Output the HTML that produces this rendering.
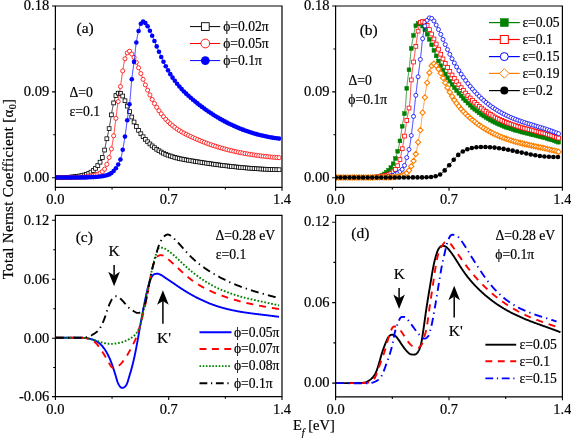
<!DOCTYPE html>
<html><head><meta charset="utf-8"><style>
html,body{margin:0;padding:0;background:#fff;width:571px;height:438px;overflow:hidden}
svg{display:block;will-change:transform}
text{font-family:"Liberation Serif",serif}
</style></head><body>
<svg width="571" height="438" viewBox="0 0 571 438">
<rect width="571" height="438" fill="#fff"/>
<defs><clipPath id="cpa"><rect x="55.4" y="6.0" width="226.6" height="181.4"/></clipPath><clipPath id="cpb"><rect x="335.6" y="6.0" width="226.79999999999995" height="181.4"/></clipPath><clipPath id="cpc"><rect x="55.4" y="215.4" width="226.6" height="181.20000000000002"/></clipPath><clipPath id="cpd"><rect x="335.6" y="215.4" width="226.79999999999995" height="181.4"/></clipPath></defs>
<g clip-path="url(#cpa)"><path d="M55.88,177.60 L56.48,177.60 L57.08,177.59 L57.68,177.59 L58.28,177.59 L58.88,177.58 L59.47,177.58 L60.07,177.57 L60.67,177.57 L61.27,177.56 L61.87,177.55 L62.47,177.54 L63.07,177.53 L63.67,177.52 L64.27,177.51 L64.87,177.50 L65.47,177.48 L66.06,177.46 L66.66,177.43 L67.26,177.39 L67.86,177.36 L68.46,177.31 L69.05,177.26 L69.65,177.21 L70.25,177.15 L70.84,177.09 L71.44,177.03 L72.03,176.96 L72.63,176.89 L73.23,176.82 L73.82,176.75 L74.42,176.68 L75.01,176.61 L75.60,176.54 L76.20,176.46 L76.79,176.38 L77.39,176.30 L77.98,176.22 L78.57,176.13 L79.17,176.04 L79.76,175.94 L80.35,175.84 L80.94,175.74 L81.53,175.63 L82.11,175.51 L82.70,175.39 L83.29,175.26 L83.87,175.12 L84.45,174.98 L85.03,174.82 L85.60,174.65 L86.17,174.46 L86.74,174.26 L87.30,174.05 L87.85,173.81 L88.39,173.57 L88.93,173.30 L89.47,173.03 L89.99,172.74 L90.51,172.45 L91.03,172.14 L91.53,171.81 L92.03,171.48 L92.51,171.12 L92.98,170.76 L93.44,170.37 L93.89,169.97 L94.32,169.56 L94.74,169.13 L95.16,168.70 L95.56,168.25 L95.95,167.80 L96.34,167.34 L96.72,166.88 L97.09,166.41 L97.46,165.94 L97.82,165.46 L98.18,164.98 L98.53,164.49 L98.87,164.00 L99.21,163.51 L99.54,163.01 L99.86,162.50 L100.17,161.99 L100.47,161.47 L100.76,160.94 L101.04,160.41 L101.30,159.88 L101.56,159.33 L101.80,158.79 L102.04,158.23 L102.26,157.68 L102.48,157.12 L102.69,156.56 L102.89,155.99 L103.08,155.43 L103.27,154.86 L103.45,154.29 L103.62,153.71 L103.79,153.14 L103.95,152.56 L104.11,151.98 L104.26,151.40 L104.40,150.82 L104.54,150.24 L104.67,149.65 L104.80,149.07 L104.92,148.48 L105.04,147.89 L105.15,147.30 L105.26,146.72 L105.37,146.13 L105.48,145.54 L105.59,144.95 L105.69,144.36 L105.80,143.77 L105.91,143.18 L106.03,142.59 L106.14,142.00 L106.26,141.42 L106.39,140.83 L106.51,140.25 L106.64,139.66 L106.78,139.08 L106.91,138.49 L107.05,137.91 L107.19,137.33 L107.33,136.74 L107.47,136.16 L107.61,135.58 L107.75,134.99 L107.88,134.41 L108.02,133.83 L108.16,133.24 L108.29,132.66 L108.42,132.08 L108.55,131.49 L108.67,130.90 L108.79,130.32 L108.91,129.73 L109.02,129.14 L109.13,128.55 L109.24,127.96 L109.34,127.37 L109.44,126.78 L109.54,126.19 L109.64,125.60 L109.74,125.01 L109.83,124.42 L109.93,123.82 L110.02,123.23 L110.12,122.64 L110.21,122.05 L110.30,121.46 L110.39,120.86 L110.49,120.27 L110.58,119.68 L110.67,119.09 L110.77,118.50 L110.87,117.91 L110.96,117.31 L111.06,116.72 L111.16,116.13 L111.26,115.54 L111.36,114.95 L111.46,114.36 L111.56,113.77 L111.66,113.18 L111.76,112.59 L111.86,112.00 L111.96,111.41 L112.07,110.82 L112.17,110.23 L112.28,109.64 L112.38,109.05 L112.49,108.46 L112.60,107.87 L112.72,107.28 L112.84,106.69 L112.96,106.11 L113.08,105.52 L113.20,104.93 L113.33,104.35 L113.46,103.76 L113.59,103.18 L113.73,102.59 L113.86,102.01 L114.01,101.43 L114.16,100.85 L114.31,100.27 L114.47,99.69 L114.64,99.12 L114.82,98.55 L115.01,97.98 L115.20,97.41 L115.40,96.84 L115.61,96.28 L115.82,95.72 L116.06,95.17 L116.33,94.64 L116.64,94.13 L117.04,93.68 L117.54,93.36 L118.11,93.18 L118.71,93.11 L119.31,93.12 L119.90,93.23 L120.45,93.45 L120.95,93.78 L121.39,94.19 L121.78,94.65 L122.13,95.13 L122.46,95.63 L122.77,96.14 L123.06,96.66 L123.34,97.20 L123.60,97.74 L123.86,98.28 L124.11,98.82 L124.36,99.37 L124.60,99.91 L124.85,100.46 L125.09,101.01 L125.33,101.56 L125.57,102.11 L125.81,102.66 L126.04,103.21 L126.28,103.76 L126.51,104.31 L126.74,104.86 L126.97,105.42 L127.20,105.97 L127.43,106.52 L127.66,107.08 L127.88,107.63 L128.11,108.19 L128.34,108.74 L128.56,109.30 L128.79,109.85 L129.02,110.41 L129.25,110.96 L129.48,111.51 L129.71,112.07 L129.93,112.62 L130.16,113.17 L130.39,113.73 L130.62,114.28 L130.86,114.83 L131.09,115.39 L131.32,115.94 L131.56,116.49 L131.79,117.04 L132.03,117.59 L132.27,118.14 L132.52,118.69 L132.76,119.23 L133.00,119.78 L133.25,120.33 L133.51,120.87 L133.76,121.41 L134.02,121.95 L134.28,122.49 L134.54,123.03 L134.81,123.57 L135.08,124.10 L135.35,124.64 L135.63,125.17 L135.91,125.70 L136.19,126.23 L136.48,126.75 L136.77,127.27 L137.06,127.80 L137.36,128.32 L137.67,128.83 L137.97,129.35 L138.28,129.86 L138.60,130.37 L138.92,130.88 L139.24,131.38 L139.57,131.88 L139.90,132.38 L140.24,132.88 L140.58,133.37 L140.92,133.86 L141.27,134.35 L141.63,134.83 L141.99,135.31 L142.35,135.79 L142.72,136.26 L143.09,136.73 L143.47,137.19 L143.85,137.65 L144.24,138.11 L144.63,138.56 L145.03,139.01 L145.43,139.46 L145.83,139.90 L146.24,140.34 L146.65,140.77 L147.07,141.20 L147.49,141.63 L147.92,142.05 L148.35,142.47 L148.78,142.88 L149.22,143.29 L149.66,143.70 L150.10,144.10 L150.55,144.50 L151.00,144.90 L151.45,145.29 L151.91,145.67 L152.37,146.06 L152.84,146.43 L153.31,146.81 L153.78,147.17 L154.26,147.54 L154.74,147.90 L155.22,148.25 L155.71,148.60 L156.20,148.94 L156.70,149.28 L157.19,149.61 L157.69,149.94 L158.20,150.26 L158.71,150.58 L159.22,150.89 L159.73,151.20 L160.25,151.50 L160.78,151.79 L161.30,152.08 L161.83,152.37 L162.36,152.64 L162.89,152.92 L163.43,153.19 L163.96,153.45 L164.51,153.71 L165.05,153.96 L165.60,154.20 L166.15,154.43 L166.71,154.66 L167.26,154.88 L167.82,155.09 L168.39,155.30 L168.95,155.51 L169.51,155.71 L170.08,155.90 L170.65,156.10 L171.21,156.28 L171.78,156.47 L172.36,156.65 L172.93,156.83 L173.50,157.00 L174.08,157.17 L174.65,157.34 L175.23,157.50 L175.81,157.65 L176.39,157.81 L176.97,157.96 L177.55,158.10 L178.13,158.24 L178.71,158.38 L179.30,158.51 L179.88,158.64 L180.47,158.77 L181.06,158.89 L181.64,159.01 L182.23,159.12 L182.82,159.24 L183.41,159.35 L184.00,159.46 L184.59,159.57 L185.18,159.67 L185.77,159.78 L186.36,159.88 L186.95,159.99 L187.54,160.09 L188.13,160.20 L188.72,160.30 L189.31,160.41 L189.90,160.51 L190.49,160.61 L191.08,160.71 L191.67,160.82 L192.26,160.92 L192.85,161.02 L193.44,161.12 L194.03,161.21 L194.62,161.31 L195.21,161.41 L195.81,161.51 L196.40,161.61 L196.99,161.70 L197.58,161.80 L198.17,161.89 L198.76,161.99 L199.36,162.08 L199.95,162.17 L200.54,162.27 L201.13,162.36 L201.72,162.45 L202.32,162.54 L202.91,162.63 L203.50,162.72 L204.09,162.81 L204.69,162.90 L205.28,162.99 L205.87,163.08 L206.46,163.16 L207.06,163.25 L207.65,163.34 L208.24,163.43 L208.84,163.51 L209.43,163.60 L210.02,163.68 L210.62,163.77 L211.21,163.85 L211.80,163.94 L212.39,164.02 L212.99,164.10 L213.58,164.19 L214.17,164.27 L214.77,164.35 L215.36,164.44 L215.96,164.52 L216.55,164.60 L217.14,164.68 L217.74,164.76 L218.33,164.84 L218.92,164.92 L219.52,165.00 L220.11,165.07 L220.71,165.15 L221.30,165.23 L221.90,165.30 L222.49,165.38 L223.08,165.46 L223.68,165.53 L224.27,165.60 L224.87,165.68 L225.46,165.75 L226.06,165.82 L226.65,165.89 L227.25,165.96 L227.84,166.03 L228.44,166.10 L229.03,166.16 L229.63,166.23 L230.23,166.30 L230.82,166.37 L231.42,166.43 L232.01,166.50 L232.61,166.56 L233.20,166.63 L233.80,166.69 L234.40,166.76 L234.99,166.82 L235.59,166.89 L236.18,166.95 L236.78,167.01 L237.37,167.07 L237.97,167.13 L238.57,167.20 L239.16,167.26 L239.76,167.31 L240.36,167.37 L240.95,167.43 L241.55,167.49 L242.14,167.55 L242.74,167.60 L243.34,167.66 L243.93,167.71 L244.53,167.77 L245.13,167.82 L245.73,167.87 L246.32,167.92 L246.92,167.97 L247.52,168.02 L248.11,168.07 L248.71,168.12 L249.31,168.17 L249.91,168.22 L250.50,168.26 L251.10,168.31 L251.70,168.36 L252.30,168.40 L252.89,168.45 L253.49,168.49 L254.09,168.54 L254.69,168.58 L255.28,168.63 L255.88,168.67 L256.48,168.71 L257.08,168.75 L257.67,168.79 L258.27,168.83 L258.87,168.87 L259.47,168.91 L260.07,168.95 L260.66,168.98 L261.26,169.02 L261.86,169.05 L262.46,169.08 L263.06,169.11 L263.66,169.15 L264.25,169.17 L264.85,169.20 L265.45,169.23 L266.05,169.26 L266.65,169.29 L267.25,169.31 L267.85,169.34 L268.44,169.36 L269.04,169.39 L269.64,169.41 L270.24,169.44 L270.84,169.46 L271.44,169.49 L272.04,169.51 L272.64,169.53 L273.23,169.55 L273.83,169.57 L274.43,169.59 L275.03,169.61 L275.63,169.63 L276.23,169.65 L276.83,169.67 L277.43,169.69 L278.03,169.70 L278.63,169.72" fill="none" stroke="#000" stroke-width="0.8"/>
<rect x="55.10" y="175.70" width="3.8" height="3.8" fill="#fff" stroke="#000" stroke-width="0.8"/>
<rect x="57.37" y="175.68" width="3.8" height="3.8" fill="#fff" stroke="#000" stroke-width="0.8"/>
<rect x="59.63" y="175.65" width="3.8" height="3.8" fill="#fff" stroke="#000" stroke-width="0.8"/>
<rect x="61.90" y="175.62" width="3.8" height="3.8" fill="#fff" stroke="#000" stroke-width="0.8"/>
<rect x="64.16" y="175.56" width="3.8" height="3.8" fill="#fff" stroke="#000" stroke-width="0.8"/>
<rect x="66.43" y="175.42" width="3.8" height="3.8" fill="#fff" stroke="#000" stroke-width="0.8"/>
<rect x="68.70" y="175.22" width="3.8" height="3.8" fill="#fff" stroke="#000" stroke-width="0.8"/>
<rect x="70.96" y="174.96" width="3.8" height="3.8" fill="#fff" stroke="#000" stroke-width="0.8"/>
<rect x="73.23" y="174.69" width="3.8" height="3.8" fill="#fff" stroke="#000" stroke-width="0.8"/>
<rect x="75.49" y="174.40" width="3.8" height="3.8" fill="#fff" stroke="#000" stroke-width="0.8"/>
<rect x="77.76" y="174.06" width="3.8" height="3.8" fill="#fff" stroke="#000" stroke-width="0.8"/>
<rect x="80.03" y="173.65" width="3.8" height="3.8" fill="#fff" stroke="#000" stroke-width="0.8"/>
<rect x="82.29" y="173.14" width="3.8" height="3.8" fill="#fff" stroke="#000" stroke-width="0.8"/>
<rect x="84.56" y="172.46" width="3.8" height="3.8" fill="#fff" stroke="#000" stroke-width="0.8"/>
<rect x="86.82" y="171.51" width="3.8" height="3.8" fill="#fff" stroke="#000" stroke-width="0.8"/>
<rect x="89.09" y="170.26" width="3.8" height="3.8" fill="#fff" stroke="#000" stroke-width="0.8"/>
<rect x="91.36" y="168.63" width="3.8" height="3.8" fill="#fff" stroke="#000" stroke-width="0.8"/>
<rect x="93.62" y="166.39" width="3.8" height="3.8" fill="#fff" stroke="#000" stroke-width="0.8"/>
<rect x="95.89" y="163.61" width="3.8" height="3.8" fill="#fff" stroke="#000" stroke-width="0.8"/>
<rect x="98.15" y="160.28" width="3.8" height="3.8" fill="#fff" stroke="#000" stroke-width="0.8"/>
<rect x="100.42" y="155.63" width="3.8" height="3.8" fill="#fff" stroke="#000" stroke-width="0.8"/>
<rect x="102.69" y="148.15" width="3.8" height="3.8" fill="#fff" stroke="#000" stroke-width="0.8"/>
<rect x="104.95" y="136.85" width="3.8" height="3.8" fill="#fff" stroke="#000" stroke-width="0.8"/>
<rect x="107.22" y="126.71" width="3.8" height="3.8" fill="#fff" stroke="#000" stroke-width="0.8"/>
<rect x="109.48" y="112.92" width="3.8" height="3.8" fill="#fff" stroke="#000" stroke-width="0.8"/>
<rect x="111.75" y="101.02" width="3.8" height="3.8" fill="#fff" stroke="#000" stroke-width="0.8"/>
<rect x="114.02" y="93.60" width="3.8" height="3.8" fill="#fff" stroke="#000" stroke-width="0.8"/>
<rect x="116.28" y="91.26" width="3.8" height="3.8" fill="#fff" stroke="#000" stroke-width="0.8"/>
<rect x="118.55" y="91.55" width="3.8" height="3.8" fill="#fff" stroke="#000" stroke-width="0.8"/>
<rect x="120.81" y="94.14" width="3.8" height="3.8" fill="#fff" stroke="#000" stroke-width="0.8"/>
<rect x="123.08" y="98.85" width="3.8" height="3.8" fill="#fff" stroke="#000" stroke-width="0.8"/>
<rect x="125.35" y="104.18" width="3.8" height="3.8" fill="#fff" stroke="#000" stroke-width="0.8"/>
<rect x="127.61" y="109.70" width="3.8" height="3.8" fill="#fff" stroke="#000" stroke-width="0.8"/>
<rect x="129.88" y="115.10" width="3.8" height="3.8" fill="#fff" stroke="#000" stroke-width="0.8"/>
<rect x="132.14" y="120.11" width="3.8" height="3.8" fill="#fff" stroke="#000" stroke-width="0.8"/>
<rect x="134.41" y="124.55" width="3.8" height="3.8" fill="#fff" stroke="#000" stroke-width="0.8"/>
<rect x="136.68" y="128.44" width="3.8" height="3.8" fill="#fff" stroke="#000" stroke-width="0.8"/>
<rect x="138.94" y="131.85" width="3.8" height="3.8" fill="#fff" stroke="#000" stroke-width="0.8"/>
<rect x="141.21" y="134.84" width="3.8" height="3.8" fill="#fff" stroke="#000" stroke-width="0.8"/>
<rect x="143.47" y="137.50" width="3.8" height="3.8" fill="#fff" stroke="#000" stroke-width="0.8"/>
<rect x="145.74" y="139.87" width="3.8" height="3.8" fill="#fff" stroke="#000" stroke-width="0.8"/>
<rect x="148.01" y="142.03" width="3.8" height="3.8" fill="#fff" stroke="#000" stroke-width="0.8"/>
<rect x="150.27" y="143.99" width="3.8" height="3.8" fill="#fff" stroke="#000" stroke-width="0.8"/>
<rect x="152.54" y="145.77" width="3.8" height="3.8" fill="#fff" stroke="#000" stroke-width="0.8"/>
<rect x="154.80" y="147.38" width="3.8" height="3.8" fill="#fff" stroke="#000" stroke-width="0.8"/>
<rect x="157.07" y="148.84" width="3.8" height="3.8" fill="#fff" stroke="#000" stroke-width="0.8"/>
<rect x="159.34" y="150.15" width="3.8" height="3.8" fill="#fff" stroke="#000" stroke-width="0.8"/>
<rect x="161.60" y="151.33" width="3.8" height="3.8" fill="#fff" stroke="#000" stroke-width="0.8"/>
<rect x="163.87" y="152.37" width="3.8" height="3.8" fill="#fff" stroke="#000" stroke-width="0.8"/>
<rect x="166.13" y="153.27" width="3.8" height="3.8" fill="#fff" stroke="#000" stroke-width="0.8"/>
<rect x="168.40" y="154.08" width="3.8" height="3.8" fill="#fff" stroke="#000" stroke-width="0.8"/>
<rect x="170.67" y="154.82" width="3.8" height="3.8" fill="#fff" stroke="#000" stroke-width="0.8"/>
<rect x="172.93" y="155.49" width="3.8" height="3.8" fill="#fff" stroke="#000" stroke-width="0.8"/>
<rect x="175.20" y="156.09" width="3.8" height="3.8" fill="#fff" stroke="#000" stroke-width="0.8"/>
<rect x="177.46" y="156.63" width="3.8" height="3.8" fill="#fff" stroke="#000" stroke-width="0.8"/>
<rect x="179.73" y="157.10" width="3.8" height="3.8" fill="#fff" stroke="#000" stroke-width="0.8"/>
<rect x="182.00" y="157.54" width="3.8" height="3.8" fill="#fff" stroke="#000" stroke-width="0.8"/>
<rect x="184.26" y="157.95" width="3.8" height="3.8" fill="#fff" stroke="#000" stroke-width="0.8"/>
<rect x="186.53" y="158.35" width="3.8" height="3.8" fill="#fff" stroke="#000" stroke-width="0.8"/>
<rect x="188.79" y="158.75" width="3.8" height="3.8" fill="#fff" stroke="#000" stroke-width="0.8"/>
<rect x="191.06" y="159.13" width="3.8" height="3.8" fill="#fff" stroke="#000" stroke-width="0.8"/>
<rect x="193.33" y="159.51" width="3.8" height="3.8" fill="#fff" stroke="#000" stroke-width="0.8"/>
<rect x="195.59" y="159.88" width="3.8" height="3.8" fill="#fff" stroke="#000" stroke-width="0.8"/>
<rect x="197.86" y="160.24" width="3.8" height="3.8" fill="#fff" stroke="#000" stroke-width="0.8"/>
<rect x="200.12" y="160.60" width="3.8" height="3.8" fill="#fff" stroke="#000" stroke-width="0.8"/>
<rect x="202.39" y="160.94" width="3.8" height="3.8" fill="#fff" stroke="#000" stroke-width="0.8"/>
<rect x="204.66" y="161.28" width="3.8" height="3.8" fill="#fff" stroke="#000" stroke-width="0.8"/>
<rect x="206.92" y="161.61" width="3.8" height="3.8" fill="#fff" stroke="#000" stroke-width="0.8"/>
<rect x="209.19" y="161.93" width="3.8" height="3.8" fill="#fff" stroke="#000" stroke-width="0.8"/>
<rect x="211.45" y="162.26" width="3.8" height="3.8" fill="#fff" stroke="#000" stroke-width="0.8"/>
<rect x="213.72" y="162.57" width="3.8" height="3.8" fill="#fff" stroke="#000" stroke-width="0.8"/>
<rect x="215.99" y="162.88" width="3.8" height="3.8" fill="#fff" stroke="#000" stroke-width="0.8"/>
<rect x="218.25" y="163.18" width="3.8" height="3.8" fill="#fff" stroke="#000" stroke-width="0.8"/>
<rect x="220.52" y="163.47" width="3.8" height="3.8" fill="#fff" stroke="#000" stroke-width="0.8"/>
<rect x="222.78" y="163.75" width="3.8" height="3.8" fill="#fff" stroke="#000" stroke-width="0.8"/>
<rect x="225.05" y="164.02" width="3.8" height="3.8" fill="#fff" stroke="#000" stroke-width="0.8"/>
<rect x="227.32" y="164.29" width="3.8" height="3.8" fill="#fff" stroke="#000" stroke-width="0.8"/>
<rect x="229.58" y="164.54" width="3.8" height="3.8" fill="#fff" stroke="#000" stroke-width="0.8"/>
<rect x="231.85" y="164.79" width="3.8" height="3.8" fill="#fff" stroke="#000" stroke-width="0.8"/>
<rect x="234.11" y="165.03" width="3.8" height="3.8" fill="#fff" stroke="#000" stroke-width="0.8"/>
<rect x="236.38" y="165.27" width="3.8" height="3.8" fill="#fff" stroke="#000" stroke-width="0.8"/>
<rect x="238.65" y="165.49" width="3.8" height="3.8" fill="#fff" stroke="#000" stroke-width="0.8"/>
<rect x="240.91" y="165.71" width="3.8" height="3.8" fill="#fff" stroke="#000" stroke-width="0.8"/>
<rect x="243.18" y="165.91" width="3.8" height="3.8" fill="#fff" stroke="#000" stroke-width="0.8"/>
<rect x="245.44" y="166.11" width="3.8" height="3.8" fill="#fff" stroke="#000" stroke-width="0.8"/>
<rect x="247.71" y="166.29" width="3.8" height="3.8" fill="#fff" stroke="#000" stroke-width="0.8"/>
<rect x="249.98" y="166.47" width="3.8" height="3.8" fill="#fff" stroke="#000" stroke-width="0.8"/>
<rect x="252.24" y="166.64" width="3.8" height="3.8" fill="#fff" stroke="#000" stroke-width="0.8"/>
<rect x="254.51" y="166.81" width="3.8" height="3.8" fill="#fff" stroke="#000" stroke-width="0.8"/>
<rect x="256.77" y="166.96" width="3.8" height="3.8" fill="#fff" stroke="#000" stroke-width="0.8"/>
<rect x="259.04" y="167.10" width="3.8" height="3.8" fill="#fff" stroke="#000" stroke-width="0.8"/>
<rect x="261.31" y="167.22" width="3.8" height="3.8" fill="#fff" stroke="#000" stroke-width="0.8"/>
<rect x="263.57" y="167.33" width="3.8" height="3.8" fill="#fff" stroke="#000" stroke-width="0.8"/>
<rect x="265.84" y="167.43" width="3.8" height="3.8" fill="#fff" stroke="#000" stroke-width="0.8"/>
<rect x="268.10" y="167.53" width="3.8" height="3.8" fill="#fff" stroke="#000" stroke-width="0.8"/>
<rect x="270.37" y="167.62" width="3.8" height="3.8" fill="#fff" stroke="#000" stroke-width="0.8"/>
<rect x="272.64" y="167.70" width="3.8" height="3.8" fill="#fff" stroke="#000" stroke-width="0.8"/>
<rect x="274.90" y="167.77" width="3.8" height="3.8" fill="#fff" stroke="#000" stroke-width="0.8"/>
<rect x="277.17" y="167.83" width="3.8" height="3.8" fill="#fff" stroke="#000" stroke-width="0.8"/>
<path d="M55.88,177.60 L56.48,177.60 L57.08,177.60 L57.68,177.60 L58.28,177.60 L58.88,177.59 L59.47,177.59 L60.07,177.59 L60.67,177.59 L61.27,177.58 L61.87,177.58 L62.47,177.57 L63.07,177.57 L63.67,177.57 L64.27,177.56 L64.87,177.56 L65.47,177.55 L66.07,177.54 L66.66,177.54 L67.26,177.53 L67.86,177.52 L68.46,177.52 L69.06,177.51 L69.66,177.50 L70.26,177.49 L70.86,177.48 L71.46,177.47 L72.06,177.46 L72.66,177.45 L73.25,177.44 L73.85,177.43 L74.45,177.42 L75.05,177.41 L75.65,177.40 L76.25,177.38 L76.85,177.37 L77.45,177.36 L78.05,177.35 L78.65,177.33 L79.24,177.32 L79.84,177.30 L80.44,177.28 L81.04,177.25 L81.64,177.22 L82.24,177.18 L82.83,177.14 L83.43,177.09 L84.03,177.03 L84.62,176.97 L85.22,176.91 L85.82,176.84 L86.41,176.77 L87.01,176.69 L87.60,176.62 L88.19,176.54 L88.79,176.45 L89.38,176.36 L89.97,176.26 L90.56,176.16 L91.15,176.05 L91.73,175.92 L92.32,175.79 L92.90,175.65 L93.48,175.51 L94.06,175.35 L94.64,175.19 L95.21,175.02 L95.79,174.85 L96.36,174.66 L96.92,174.47 L97.49,174.27 L98.05,174.06 L98.60,173.83 L99.15,173.59 L99.69,173.33 L100.22,173.05 L100.74,172.75 L101.25,172.43 L101.74,172.10 L102.22,171.73 L102.68,171.35 L103.12,170.94 L103.54,170.51 L103.93,170.06 L104.30,169.59 L104.63,169.09 L104.95,168.58 L105.24,168.06 L105.51,167.52 L105.77,166.98 L106.01,166.43 L106.25,165.88 L106.47,165.33 L106.70,164.77 L106.91,164.21 L107.12,163.65 L107.32,163.09 L107.52,162.52 L107.71,161.95 L107.90,161.38 L108.08,160.81 L108.26,160.24 L108.44,159.67 L108.62,159.10 L108.79,158.52 L108.97,157.95 L109.14,157.38 L109.32,156.81 L109.49,156.23 L109.66,155.66 L109.83,155.08 L110.00,154.51 L110.16,153.93 L110.32,153.35 L110.48,152.78 L110.63,152.20 L110.78,151.62 L110.92,151.03 L111.06,150.45 L111.19,149.87 L111.32,149.28 L111.44,148.69 L111.56,148.11 L111.68,147.52 L111.80,146.93 L111.91,146.34 L112.03,145.76 L112.13,145.17 L112.24,144.58 L112.35,143.99 L112.45,143.40 L112.55,142.81 L112.65,142.22 L112.75,141.63 L112.85,141.03 L112.94,140.44 L113.04,139.85 L113.13,139.26 L113.23,138.67 L113.32,138.08 L113.41,137.48 L113.49,136.89 L113.58,136.30 L113.67,135.70 L113.75,135.11 L113.83,134.52 L113.91,133.92 L113.99,133.33 L114.07,132.74 L114.15,132.14 L114.23,131.55 L114.30,130.95 L114.38,130.36 L114.45,129.76 L114.53,129.17 L114.60,128.58 L114.68,127.98 L114.75,127.39 L114.83,126.79 L114.90,126.20 L114.98,125.60 L115.05,125.01 L115.13,124.41 L115.21,123.82 L115.28,123.23 L115.36,122.63 L115.44,122.04 L115.52,121.44 L115.59,120.85 L115.67,120.26 L115.75,119.66 L115.82,119.07 L115.90,118.47 L115.98,117.88 L116.05,117.28 L116.13,116.69 L116.20,116.10 L116.28,115.50 L116.36,114.91 L116.43,114.31 L116.51,113.72 L116.59,113.12 L116.66,112.53 L116.74,111.94 L116.82,111.34 L116.90,110.75 L116.98,110.15 L117.06,109.56 L117.14,108.97 L117.22,108.37 L117.30,107.78 L117.38,107.19 L117.46,106.59 L117.54,106.00 L117.63,105.41 L117.71,104.81 L117.80,104.22 L117.88,103.63 L117.97,103.03 L118.06,102.44 L118.15,101.85 L118.23,101.26 L118.32,100.66 L118.41,100.07 L118.50,99.48 L118.59,98.89 L118.68,98.29 L118.77,97.70 L118.86,97.11 L118.95,96.52 L119.05,95.92 L119.14,95.33 L119.23,94.74 L119.32,94.15 L119.41,93.56 L119.50,92.96 L119.59,92.37 L119.68,91.78 L119.77,91.19 L119.86,90.59 L119.95,90.00 L120.04,89.41 L120.12,88.82 L120.21,88.22 L120.30,87.63 L120.38,87.04 L120.47,86.44 L120.55,85.85 L120.64,85.26 L120.72,84.66 L120.80,84.07 L120.89,83.48 L120.97,82.88 L121.05,82.29 L121.13,81.70 L121.22,81.10 L121.30,80.51 L121.38,79.92 L121.47,79.32 L121.55,78.73 L121.63,78.14 L121.72,77.54 L121.80,76.95 L121.89,76.36 L121.98,75.76 L122.06,75.17 L122.15,74.58 L122.24,73.99 L122.33,73.39 L122.42,72.80 L122.51,72.21 L122.61,71.62 L122.70,71.03 L122.79,70.43 L122.88,69.84 L122.97,69.25 L123.06,68.66 L123.15,68.06 L123.25,67.47 L123.34,66.88 L123.44,66.29 L123.53,65.70 L123.64,65.11 L123.74,64.52 L123.85,63.93 L123.96,63.34 L124.07,62.75 L124.19,62.16 L124.32,61.58 L124.44,60.99 L124.58,60.41 L124.72,59.83 L124.86,59.25 L125.02,58.67 L125.18,58.09 L125.34,57.51 L125.52,56.94 L125.71,56.37 L125.91,55.81 L126.13,55.25 L126.36,54.70 L126.60,54.15 L126.86,53.61 L127.14,53.08 L127.43,52.55 L127.75,52.05 L128.12,51.58 L128.57,51.19 L129.14,51.05 L129.67,51.32 L130.09,51.74 L130.46,52.22 L130.81,52.71 L131.15,53.19 L131.50,53.68 L131.86,54.16 L132.22,54.64 L132.58,55.12 L132.93,55.61 L133.27,56.10 L133.59,56.61 L133.90,57.12 L134.18,57.65 L134.46,58.18 L134.72,58.72 L134.98,59.26 L135.22,59.81 L135.47,60.35 L135.71,60.90 L135.95,61.45 L136.19,62.00 L136.42,62.55 L136.66,63.10 L136.89,63.65 L137.12,64.21 L137.35,64.76 L137.58,65.31 L137.81,65.87 L138.03,66.42 L138.26,66.98 L138.48,67.53 L138.70,68.09 L138.92,68.65 L139.14,69.21 L139.36,69.76 L139.58,70.32 L139.79,70.88 L140.01,71.44 L140.23,72.00 L140.45,72.56 L140.66,73.11 L140.88,73.67 L141.10,74.23 L141.32,74.79 L141.54,75.35 L141.75,75.90 L141.97,76.46 L142.19,77.02 L142.41,77.58 L142.63,78.13 L142.85,78.69 L143.08,79.25 L143.30,79.80 L143.52,80.36 L143.74,80.92 L143.97,81.47 L144.19,82.03 L144.42,82.58 L144.65,83.14 L144.88,83.69 L145.11,84.24 L145.34,84.80 L145.57,85.35 L145.80,85.90 L146.04,86.45 L146.27,87.00 L146.51,87.55 L146.75,88.10 L146.99,88.65 L147.23,89.20 L147.47,89.75 L147.71,90.30 L147.96,90.84 L148.21,91.39 L148.46,91.93 L148.71,92.48 L148.97,93.02 L149.22,93.56 L149.48,94.10 L149.74,94.64 L150.00,95.18 L150.27,95.72 L150.53,96.25 L150.80,96.79 L151.07,97.33 L151.34,97.86 L151.61,98.39 L151.89,98.92 L152.17,99.45 L152.45,99.98 L152.74,100.51 L153.03,101.03 L153.32,101.56 L153.61,102.08 L153.91,102.60 L154.21,103.12 L154.51,103.64 L154.81,104.16 L155.11,104.67 L155.42,105.19 L155.73,105.70 L156.04,106.21 L156.35,106.72 L156.67,107.23 L156.99,107.74 L157.31,108.25 L157.64,108.75 L157.96,109.25 L158.30,109.75 L158.63,110.24 L158.97,110.74 L159.31,111.23 L159.66,111.72 L160.01,112.20 L160.36,112.69 L160.72,113.17 L161.08,113.65 L161.44,114.13 L161.81,114.60 L162.17,115.07 L162.55,115.54 L162.92,116.01 L163.30,116.48 L163.68,116.94 L164.07,117.39 L164.46,117.85 L164.85,118.30 L165.25,118.75 L165.66,119.19 L166.06,119.63 L166.47,120.07 L166.89,120.50 L167.31,120.92 L167.74,121.35 L168.17,121.76 L168.60,122.18 L169.04,122.59 L169.48,122.99 L169.92,123.40 L170.37,123.79 L170.82,124.19 L171.27,124.58 L171.73,124.96 L172.19,125.35 L172.66,125.73 L173.12,126.10 L173.59,126.47 L174.07,126.84 L174.54,127.20 L175.02,127.56 L175.51,127.92 L175.99,128.27 L176.48,128.61 L176.97,128.96 L177.47,129.29 L177.97,129.63 L178.47,129.96 L178.97,130.28 L179.48,130.60 L179.99,130.91 L180.51,131.22 L181.02,131.52 L181.54,131.82 L182.06,132.11 L182.59,132.41 L183.11,132.69 L183.64,132.98 L184.17,133.26 L184.70,133.54 L185.23,133.81 L185.76,134.09 L186.30,134.36 L186.83,134.63 L187.37,134.89 L187.91,135.16 L188.45,135.42 L188.98,135.68 L189.52,135.94 L190.07,136.20 L190.61,136.46 L191.15,136.71 L191.69,136.97 L192.24,137.22 L192.78,137.46 L193.33,137.71 L193.87,137.96 L194.42,138.20 L194.97,138.44 L195.52,138.68 L196.07,138.92 L196.62,139.16 L197.17,139.39 L197.72,139.63 L198.27,139.86 L198.83,140.09 L199.38,140.32 L199.93,140.55 L200.49,140.78 L201.04,141.00 L201.60,141.23 L202.15,141.45 L202.71,141.67 L203.27,141.89 L203.83,142.11 L204.38,142.33 L204.94,142.55 L205.50,142.76 L206.06,142.97 L206.62,143.19 L207.18,143.39 L207.75,143.60 L208.31,143.80 L208.88,144.00 L209.44,144.20 L210.01,144.40 L210.57,144.60 L211.14,144.79 L211.71,144.99 L212.27,145.18 L212.84,145.37 L213.41,145.56 L213.98,145.74 L214.55,145.93 L215.12,146.11 L215.69,146.30 L216.26,146.48 L216.83,146.66 L217.40,146.84 L217.98,147.01 L218.55,147.19 L219.12,147.36 L219.70,147.53 L220.27,147.70 L220.85,147.87 L221.42,148.04 L222.00,148.20 L222.57,148.36 L223.15,148.53 L223.73,148.69 L224.31,148.85 L224.88,149.00 L225.46,149.16 L226.04,149.31 L226.62,149.47 L227.20,149.62 L227.78,149.77 L228.36,149.91 L228.94,150.06 L229.52,150.21 L230.11,150.35 L230.69,150.49 L231.27,150.63 L231.85,150.77 L232.44,150.91 L233.02,151.04 L233.60,151.18 L234.19,151.31 L234.77,151.44 L235.36,151.57 L235.94,151.70 L236.53,151.83 L237.11,151.95 L237.70,152.08 L238.29,152.20 L238.87,152.32 L239.46,152.44 L240.05,152.56 L240.64,152.68 L241.22,152.80 L241.81,152.91 L242.40,153.02 L242.99,153.13 L243.58,153.25 L244.17,153.35 L244.76,153.46 L245.35,153.57 L245.94,153.67 L246.53,153.78 L247.12,153.88 L247.71,153.98 L248.30,154.08 L248.89,154.18 L249.48,154.28 L250.07,154.37 L250.66,154.47 L251.25,154.56 L251.85,154.65 L252.44,154.74 L253.03,154.83 L253.62,154.92 L254.22,155.01 L254.81,155.10 L255.40,155.18 L256.00,155.26 L256.59,155.35 L257.18,155.43 L257.78,155.51 L258.37,155.59 L258.96,155.67 L259.56,155.74 L260.15,155.82 L260.75,155.89 L261.34,155.97 L261.94,156.04 L262.53,156.11 L263.13,156.18 L263.72,156.25 L264.32,156.32 L264.91,156.39 L265.51,156.45 L266.10,156.52 L266.70,156.58 L267.30,156.65 L267.89,156.71 L268.49,156.77 L269.08,156.83 L269.68,156.89 L270.28,156.95 L270.87,157.00 L271.47,157.06 L272.07,157.12 L272.66,157.17 L273.26,157.22 L273.86,157.28 L274.45,157.33 L275.05,157.38 L275.65,157.43 L276.24,157.48 L276.84,157.53 L277.44,157.58 L278.04,157.62 L278.63,157.67" fill="none" stroke="#f00" stroke-width="0.8"/>
<circle cx="57.00" cy="177.60" r="2.05" fill="#fff" stroke="#f00" stroke-width="0.8"/>
<circle cx="59.27" cy="177.59" r="2.05" fill="#fff" stroke="#f00" stroke-width="0.8"/>
<circle cx="61.53" cy="177.58" r="2.05" fill="#fff" stroke="#f00" stroke-width="0.8"/>
<circle cx="63.80" cy="177.56" r="2.05" fill="#fff" stroke="#f00" stroke-width="0.8"/>
<circle cx="66.06" cy="177.54" r="2.05" fill="#fff" stroke="#f00" stroke-width="0.8"/>
<circle cx="68.33" cy="177.52" r="2.05" fill="#fff" stroke="#f00" stroke-width="0.8"/>
<circle cx="70.60" cy="177.49" r="2.05" fill="#fff" stroke="#f00" stroke-width="0.8"/>
<circle cx="72.86" cy="177.45" r="2.05" fill="#fff" stroke="#f00" stroke-width="0.8"/>
<circle cx="75.13" cy="177.41" r="2.05" fill="#fff" stroke="#f00" stroke-width="0.8"/>
<circle cx="77.39" cy="177.36" r="2.05" fill="#fff" stroke="#f00" stroke-width="0.8"/>
<circle cx="79.66" cy="177.30" r="2.05" fill="#fff" stroke="#f00" stroke-width="0.8"/>
<circle cx="81.93" cy="177.20" r="2.05" fill="#fff" stroke="#f00" stroke-width="0.8"/>
<circle cx="84.19" cy="177.02" r="2.05" fill="#fff" stroke="#f00" stroke-width="0.8"/>
<circle cx="86.46" cy="176.76" r="2.05" fill="#fff" stroke="#f00" stroke-width="0.8"/>
<circle cx="88.72" cy="176.46" r="2.05" fill="#fff" stroke="#f00" stroke-width="0.8"/>
<circle cx="90.99" cy="176.08" r="2.05" fill="#fff" stroke="#f00" stroke-width="0.8"/>
<circle cx="93.26" cy="175.57" r="2.05" fill="#fff" stroke="#f00" stroke-width="0.8"/>
<circle cx="95.52" cy="174.93" r="2.05" fill="#fff" stroke="#f00" stroke-width="0.8"/>
<circle cx="97.79" cy="174.16" r="2.05" fill="#fff" stroke="#f00" stroke-width="0.8"/>
<circle cx="100.05" cy="173.14" r="2.05" fill="#fff" stroke="#f00" stroke-width="0.8"/>
<circle cx="102.32" cy="171.65" r="2.05" fill="#fff" stroke="#f00" stroke-width="0.8"/>
<circle cx="104.59" cy="169.17" r="2.05" fill="#fff" stroke="#f00" stroke-width="0.8"/>
<circle cx="106.85" cy="164.37" r="2.05" fill="#fff" stroke="#f00" stroke-width="0.8"/>
<circle cx="109.12" cy="157.46" r="2.05" fill="#fff" stroke="#f00" stroke-width="0.8"/>
<circle cx="111.38" cy="148.97" r="2.05" fill="#fff" stroke="#f00" stroke-width="0.8"/>
<circle cx="113.65" cy="135.81" r="2.05" fill="#fff" stroke="#f00" stroke-width="0.8"/>
<circle cx="115.92" cy="118.34" r="2.05" fill="#fff" stroke="#f00" stroke-width="0.8"/>
<circle cx="118.18" cy="101.60" r="2.05" fill="#fff" stroke="#f00" stroke-width="0.8"/>
<circle cx="120.45" cy="86.58" r="2.05" fill="#fff" stroke="#f00" stroke-width="0.8"/>
<circle cx="122.71" cy="70.91" r="2.05" fill="#fff" stroke="#f00" stroke-width="0.8"/>
<circle cx="124.98" cy="58.80" r="2.05" fill="#fff" stroke="#f00" stroke-width="0.8"/>
<circle cx="127.25" cy="52.87" r="2.05" fill="#fff" stroke="#f00" stroke-width="0.8"/>
<circle cx="129.51" cy="51.20" r="2.05" fill="#fff" stroke="#f00" stroke-width="0.8"/>
<circle cx="131.78" cy="54.05" r="2.05" fill="#fff" stroke="#f00" stroke-width="0.8"/>
<circle cx="134.04" cy="57.39" r="2.05" fill="#fff" stroke="#f00" stroke-width="0.8"/>
<circle cx="136.31" cy="62.29" r="2.05" fill="#fff" stroke="#f00" stroke-width="0.8"/>
<circle cx="138.58" cy="67.77" r="2.05" fill="#fff" stroke="#f00" stroke-width="0.8"/>
<circle cx="140.84" cy="73.57" r="2.05" fill="#fff" stroke="#f00" stroke-width="0.8"/>
<circle cx="143.11" cy="79.33" r="2.05" fill="#fff" stroke="#f00" stroke-width="0.8"/>
<circle cx="145.37" cy="84.88" r="2.05" fill="#fff" stroke="#f00" stroke-width="0.8"/>
<circle cx="147.64" cy="90.13" r="2.05" fill="#fff" stroke="#f00" stroke-width="0.8"/>
<circle cx="149.91" cy="94.98" r="2.05" fill="#fff" stroke="#f00" stroke-width="0.8"/>
<circle cx="152.17" cy="99.46" r="2.05" fill="#fff" stroke="#f00" stroke-width="0.8"/>
<circle cx="154.44" cy="103.52" r="2.05" fill="#fff" stroke="#f00" stroke-width="0.8"/>
<circle cx="156.70" cy="107.29" r="2.05" fill="#fff" stroke="#f00" stroke-width="0.8"/>
<circle cx="158.97" cy="110.74" r="2.05" fill="#fff" stroke="#f00" stroke-width="0.8"/>
<circle cx="161.24" cy="113.86" r="2.05" fill="#fff" stroke="#f00" stroke-width="0.8"/>
<circle cx="163.50" cy="116.72" r="2.05" fill="#fff" stroke="#f00" stroke-width="0.8"/>
<circle cx="165.77" cy="119.31" r="2.05" fill="#fff" stroke="#f00" stroke-width="0.8"/>
<circle cx="168.03" cy="121.64" r="2.05" fill="#fff" stroke="#f00" stroke-width="0.8"/>
<circle cx="170.30" cy="123.73" r="2.05" fill="#fff" stroke="#f00" stroke-width="0.8"/>
<circle cx="172.57" cy="125.65" r="2.05" fill="#fff" stroke="#f00" stroke-width="0.8"/>
<circle cx="174.83" cy="127.42" r="2.05" fill="#fff" stroke="#f00" stroke-width="0.8"/>
<circle cx="177.10" cy="129.04" r="2.05" fill="#fff" stroke="#f00" stroke-width="0.8"/>
<circle cx="179.36" cy="130.52" r="2.05" fill="#fff" stroke="#f00" stroke-width="0.8"/>
<circle cx="181.63" cy="131.87" r="2.05" fill="#fff" stroke="#f00" stroke-width="0.8"/>
<circle cx="183.90" cy="133.11" r="2.05" fill="#fff" stroke="#f00" stroke-width="0.8"/>
<circle cx="186.16" cy="134.29" r="2.05" fill="#fff" stroke="#f00" stroke-width="0.8"/>
<circle cx="188.43" cy="135.41" r="2.05" fill="#fff" stroke="#f00" stroke-width="0.8"/>
<circle cx="190.69" cy="136.50" r="2.05" fill="#fff" stroke="#f00" stroke-width="0.8"/>
<circle cx="192.96" cy="137.55" r="2.05" fill="#fff" stroke="#f00" stroke-width="0.8"/>
<circle cx="195.23" cy="138.55" r="2.05" fill="#fff" stroke="#f00" stroke-width="0.8"/>
<circle cx="197.49" cy="139.53" r="2.05" fill="#fff" stroke="#f00" stroke-width="0.8"/>
<circle cx="199.76" cy="140.48" r="2.05" fill="#fff" stroke="#f00" stroke-width="0.8"/>
<circle cx="202.02" cy="141.40" r="2.05" fill="#fff" stroke="#f00" stroke-width="0.8"/>
<circle cx="204.29" cy="142.29" r="2.05" fill="#fff" stroke="#f00" stroke-width="0.8"/>
<circle cx="206.56" cy="143.16" r="2.05" fill="#fff" stroke="#f00" stroke-width="0.8"/>
<circle cx="208.82" cy="143.99" r="2.05" fill="#fff" stroke="#f00" stroke-width="0.8"/>
<circle cx="211.09" cy="144.78" r="2.05" fill="#fff" stroke="#f00" stroke-width="0.8"/>
<circle cx="213.35" cy="145.54" r="2.05" fill="#fff" stroke="#f00" stroke-width="0.8"/>
<circle cx="215.62" cy="146.28" r="2.05" fill="#fff" stroke="#f00" stroke-width="0.8"/>
<circle cx="217.89" cy="146.98" r="2.05" fill="#fff" stroke="#f00" stroke-width="0.8"/>
<circle cx="220.15" cy="147.67" r="2.05" fill="#fff" stroke="#f00" stroke-width="0.8"/>
<circle cx="222.42" cy="148.32" r="2.05" fill="#fff" stroke="#f00" stroke-width="0.8"/>
<circle cx="224.68" cy="148.95" r="2.05" fill="#fff" stroke="#f00" stroke-width="0.8"/>
<circle cx="226.95" cy="149.55" r="2.05" fill="#fff" stroke="#f00" stroke-width="0.8"/>
<circle cx="229.22" cy="150.13" r="2.05" fill="#fff" stroke="#f00" stroke-width="0.8"/>
<circle cx="231.48" cy="150.68" r="2.05" fill="#fff" stroke="#f00" stroke-width="0.8"/>
<circle cx="233.75" cy="151.21" r="2.05" fill="#fff" stroke="#f00" stroke-width="0.8"/>
<circle cx="236.01" cy="151.72" r="2.05" fill="#fff" stroke="#f00" stroke-width="0.8"/>
<circle cx="238.28" cy="152.20" r="2.05" fill="#fff" stroke="#f00" stroke-width="0.8"/>
<circle cx="240.55" cy="152.66" r="2.05" fill="#fff" stroke="#f00" stroke-width="0.8"/>
<circle cx="242.81" cy="153.10" r="2.05" fill="#fff" stroke="#f00" stroke-width="0.8"/>
<circle cx="245.08" cy="153.52" r="2.05" fill="#fff" stroke="#f00" stroke-width="0.8"/>
<circle cx="247.34" cy="153.92" r="2.05" fill="#fff" stroke="#f00" stroke-width="0.8"/>
<circle cx="249.61" cy="154.30" r="2.05" fill="#fff" stroke="#f00" stroke-width="0.8"/>
<circle cx="251.88" cy="154.66" r="2.05" fill="#fff" stroke="#f00" stroke-width="0.8"/>
<circle cx="254.14" cy="155.00" r="2.05" fill="#fff" stroke="#f00" stroke-width="0.8"/>
<circle cx="256.41" cy="155.32" r="2.05" fill="#fff" stroke="#f00" stroke-width="0.8"/>
<circle cx="258.67" cy="155.63" r="2.05" fill="#fff" stroke="#f00" stroke-width="0.8"/>
<circle cx="260.94" cy="155.92" r="2.05" fill="#fff" stroke="#f00" stroke-width="0.8"/>
<circle cx="263.21" cy="156.19" r="2.05" fill="#fff" stroke="#f00" stroke-width="0.8"/>
<circle cx="265.47" cy="156.45" r="2.05" fill="#fff" stroke="#f00" stroke-width="0.8"/>
<circle cx="267.74" cy="156.69" r="2.05" fill="#fff" stroke="#f00" stroke-width="0.8"/>
<circle cx="270.00" cy="156.92" r="2.05" fill="#fff" stroke="#f00" stroke-width="0.8"/>
<circle cx="272.27" cy="157.13" r="2.05" fill="#fff" stroke="#f00" stroke-width="0.8"/>
<circle cx="274.54" cy="157.34" r="2.05" fill="#fff" stroke="#f00" stroke-width="0.8"/>
<circle cx="276.80" cy="157.53" r="2.05" fill="#fff" stroke="#f00" stroke-width="0.8"/>
<circle cx="279.07" cy="157.70" r="2.05" fill="#fff" stroke="#f00" stroke-width="0.8"/>
<path d="M55.88,177.50 L56.48,177.50 L57.08,177.50 L57.68,177.50 L58.28,177.50 L58.88,177.50 L59.48,177.50 L60.08,177.50 L60.68,177.50 L61.28,177.50 L61.88,177.50 L62.48,177.49 L63.08,177.49 L63.68,177.49 L64.28,177.49 L64.88,177.49 L65.48,177.49 L66.08,177.49 L66.68,177.49 L67.28,177.48 L67.88,177.48 L68.48,177.48 L69.08,177.48 L69.68,177.48 L70.27,177.48 L70.87,177.47 L71.47,177.47 L72.07,177.47 L72.67,177.47 L73.27,177.47 L73.87,177.46 L74.47,177.46 L75.07,177.46 L75.67,177.45 L76.27,177.45 L76.87,177.45 L77.47,177.45 L78.07,177.44 L78.67,177.44 L79.27,177.44 L79.87,177.43 L80.47,177.43 L81.07,177.43 L81.67,177.42 L82.27,177.42 L82.87,177.42 L83.47,177.41 L84.07,177.41 L84.67,177.40 L85.27,177.40 L85.87,177.39 L86.47,177.38 L87.07,177.37 L87.67,177.35 L88.27,177.33 L88.87,177.31 L89.47,177.29 L90.07,177.27 L90.67,177.24 L91.27,177.21 L91.86,177.18 L92.46,177.14 L93.06,177.10 L93.66,177.06 L94.26,177.02 L94.86,176.98 L95.46,176.93 L96.05,176.89 L96.65,176.84 L97.25,176.78 L97.85,176.73 L98.44,176.67 L99.04,176.62 L99.64,176.56 L100.23,176.50 L100.83,176.43 L101.43,176.36 L102.02,176.28 L102.61,176.19 L103.21,176.09 L103.80,175.98 L104.38,175.86 L104.97,175.73 L105.55,175.59 L106.13,175.44 L106.71,175.27 L107.28,175.10 L107.85,174.91 L108.42,174.71 L108.97,174.48 L109.52,174.23 L110.05,173.96 L110.57,173.65 L111.07,173.32 L111.55,172.96 L112.01,172.59 L112.47,172.19 L112.91,171.79 L113.34,171.37 L113.76,170.94 L114.17,170.50 L114.56,170.05 L114.95,169.59 L115.32,169.12 L115.68,168.64 L116.03,168.15 L116.36,167.65 L116.69,167.15 L117.00,166.64 L117.31,166.12 L117.61,165.60 L117.90,165.08 L118.18,164.55 L118.46,164.02 L118.73,163.48 L119.00,162.94 L119.25,162.40 L119.50,161.86 L119.74,161.31 L119.97,160.75 L120.19,160.20 L120.40,159.63 L120.59,159.07 L120.78,158.49 L120.95,157.92 L121.11,157.34 L121.26,156.76 L121.41,156.18 L121.55,155.60 L121.68,155.01 L121.81,154.42 L121.93,153.84 L122.05,153.25 L122.17,152.66 L122.28,152.07 L122.39,151.48 L122.51,150.89 L122.62,150.30 L122.73,149.72 L122.84,149.13 L122.95,148.54 L123.06,147.95 L123.17,147.36 L123.28,146.77 L123.39,146.18 L123.49,145.59 L123.60,145.00 L123.70,144.41 L123.81,143.81 L123.91,143.22 L124.01,142.63 L124.11,142.04 L124.21,141.45 L124.31,140.86 L124.40,140.27 L124.50,139.67 L124.59,139.08 L124.69,138.49 L124.78,137.90 L124.87,137.30 L124.97,136.71 L125.06,136.12 L125.15,135.52 L125.23,134.93 L125.32,134.34 L125.41,133.74 L125.49,133.15 L125.57,132.56 L125.66,131.96 L125.74,131.37 L125.82,130.77 L125.90,130.18 L125.98,129.59 L126.06,128.99 L126.14,128.40 L126.22,127.80 L126.30,127.21 L126.38,126.61 L126.46,126.02 L126.54,125.42 L126.62,124.83 L126.70,124.23 L126.78,123.64 L126.86,123.04 L126.94,122.45 L127.02,121.86 L127.10,121.26 L127.18,120.67 L127.26,120.07 L127.34,119.48 L127.43,118.88 L127.51,118.29 L127.60,117.70 L127.69,117.10 L127.77,116.51 L127.86,115.92 L127.95,115.32 L128.04,114.73 L128.12,114.14 L128.21,113.54 L128.30,112.95 L128.39,112.36 L128.48,111.76 L128.56,111.17 L128.65,110.58 L128.74,109.98 L128.82,109.39 L128.91,108.80 L128.99,108.20 L129.08,107.61 L129.16,107.01 L129.24,106.42 L129.32,105.82 L129.39,105.23 L129.47,104.63 L129.55,104.04 L129.62,103.44 L129.69,102.85 L129.76,102.25 L129.82,101.66 L129.89,101.06 L129.95,100.46 L130.01,99.87 L130.07,99.27 L130.13,98.67 L130.19,98.08 L130.24,97.48 L130.29,96.88 L130.35,96.28 L130.40,95.69 L130.45,95.09 L130.50,94.49 L130.54,93.89 L130.59,93.29 L130.64,92.70 L130.68,92.10 L130.73,91.50 L130.78,90.90 L130.82,90.30 L130.87,89.71 L130.91,89.11 L130.96,88.51 L131.01,87.91 L131.05,87.31 L131.10,86.72 L131.15,86.12 L131.20,85.52 L131.25,84.92 L131.30,84.32 L131.35,83.73 L131.40,83.13 L131.46,82.53 L131.51,81.93 L131.57,81.34 L131.63,80.74 L131.69,80.14 L131.75,79.55 L131.82,78.95 L131.88,78.35 L131.95,77.76 L132.02,77.16 L132.09,76.57 L132.16,75.97 L132.24,75.38 L132.31,74.78 L132.39,74.19 L132.46,73.59 L132.54,73.00 L132.62,72.40 L132.70,71.81 L132.78,71.21 L132.86,70.62 L132.94,70.02 L133.03,69.43 L133.11,68.84 L133.19,68.24 L133.27,67.65 L133.35,67.05 L133.44,66.46 L133.52,65.86 L133.60,65.27 L133.68,64.68 L133.76,64.08 L133.84,63.49 L133.92,62.89 L134.00,62.30 L134.07,61.70 L134.15,61.11 L134.22,60.51 L134.29,59.92 L134.37,59.32 L134.44,58.73 L134.51,58.13 L134.57,57.53 L134.64,56.94 L134.70,56.34 L134.77,55.74 L134.83,55.15 L134.90,54.55 L134.96,53.96 L135.02,53.36 L135.08,52.76 L135.15,52.17 L135.21,51.57 L135.27,50.97 L135.34,50.38 L135.40,49.78 L135.47,49.18 L135.54,48.59 L135.60,47.99 L135.67,47.40 L135.74,46.80 L135.82,46.20 L135.89,45.61 L135.97,45.01 L136.05,44.42 L136.13,43.83 L136.21,43.23 L136.30,42.64 L136.39,42.05 L136.48,41.45 L136.58,40.86 L136.68,40.27 L136.78,39.68 L136.88,39.09 L136.99,38.50 L137.10,37.91 L137.21,37.32 L137.32,36.73 L137.44,36.14 L137.56,35.55 L137.68,34.97 L137.81,34.38 L137.94,33.79 L138.07,33.21 L138.20,32.62 L138.33,32.04 L138.47,31.45 L138.61,30.87 L138.76,30.29 L138.90,29.71 L139.05,29.12 L139.20,28.54 L139.35,27.96 L139.51,27.39 L139.68,26.81 L139.86,26.24 L140.05,25.67 L140.26,25.11 L140.47,24.55 L140.70,23.99 L140.95,23.45 L141.23,22.92 L141.55,22.40 L141.93,21.94 L142.42,21.61 L143.01,21.54 L143.59,21.71 L144.11,22.01 L144.59,22.36 L145.04,22.76 L145.46,23.19 L145.86,23.63 L146.24,24.10 L146.59,24.58 L146.93,25.08 L147.25,25.59 L147.55,26.10 L147.84,26.63 L148.11,27.17 L148.38,27.70 L148.65,28.24 L148.91,28.78 L149.17,29.32 L149.44,29.86 L149.70,30.40 L149.96,30.94 L150.22,31.48 L150.48,32.02 L150.73,32.56 L150.99,33.10 L151.24,33.65 L151.49,34.20 L151.73,34.74 L151.98,35.29 L152.22,35.84 L152.46,36.39 L152.70,36.94 L152.94,37.49 L153.18,38.04 L153.41,38.59 L153.65,39.14 L153.89,39.69 L154.12,40.25 L154.35,40.80 L154.59,41.35 L154.82,41.90 L155.05,42.46 L155.29,43.01 L155.52,43.56 L155.75,44.11 L155.98,44.67 L156.22,45.22 L156.45,45.77 L156.68,46.33 L156.91,46.88 L157.14,47.43 L157.37,47.99 L157.61,48.54 L157.84,49.09 L158.07,49.65 L158.31,50.20 L158.54,50.75 L158.78,51.30 L159.01,51.85 L159.25,52.40 L159.49,52.96 L159.72,53.51 L159.96,54.06 L160.20,54.61 L160.44,55.16 L160.69,55.70 L160.93,56.25 L161.18,56.80 L161.42,57.35 L161.67,57.89 L161.92,58.44 L162.18,58.98 L162.43,59.52 L162.69,60.07 L162.94,60.61 L163.20,61.15 L163.47,61.69 L163.73,62.23 L163.99,62.77 L164.26,63.30 L164.53,63.84 L164.80,64.37 L165.08,64.91 L165.35,65.44 L165.63,65.97 L165.91,66.50 L166.19,67.03 L166.48,67.56 L166.76,68.09 L167.05,68.61 L167.35,69.13 L167.64,69.66 L167.94,70.18 L168.24,70.70 L168.54,71.22 L168.84,71.73 L169.15,72.25 L169.46,72.76 L169.77,73.27 L170.09,73.79 L170.40,74.30 L170.72,74.80 L171.04,75.31 L171.37,75.81 L171.70,76.32 L172.02,76.82 L172.36,77.32 L172.69,77.81 L173.03,78.31 L173.37,78.80 L173.72,79.29 L174.07,79.78 L174.42,80.26 L174.78,80.75 L175.14,81.23 L175.50,81.71 L175.86,82.18 L176.23,82.66 L176.60,83.13 L176.97,83.60 L177.34,84.07 L177.72,84.54 L178.10,85.00 L178.48,85.47 L178.86,85.93 L179.25,86.39 L179.64,86.84 L180.03,87.30 L180.43,87.75 L180.83,88.19 L181.23,88.64 L181.64,89.08 L182.04,89.52 L182.46,89.96 L182.87,90.39 L183.29,90.82 L183.71,91.25 L184.13,91.68 L184.55,92.10 L184.98,92.52 L185.41,92.94 L185.84,93.36 L186.27,93.77 L186.71,94.19 L187.15,94.60 L187.59,95.00 L188.03,95.41 L188.47,95.81 L188.92,96.21 L189.37,96.61 L189.82,97.01 L190.27,97.40 L190.72,97.80 L191.17,98.19 L191.63,98.58 L192.08,98.97 L192.54,99.36 L193.00,99.75 L193.46,100.14 L193.92,100.52 L194.38,100.90 L194.84,101.28 L195.31,101.66 L195.77,102.04 L196.24,102.42 L196.70,102.80 L197.17,103.17 L197.64,103.54 L198.11,103.92 L198.58,104.29 L199.06,104.66 L199.53,105.02 L200.01,105.39 L200.48,105.76 L200.96,106.12 L201.44,106.48 L201.92,106.84 L202.40,107.20 L202.88,107.56 L203.36,107.91 L203.85,108.27 L204.33,108.62 L204.82,108.97 L205.30,109.32 L205.79,109.67 L206.28,110.02 L206.77,110.36 L207.26,110.71 L207.76,111.05 L208.25,111.39 L208.75,111.73 L209.24,112.07 L209.74,112.40 L210.24,112.73 L210.74,113.07 L211.24,113.40 L211.74,113.73 L212.24,114.05 L212.75,114.38 L213.25,114.70 L213.76,115.02 L214.26,115.34 L214.77,115.66 L215.28,115.98 L215.79,116.30 L216.30,116.61 L216.82,116.92 L217.33,117.23 L217.85,117.54 L218.36,117.84 L218.88,118.15 L219.40,118.45 L219.92,118.75 L220.44,119.05 L220.96,119.34 L221.48,119.64 L222.01,119.93 L222.53,120.22 L223.06,120.51 L223.58,120.80 L224.11,121.08 L224.64,121.37 L225.17,121.65 L225.70,121.93 L226.23,122.20 L226.76,122.48 L227.30,122.75 L227.83,123.02 L228.37,123.29 L228.90,123.56 L229.44,123.83 L229.98,124.09 L230.52,124.35 L231.06,124.61 L231.60,124.87 L232.15,125.12 L232.69,125.38 L233.24,125.63 L233.78,125.88 L234.33,126.12 L234.88,126.37 L235.42,126.61 L235.97,126.85 L236.52,127.09 L237.07,127.33 L237.63,127.56 L238.18,127.79 L238.73,128.02 L239.29,128.25 L239.85,128.48 L240.40,128.70 L240.96,128.92 L241.52,129.14 L242.08,129.36 L242.64,129.57 L243.20,129.79 L243.76,130.00 L244.32,130.20 L244.89,130.41 L245.45,130.61 L246.01,130.82 L246.58,131.01 L247.15,131.21 L247.71,131.41 L248.28,131.60 L248.85,131.79 L249.42,131.98 L249.99,132.16 L250.56,132.35 L251.13,132.53 L251.71,132.71 L252.28,132.89 L252.85,133.06 L253.43,133.23 L254.00,133.40 L254.58,133.57 L255.16,133.74 L255.73,133.90 L256.31,134.06 L256.89,134.22 L257.47,134.38 L258.05,134.53 L258.63,134.68 L259.21,134.83 L259.79,134.98 L260.37,135.13 L260.95,135.27 L261.54,135.41 L262.12,135.55 L262.71,135.68 L263.29,135.82 L263.88,135.95 L264.46,136.08 L265.05,136.21 L265.63,136.33 L266.22,136.46 L266.81,136.58 L267.40,136.69 L267.98,136.81 L268.57,136.92 L269.16,137.04 L269.75,137.14 L270.34,137.25 L270.93,137.36 L271.52,137.46 L272.12,137.56 L272.71,137.66 L273.30,137.76 L273.89,137.85 L274.48,137.94 L275.08,138.03 L275.67,138.12 L276.27,138.20 L276.86,138.29 L277.45,138.37 L278.05,138.45 L278.64,138.52" fill="none" stroke="#00f" stroke-width="0.8"/>
<circle cx="57.00" cy="177.50" r="2.3" fill="#00f"/>
<circle cx="59.27" cy="177.50" r="2.3" fill="#00f"/>
<circle cx="61.53" cy="177.50" r="2.3" fill="#00f"/>
<circle cx="63.80" cy="177.49" r="2.3" fill="#00f"/>
<circle cx="66.06" cy="177.49" r="2.3" fill="#00f"/>
<circle cx="68.33" cy="177.48" r="2.3" fill="#00f"/>
<circle cx="70.60" cy="177.47" r="2.3" fill="#00f"/>
<circle cx="72.86" cy="177.47" r="2.3" fill="#00f"/>
<circle cx="75.13" cy="177.46" r="2.3" fill="#00f"/>
<circle cx="77.39" cy="177.45" r="2.3" fill="#00f"/>
<circle cx="79.66" cy="177.43" r="2.3" fill="#00f"/>
<circle cx="81.93" cy="177.42" r="2.3" fill="#00f"/>
<circle cx="84.19" cy="177.41" r="2.3" fill="#00f"/>
<circle cx="86.46" cy="177.38" r="2.3" fill="#00f"/>
<circle cx="88.72" cy="177.32" r="2.3" fill="#00f"/>
<circle cx="90.99" cy="177.22" r="2.3" fill="#00f"/>
<circle cx="93.26" cy="177.09" r="2.3" fill="#00f"/>
<circle cx="95.52" cy="176.93" r="2.3" fill="#00f"/>
<circle cx="97.79" cy="176.74" r="2.3" fill="#00f"/>
<circle cx="100.05" cy="176.52" r="2.3" fill="#00f"/>
<circle cx="102.32" cy="176.24" r="2.3" fill="#00f"/>
<circle cx="104.59" cy="175.82" r="2.3" fill="#00f"/>
<circle cx="106.85" cy="175.23" r="2.3" fill="#00f"/>
<circle cx="109.12" cy="174.42" r="2.3" fill="#00f"/>
<circle cx="111.38" cy="173.09" r="2.3" fill="#00f"/>
<circle cx="113.65" cy="171.05" r="2.3" fill="#00f"/>
<circle cx="115.92" cy="168.31" r="2.3" fill="#00f"/>
<circle cx="118.18" cy="164.55" r="2.3" fill="#00f"/>
<circle cx="120.45" cy="159.49" r="2.3" fill="#00f"/>
<circle cx="122.71" cy="149.79" r="2.3" fill="#00f"/>
<circle cx="124.98" cy="136.62" r="2.3" fill="#00f"/>
<circle cx="127.25" cy="120.18" r="2.3" fill="#00f"/>
<circle cx="129.51" cy="104.31" r="2.3" fill="#00f"/>
<circle cx="131.78" cy="79.30" r="2.3" fill="#00f"/>
<circle cx="134.04" cy="61.92" r="2.3" fill="#00f"/>
<circle cx="136.31" cy="42.57" r="2.3" fill="#00f"/>
<circle cx="138.58" cy="31.02" r="2.3" fill="#00f"/>
<circle cx="140.84" cy="23.69" r="2.3" fill="#00f"/>
<circle cx="143.11" cy="21.56" r="2.3" fill="#00f"/>
<circle cx="145.37" cy="23.09" r="2.3" fill="#00f"/>
<circle cx="147.64" cy="26.26" r="2.3" fill="#00f"/>
<circle cx="149.91" cy="30.82" r="2.3" fill="#00f"/>
<circle cx="152.17" cy="35.73" r="2.3" fill="#00f"/>
<circle cx="154.44" cy="40.99" r="2.3" fill="#00f"/>
<circle cx="156.70" cy="46.39" r="2.3" fill="#00f"/>
<circle cx="158.97" cy="51.75" r="2.3" fill="#00f"/>
<circle cx="161.24" cy="56.93" r="2.3" fill="#00f"/>
<circle cx="163.50" cy="61.76" r="2.3" fill="#00f"/>
<circle cx="165.77" cy="66.24" r="2.3" fill="#00f"/>
<circle cx="168.03" cy="70.34" r="2.3" fill="#00f"/>
<circle cx="170.30" cy="74.13" r="2.3" fill="#00f"/>
<circle cx="172.57" cy="77.63" r="2.3" fill="#00f"/>
<circle cx="174.83" cy="80.82" r="2.3" fill="#00f"/>
<circle cx="177.10" cy="83.77" r="2.3" fill="#00f"/>
<circle cx="179.36" cy="86.52" r="2.3" fill="#00f"/>
<circle cx="181.63" cy="89.08" r="2.3" fill="#00f"/>
<circle cx="183.90" cy="91.44" r="2.3" fill="#00f"/>
<circle cx="186.16" cy="93.67" r="2.3" fill="#00f"/>
<circle cx="188.43" cy="95.77" r="2.3" fill="#00f"/>
<circle cx="190.69" cy="97.77" r="2.3" fill="#00f"/>
<circle cx="192.96" cy="99.72" r="2.3" fill="#00f"/>
<circle cx="195.23" cy="101.60" r="2.3" fill="#00f"/>
<circle cx="197.49" cy="103.42" r="2.3" fill="#00f"/>
<circle cx="199.76" cy="105.20" r="2.3" fill="#00f"/>
<circle cx="202.02" cy="106.92" r="2.3" fill="#00f"/>
<circle cx="204.29" cy="108.59" r="2.3" fill="#00f"/>
<circle cx="206.56" cy="110.21" r="2.3" fill="#00f"/>
<circle cx="208.82" cy="111.78" r="2.3" fill="#00f"/>
<circle cx="211.09" cy="113.30" r="2.3" fill="#00f"/>
<circle cx="213.35" cy="114.77" r="2.3" fill="#00f"/>
<circle cx="215.62" cy="116.19" r="2.3" fill="#00f"/>
<circle cx="217.89" cy="117.56" r="2.3" fill="#00f"/>
<circle cx="220.15" cy="118.88" r="2.3" fill="#00f"/>
<circle cx="222.42" cy="120.16" r="2.3" fill="#00f"/>
<circle cx="224.68" cy="121.39" r="2.3" fill="#00f"/>
<circle cx="226.95" cy="122.58" r="2.3" fill="#00f"/>
<circle cx="229.22" cy="123.72" r="2.3" fill="#00f"/>
<circle cx="231.48" cy="124.81" r="2.3" fill="#00f"/>
<circle cx="233.75" cy="125.86" r="2.3" fill="#00f"/>
<circle cx="236.01" cy="126.87" r="2.3" fill="#00f"/>
<circle cx="238.28" cy="127.84" r="2.3" fill="#00f"/>
<circle cx="240.55" cy="128.76" r="2.3" fill="#00f"/>
<circle cx="242.81" cy="129.64" r="2.3" fill="#00f"/>
<circle cx="245.08" cy="130.48" r="2.3" fill="#00f"/>
<circle cx="247.34" cy="131.28" r="2.3" fill="#00f"/>
<circle cx="249.61" cy="132.04" r="2.3" fill="#00f"/>
<circle cx="251.88" cy="132.76" r="2.3" fill="#00f"/>
<circle cx="254.14" cy="133.44" r="2.3" fill="#00f"/>
<circle cx="256.41" cy="134.09" r="2.3" fill="#00f"/>
<circle cx="258.67" cy="134.70" r="2.3" fill="#00f"/>
<circle cx="260.94" cy="135.26" r="2.3" fill="#00f"/>
<circle cx="263.21" cy="135.80" r="2.3" fill="#00f"/>
<circle cx="265.47" cy="136.30" r="2.3" fill="#00f"/>
<circle cx="267.74" cy="136.76" r="2.3" fill="#00f"/>
<circle cx="270.00" cy="137.19" r="2.3" fill="#00f"/>
<circle cx="272.27" cy="137.59" r="2.3" fill="#00f"/>
<circle cx="274.54" cy="137.95" r="2.3" fill="#00f"/>
<circle cx="276.80" cy="138.28" r="2.3" fill="#00f"/>
<circle cx="279.07" cy="138.58" r="2.3" fill="#00f"/></g>
<g clip-path="url(#cpb)"><path d="M336.08,177.50 L336.68,177.50 L337.28,177.50 L337.88,177.50 L338.48,177.50 L339.07,177.50 L339.67,177.50 L340.27,177.50 L340.87,177.50 L341.47,177.50 L342.07,177.50 L342.67,177.50 L343.27,177.50 L343.87,177.50 L344.47,177.50 L345.07,177.50 L345.67,177.50 L346.27,177.50 L346.86,177.50 L347.46,177.50 L348.06,177.50 L348.66,177.50 L349.26,177.50 L349.86,177.50 L350.46,177.50 L351.06,177.50 L351.66,177.50 L352.26,177.50 L352.86,177.50 L353.46,177.50 L354.06,177.50 L354.66,177.50 L355.25,177.50 L355.85,177.50 L356.45,177.50 L357.05,177.50 L357.65,177.50 L358.25,177.50 L358.85,177.50 L359.45,177.50 L360.05,177.50 L360.65,177.50 L361.25,177.50 L361.85,177.49 L362.45,177.49 L363.04,177.49 L363.64,177.48 L364.24,177.48 L364.84,177.47 L365.44,177.47 L366.04,177.46 L366.64,177.45 L367.24,177.44 L367.84,177.44 L368.44,177.43 L369.04,177.41 L369.64,177.40 L370.24,177.39 L370.83,177.37 L371.43,177.35 L372.03,177.32 L372.63,177.29 L373.23,177.25 L373.83,177.20 L374.42,177.16 L375.02,177.10 L375.62,177.04 L376.21,176.97 L376.81,176.89 L377.40,176.80 L377.99,176.68 L378.57,176.55 L379.15,176.40 L379.72,176.22 L380.29,176.02 L380.85,175.81 L381.39,175.57 L381.93,175.30 L382.46,175.01 L382.97,174.70 L383.47,174.38 L383.97,174.04 L384.46,173.69 L384.94,173.34 L385.42,172.97 L385.89,172.61 L386.36,172.23 L386.82,171.85 L387.28,171.47 L387.73,171.07 L388.17,170.66 L388.60,170.24 L389.02,169.82 L389.43,169.38 L389.82,168.93 L390.20,168.46 L390.57,167.99 L390.92,167.51 L391.26,167.01 L391.58,166.51 L391.90,166.00 L392.20,165.48 L392.50,164.96 L392.78,164.43 L393.06,163.90 L393.33,163.37 L393.59,162.83 L393.84,162.28 L394.09,161.74 L394.33,161.19 L394.57,160.64 L394.80,160.09 L395.02,159.53 L395.24,158.97 L395.45,158.41 L395.66,157.85 L395.86,157.28 L396.05,156.72 L396.24,156.15 L396.43,155.58 L396.61,155.01 L396.79,154.43 L396.96,153.86 L397.13,153.28 L397.29,152.71 L397.45,152.13 L397.60,151.55 L397.76,150.97 L397.91,150.39 L398.05,149.81 L398.20,149.23 L398.34,148.65 L398.47,148.06 L398.61,147.48 L398.74,146.89 L398.87,146.31 L398.99,145.72 L399.12,145.14 L399.24,144.55 L399.36,143.96 L399.48,143.38 L399.59,142.79 L399.71,142.20 L399.82,141.61 L399.93,141.02 L400.04,140.43 L400.14,139.84 L400.24,139.25 L400.34,138.66 L400.44,138.07 L400.54,137.48 L400.63,136.89 L400.72,136.29 L400.81,135.70 L400.90,135.11 L400.99,134.52 L401.08,133.92 L401.17,133.33 L401.25,132.74 L401.34,132.14 L401.42,131.55 L401.51,130.96 L401.60,130.36 L401.68,129.77 L401.77,129.18 L401.86,128.59 L401.95,127.99 L402.04,127.40 L402.13,126.81 L402.22,126.22 L402.32,125.63 L402.41,125.03 L402.51,124.44 L402.61,123.85 L402.71,123.26 L402.82,122.67 L402.92,122.08 L403.03,121.49 L403.14,120.90 L403.25,120.31 L403.36,119.72 L403.47,119.13 L403.58,118.55 L403.69,117.96 L403.80,117.37 L403.91,116.78 L404.01,116.19 L404.12,115.60 L404.22,115.01 L404.33,114.42 L404.43,113.83 L404.53,113.24 L404.63,112.65 L404.72,112.05 L404.81,111.46 L404.90,110.87 L404.99,110.28 L405.07,109.68 L405.15,109.09 L405.22,108.49 L405.29,107.90 L405.36,107.30 L405.42,106.71 L405.48,106.11 L405.54,105.51 L405.59,104.92 L405.64,104.32 L405.69,103.72 L405.74,103.13 L405.79,102.53 L405.83,101.93 L405.88,101.33 L405.92,100.74 L405.96,100.14 L406.00,99.54 L406.04,98.94 L406.08,98.34 L406.11,97.75 L406.15,97.15 L406.19,96.55 L406.22,95.95 L406.26,95.35 L406.30,94.75 L406.33,94.16 L406.37,93.56 L406.41,92.96 L406.45,92.36 L406.49,91.76 L406.53,91.17 L406.57,90.57 L406.62,89.97 L406.66,89.37 L406.71,88.78 L406.76,88.18 L406.81,87.58 L406.86,86.99 L406.92,86.39 L406.97,85.79 L407.03,85.20 L407.09,84.60 L407.16,84.00 L407.22,83.41 L407.29,82.81 L407.36,82.22 L407.43,81.62 L407.51,81.03 L407.58,80.43 L407.66,79.84 L407.73,79.24 L407.81,78.65 L407.89,78.06 L407.97,77.46 L408.05,76.87 L408.13,76.27 L408.21,75.68 L408.29,75.09 L408.38,74.49 L408.46,73.90 L408.54,73.31 L408.62,72.71 L408.70,72.12 L408.78,71.52 L408.86,70.93 L408.94,70.34 L409.02,69.74 L409.09,69.15 L409.17,68.55 L409.24,67.96 L409.31,67.36 L409.38,66.77 L409.45,66.17 L409.52,65.58 L409.59,64.98 L409.65,64.39 L409.71,63.79 L409.77,63.19 L409.83,62.60 L409.89,62.00 L409.95,61.41 L410.01,60.81 L410.06,60.21 L410.12,59.62 L410.17,59.02 L410.23,58.42 L410.28,57.83 L410.34,57.23 L410.39,56.63 L410.45,56.04 L410.51,55.44 L410.56,54.84 L410.62,54.25 L410.68,53.65 L410.74,53.05 L410.81,52.46 L410.87,51.86 L410.93,51.27 L411.00,50.67 L411.07,50.07 L411.14,49.48 L411.22,48.89 L411.29,48.29 L411.37,47.70 L411.46,47.10 L411.54,46.51 L411.63,45.92 L411.72,45.33 L411.82,44.73 L411.91,44.14 L412.01,43.55 L412.11,42.96 L412.22,42.37 L412.32,41.78 L412.43,41.19 L412.54,40.60 L412.65,40.01 L412.76,39.42 L412.87,38.83 L412.98,38.25 L413.10,37.66 L413.21,37.07 L413.33,36.48 L413.44,35.89 L413.56,35.31 L413.67,34.72 L413.78,34.13 L413.90,33.54 L414.00,32.95 L414.11,32.36 L414.22,31.77 L414.33,31.18 L414.44,30.59 L414.56,30.01 L414.69,29.42 L414.82,28.84 L414.97,28.26 L415.13,27.68 L415.30,27.10 L415.49,26.54 L415.70,25.98 L415.94,25.43 L416.22,24.89 L416.55,24.39 L416.96,23.96 L417.46,23.63 L418.02,23.44 L418.62,23.39 L419.22,23.44 L419.79,23.61 L420.33,23.87 L420.82,24.21 L421.28,24.59 L421.71,25.01 L422.10,25.46 L422.48,25.93 L422.83,26.42 L423.16,26.92 L423.48,27.42 L423.79,27.93 L424.10,28.45 L424.40,28.97 L424.70,29.49 L424.99,30.01 L425.28,30.54 L425.56,31.07 L425.83,31.60 L426.10,32.13 L426.37,32.67 L426.63,33.21 L426.89,33.75 L427.15,34.29 L427.41,34.83 L427.66,35.37 L427.91,35.92 L428.16,36.47 L428.40,37.01 L428.64,37.56 L428.88,38.11 L429.11,38.66 L429.35,39.21 L429.58,39.77 L429.82,40.32 L430.05,40.87 L430.28,41.42 L430.51,41.98 L430.74,42.53 L430.96,43.09 L431.19,43.64 L431.42,44.20 L431.64,44.75 L431.87,45.31 L432.09,45.86 L432.32,46.42 L432.54,46.97 L432.77,47.53 L432.99,48.08 L433.22,48.64 L433.44,49.19 L433.67,49.75 L433.89,50.30 L434.12,50.86 L434.35,51.41 L434.57,51.97 L434.80,52.52 L435.03,53.08 L435.26,53.63 L435.49,54.18 L435.72,54.73 L435.96,55.29 L436.19,55.84 L436.43,56.39 L436.67,56.94 L436.90,57.49 L437.15,58.04 L437.39,58.58 L437.63,59.13 L437.88,59.68 L438.13,60.22 L438.38,60.77 L438.63,61.31 L438.89,61.85 L439.14,62.39 L439.40,62.94 L439.66,63.47 L439.93,64.01 L440.19,64.55 L440.45,65.09 L440.72,65.63 L440.99,66.16 L441.26,66.69 L441.54,67.23 L441.81,67.76 L442.09,68.29 L442.37,68.82 L442.66,69.35 L442.94,69.87 L443.23,70.40 L443.52,70.93 L443.81,71.45 L444.10,71.97 L444.40,72.49 L444.70,73.01 L445.00,73.53 L445.30,74.05 L445.60,74.57 L445.91,75.08 L446.22,75.59 L446.53,76.10 L446.85,76.62 L447.16,77.12 L447.48,77.63 L447.80,78.14 L448.12,78.64 L448.45,79.15 L448.78,79.65 L449.11,80.15 L449.44,80.65 L449.77,81.14 L450.11,81.64 L450.45,82.14 L450.79,82.63 L451.13,83.12 L451.47,83.61 L451.82,84.10 L452.17,84.59 L452.52,85.07 L452.87,85.56 L453.23,86.04 L453.58,86.52 L453.94,87.00 L454.30,87.48 L454.66,87.96 L455.03,88.44 L455.39,88.91 L455.76,89.39 L456.13,89.86 L456.50,90.33 L456.87,90.80 L457.24,91.27 L457.62,91.73 L458.00,92.20 L458.38,92.66 L458.76,93.12 L459.14,93.58 L459.53,94.04 L459.91,94.50 L460.30,94.96 L460.70,95.41 L461.09,95.86 L461.48,96.31 L461.88,96.76 L462.28,97.21 L462.68,97.66 L463.08,98.10 L463.49,98.54 L463.89,98.98 L464.30,99.42 L464.71,99.86 L465.13,100.29 L465.54,100.72 L465.96,101.15 L466.38,101.58 L466.80,102.01 L467.22,102.43 L467.65,102.85 L468.08,103.27 L468.51,103.69 L468.94,104.10 L469.37,104.52 L469.81,104.93 L470.25,105.34 L470.69,105.74 L471.13,106.15 L471.58,106.55 L472.02,106.95 L472.47,107.35 L472.92,107.74 L473.37,108.13 L473.83,108.52 L474.29,108.91 L474.75,109.29 L475.21,109.68 L475.67,110.06 L476.14,110.43 L476.61,110.81 L477.08,111.18 L477.55,111.55 L478.02,111.91 L478.50,112.28 L478.98,112.64 L479.46,113.00 L479.94,113.35 L480.42,113.71 L480.91,114.06 L481.40,114.40 L481.89,114.75 L482.38,115.09 L482.88,115.43 L483.37,115.76 L483.87,116.09 L484.38,116.42 L484.88,116.74 L485.39,117.06 L485.90,117.37 L486.41,117.69 L486.92,118.00 L487.44,118.31 L487.95,118.61 L488.47,118.92 L488.99,119.22 L489.51,119.51 L490.03,119.81 L490.55,120.10 L491.07,120.39 L491.60,120.68 L492.13,120.97 L492.66,121.25 L493.19,121.53 L493.72,121.80 L494.25,122.07 L494.79,122.34 L495.33,122.60 L495.87,122.86 L496.41,123.12 L496.95,123.38 L497.50,123.63 L498.04,123.87 L498.59,124.12 L499.14,124.36 L499.69,124.60 L500.24,124.84 L500.79,125.07 L501.34,125.30 L501.90,125.53 L502.45,125.75 L503.01,125.97 L503.57,126.19 L504.12,126.41 L504.68,126.63 L505.25,126.84 L505.81,127.05 L506.37,127.25 L506.93,127.46 L507.50,127.66 L508.06,127.86 L508.63,128.05 L509.20,128.25 L509.76,128.44 L510.33,128.63 L510.90,128.81 L511.47,129.00 L512.04,129.18 L512.62,129.36 L513.19,129.53 L513.76,129.71 L514.34,129.88 L514.91,130.05 L515.48,130.22 L516.06,130.39 L516.63,130.56 L517.21,130.72 L517.79,130.89 L518.36,131.05 L518.94,131.21 L519.52,131.37 L520.10,131.53 L520.67,131.69 L521.25,131.85 L521.83,132.00 L522.41,132.15 L522.99,132.30 L523.57,132.45 L524.15,132.60 L524.73,132.75 L525.31,132.89 L525.90,133.04 L526.48,133.18 L527.06,133.33 L527.64,133.47 L528.22,133.61 L528.80,133.76 L529.39,133.90 L529.97,134.04 L530.55,134.19 L531.13,134.33 L531.71,134.48 L532.29,134.62 L532.88,134.77 L533.46,134.92 L534.04,135.06 L534.62,135.21 L535.20,135.35 L535.78,135.50 L536.36,135.65 L536.94,135.79 L537.53,135.93 L538.11,136.08 L538.69,136.23 L539.27,136.37 L539.85,136.52 L540.43,136.67 L541.01,136.81 L541.59,136.96 L542.17,137.12 L542.75,137.27 L543.33,137.42 L543.91,137.58 L544.49,137.74 L545.06,137.90 L545.64,138.06 L546.22,138.23 L546.79,138.39 L547.37,138.56 L547.94,138.73 L548.52,138.90 L549.09,139.07 L549.67,139.24 L550.24,139.42 L550.81,139.59 L551.38,139.77 L551.96,139.95 L552.53,140.13 L553.10,140.31 L553.67,140.50 L554.24,140.69 L554.81,140.88 L555.37,141.07 L555.94,141.26 L556.51,141.46 L557.07,141.66 L557.64,141.86 L558.20,142.06" fill="none" stroke="#008000" stroke-width="0.8"/>
<rect x="334.60" y="175.60" width="3.8" height="3.8" fill="#008000" stroke="#008000" stroke-width="0.5"/>
<rect x="336.87" y="175.60" width="3.8" height="3.8" fill="#008000" stroke="#008000" stroke-width="0.5"/>
<rect x="339.13" y="175.60" width="3.8" height="3.8" fill="#008000" stroke="#008000" stroke-width="0.5"/>
<rect x="341.40" y="175.60" width="3.8" height="3.8" fill="#008000" stroke="#008000" stroke-width="0.5"/>
<rect x="343.66" y="175.60" width="3.8" height="3.8" fill="#008000" stroke="#008000" stroke-width="0.5"/>
<rect x="345.93" y="175.60" width="3.8" height="3.8" fill="#008000" stroke="#008000" stroke-width="0.5"/>
<rect x="348.20" y="175.60" width="3.8" height="3.8" fill="#008000" stroke="#008000" stroke-width="0.5"/>
<rect x="350.46" y="175.60" width="3.8" height="3.8" fill="#008000" stroke="#008000" stroke-width="0.5"/>
<rect x="352.73" y="175.60" width="3.8" height="3.8" fill="#008000" stroke="#008000" stroke-width="0.5"/>
<rect x="354.99" y="175.60" width="3.8" height="3.8" fill="#008000" stroke="#008000" stroke-width="0.5"/>
<rect x="357.26" y="175.60" width="3.8" height="3.8" fill="#008000" stroke="#008000" stroke-width="0.5"/>
<rect x="359.53" y="175.60" width="3.8" height="3.8" fill="#008000" stroke="#008000" stroke-width="0.5"/>
<rect x="361.79" y="175.58" width="3.8" height="3.8" fill="#008000" stroke="#008000" stroke-width="0.5"/>
<rect x="364.06" y="175.56" width="3.8" height="3.8" fill="#008000" stroke="#008000" stroke-width="0.5"/>
<rect x="366.32" y="175.53" width="3.8" height="3.8" fill="#008000" stroke="#008000" stroke-width="0.5"/>
<rect x="368.59" y="175.48" width="3.8" height="3.8" fill="#008000" stroke="#008000" stroke-width="0.5"/>
<rect x="370.86" y="175.38" width="3.8" height="3.8" fill="#008000" stroke="#008000" stroke-width="0.5"/>
<rect x="373.12" y="175.20" width="3.8" height="3.8" fill="#008000" stroke="#008000" stroke-width="0.5"/>
<rect x="375.39" y="174.92" width="3.8" height="3.8" fill="#008000" stroke="#008000" stroke-width="0.5"/>
<rect x="377.65" y="174.37" width="3.8" height="3.8" fill="#008000" stroke="#008000" stroke-width="0.5"/>
<rect x="379.92" y="173.46" width="3.8" height="3.8" fill="#008000" stroke="#008000" stroke-width="0.5"/>
<rect x="382.19" y="172.05" width="3.8" height="3.8" fill="#008000" stroke="#008000" stroke-width="0.5"/>
<rect x="384.45" y="170.34" width="3.8" height="3.8" fill="#008000" stroke="#008000" stroke-width="0.5"/>
<rect x="386.72" y="168.33" width="3.8" height="3.8" fill="#008000" stroke="#008000" stroke-width="0.5"/>
<rect x="388.98" y="165.66" width="3.8" height="3.8" fill="#008000" stroke="#008000" stroke-width="0.5"/>
<rect x="391.25" y="161.82" width="3.8" height="3.8" fill="#008000" stroke="#008000" stroke-width="0.5"/>
<rect x="393.52" y="156.60" width="3.8" height="3.8" fill="#008000" stroke="#008000" stroke-width="0.5"/>
<rect x="395.78" y="149.36" width="3.8" height="3.8" fill="#008000" stroke="#008000" stroke-width="0.5"/>
<rect x="398.05" y="139.01" width="3.8" height="3.8" fill="#008000" stroke="#008000" stroke-width="0.5"/>
<rect x="400.31" y="124.37" width="3.8" height="3.8" fill="#008000" stroke="#008000" stroke-width="0.5"/>
<rect x="402.58" y="111.64" width="3.8" height="3.8" fill="#008000" stroke="#008000" stroke-width="0.5"/>
<rect x="404.85" y="86.42" width="3.8" height="3.8" fill="#008000" stroke="#008000" stroke-width="0.5"/>
<rect x="407.11" y="67.88" width="3.8" height="3.8" fill="#008000" stroke="#008000" stroke-width="0.5"/>
<rect x="409.38" y="46.51" width="3.8" height="3.8" fill="#008000" stroke="#008000" stroke-width="0.5"/>
<rect x="411.64" y="33.48" width="3.8" height="3.8" fill="#008000" stroke="#008000" stroke-width="0.5"/>
<rect x="413.91" y="23.82" width="3.8" height="3.8" fill="#008000" stroke="#008000" stroke-width="0.5"/>
<rect x="416.18" y="21.53" width="3.8" height="3.8" fill="#008000" stroke="#008000" stroke-width="0.5"/>
<rect x="418.44" y="21.98" width="3.8" height="3.8" fill="#008000" stroke="#008000" stroke-width="0.5"/>
<rect x="420.71" y="24.21" width="3.8" height="3.8" fill="#008000" stroke="#008000" stroke-width="0.5"/>
<rect x="422.97" y="27.90" width="3.8" height="3.8" fill="#008000" stroke="#008000" stroke-width="0.5"/>
<rect x="425.24" y="32.36" width="3.8" height="3.8" fill="#008000" stroke="#008000" stroke-width="0.5"/>
<rect x="427.51" y="37.45" width="3.8" height="3.8" fill="#008000" stroke="#008000" stroke-width="0.5"/>
<rect x="429.77" y="42.92" width="3.8" height="3.8" fill="#008000" stroke="#008000" stroke-width="0.5"/>
<rect x="432.04" y="48.52" width="3.8" height="3.8" fill="#008000" stroke="#008000" stroke-width="0.5"/>
<rect x="434.30" y="53.97" width="3.8" height="3.8" fill="#008000" stroke="#008000" stroke-width="0.5"/>
<rect x="436.57" y="59.06" width="3.8" height="3.8" fill="#008000" stroke="#008000" stroke-width="0.5"/>
<rect x="438.84" y="63.75" width="3.8" height="3.8" fill="#008000" stroke="#008000" stroke-width="0.5"/>
<rect x="441.10" y="68.09" width="3.8" height="3.8" fill="#008000" stroke="#008000" stroke-width="0.5"/>
<rect x="443.37" y="72.10" width="3.8" height="3.8" fill="#008000" stroke="#008000" stroke-width="0.5"/>
<rect x="445.63" y="75.82" width="3.8" height="3.8" fill="#008000" stroke="#008000" stroke-width="0.5"/>
<rect x="447.90" y="79.29" width="3.8" height="3.8" fill="#008000" stroke="#008000" stroke-width="0.5"/>
<rect x="450.17" y="82.55" width="3.8" height="3.8" fill="#008000" stroke="#008000" stroke-width="0.5"/>
<rect x="452.43" y="85.62" width="3.8" height="3.8" fill="#008000" stroke="#008000" stroke-width="0.5"/>
<rect x="454.70" y="88.56" width="3.8" height="3.8" fill="#008000" stroke="#008000" stroke-width="0.5"/>
<rect x="456.96" y="91.35" width="3.8" height="3.8" fill="#008000" stroke="#008000" stroke-width="0.5"/>
<rect x="459.23" y="94.01" width="3.8" height="3.8" fill="#008000" stroke="#008000" stroke-width="0.5"/>
<rect x="461.50" y="96.54" width="3.8" height="3.8" fill="#008000" stroke="#008000" stroke-width="0.5"/>
<rect x="463.76" y="98.95" width="3.8" height="3.8" fill="#008000" stroke="#008000" stroke-width="0.5"/>
<rect x="466.03" y="101.22" width="3.8" height="3.8" fill="#008000" stroke="#008000" stroke-width="0.5"/>
<rect x="468.29" y="103.38" width="3.8" height="3.8" fill="#008000" stroke="#008000" stroke-width="0.5"/>
<rect x="470.56" y="105.44" width="3.8" height="3.8" fill="#008000" stroke="#008000" stroke-width="0.5"/>
<rect x="472.83" y="107.38" width="3.8" height="3.8" fill="#008000" stroke="#008000" stroke-width="0.5"/>
<rect x="475.09" y="109.21" width="3.8" height="3.8" fill="#008000" stroke="#008000" stroke-width="0.5"/>
<rect x="477.36" y="110.95" width="3.8" height="3.8" fill="#008000" stroke="#008000" stroke-width="0.5"/>
<rect x="479.62" y="112.59" width="3.8" height="3.8" fill="#008000" stroke="#008000" stroke-width="0.5"/>
<rect x="481.89" y="114.14" width="3.8" height="3.8" fill="#008000" stroke="#008000" stroke-width="0.5"/>
<rect x="484.16" y="115.57" width="3.8" height="3.8" fill="#008000" stroke="#008000" stroke-width="0.5"/>
<rect x="486.42" y="116.93" width="3.8" height="3.8" fill="#008000" stroke="#008000" stroke-width="0.5"/>
<rect x="488.69" y="118.22" width="3.8" height="3.8" fill="#008000" stroke="#008000" stroke-width="0.5"/>
<rect x="490.95" y="119.45" width="3.8" height="3.8" fill="#008000" stroke="#008000" stroke-width="0.5"/>
<rect x="493.22" y="120.60" width="3.8" height="3.8" fill="#008000" stroke="#008000" stroke-width="0.5"/>
<rect x="495.49" y="121.68" width="3.8" height="3.8" fill="#008000" stroke="#008000" stroke-width="0.5"/>
<rect x="497.75" y="122.68" width="3.8" height="3.8" fill="#008000" stroke="#008000" stroke-width="0.5"/>
<rect x="500.02" y="123.64" width="3.8" height="3.8" fill="#008000" stroke="#008000" stroke-width="0.5"/>
<rect x="502.28" y="124.53" width="3.8" height="3.8" fill="#008000" stroke="#008000" stroke-width="0.5"/>
<rect x="504.55" y="125.38" width="3.8" height="3.8" fill="#008000" stroke="#008000" stroke-width="0.5"/>
<rect x="506.82" y="126.18" width="3.8" height="3.8" fill="#008000" stroke="#008000" stroke-width="0.5"/>
<rect x="509.08" y="126.94" width="3.8" height="3.8" fill="#008000" stroke="#008000" stroke-width="0.5"/>
<rect x="511.35" y="127.65" width="3.8" height="3.8" fill="#008000" stroke="#008000" stroke-width="0.5"/>
<rect x="513.61" y="128.33" width="3.8" height="3.8" fill="#008000" stroke="#008000" stroke-width="0.5"/>
<rect x="515.88" y="128.99" width="3.8" height="3.8" fill="#008000" stroke="#008000" stroke-width="0.5"/>
<rect x="518.15" y="129.62" width="3.8" height="3.8" fill="#008000" stroke="#008000" stroke-width="0.5"/>
<rect x="520.41" y="130.23" width="3.8" height="3.8" fill="#008000" stroke="#008000" stroke-width="0.5"/>
<rect x="522.68" y="130.81" width="3.8" height="3.8" fill="#008000" stroke="#008000" stroke-width="0.5"/>
<rect x="524.94" y="131.37" width="3.8" height="3.8" fill="#008000" stroke="#008000" stroke-width="0.5"/>
<rect x="527.21" y="131.93" width="3.8" height="3.8" fill="#008000" stroke="#008000" stroke-width="0.5"/>
<rect x="529.48" y="132.49" width="3.8" height="3.8" fill="#008000" stroke="#008000" stroke-width="0.5"/>
<rect x="531.74" y="133.06" width="3.8" height="3.8" fill="#008000" stroke="#008000" stroke-width="0.5"/>
<rect x="534.01" y="133.63" width="3.8" height="3.8" fill="#008000" stroke="#008000" stroke-width="0.5"/>
<rect x="536.27" y="134.20" width="3.8" height="3.8" fill="#008000" stroke="#008000" stroke-width="0.5"/>
<rect x="538.54" y="134.77" width="3.8" height="3.8" fill="#008000" stroke="#008000" stroke-width="0.5"/>
<rect x="540.81" y="135.36" width="3.8" height="3.8" fill="#008000" stroke="#008000" stroke-width="0.5"/>
<rect x="543.07" y="135.98" width="3.8" height="3.8" fill="#008000" stroke="#008000" stroke-width="0.5"/>
<rect x="545.34" y="136.62" width="3.8" height="3.8" fill="#008000" stroke="#008000" stroke-width="0.5"/>
<rect x="547.60" y="137.29" width="3.8" height="3.8" fill="#008000" stroke="#008000" stroke-width="0.5"/>
<rect x="549.87" y="137.99" width="3.8" height="3.8" fill="#008000" stroke="#008000" stroke-width="0.5"/>
<rect x="552.14" y="138.72" width="3.8" height="3.8" fill="#008000" stroke="#008000" stroke-width="0.5"/>
<rect x="554.40" y="139.48" width="3.8" height="3.8" fill="#008000" stroke="#008000" stroke-width="0.5"/>
<rect x="556.67" y="140.30" width="3.8" height="3.8" fill="#008000" stroke="#008000" stroke-width="0.5"/>
<path d="M336.08,177.50 L336.68,177.50 L337.28,177.50 L337.88,177.50 L338.48,177.50 L339.08,177.50 L339.68,177.50 L340.28,177.50 L340.87,177.50 L341.47,177.50 L342.07,177.50 L342.67,177.50 L343.27,177.50 L343.87,177.49 L344.47,177.49 L345.07,177.49 L345.67,177.49 L346.27,177.49 L346.87,177.49 L347.47,177.49 L348.07,177.49 L348.66,177.49 L349.26,177.49 L349.86,177.48 L350.46,177.48 L351.06,177.48 L351.66,177.48 L352.26,177.48 L352.86,177.48 L353.46,177.48 L354.06,177.47 L354.66,177.47 L355.26,177.47 L355.86,177.47 L356.45,177.47 L357.05,177.46 L357.65,177.46 L358.25,177.46 L358.85,177.46 L359.45,177.45 L360.05,177.45 L360.65,177.45 L361.25,177.45 L361.85,177.44 L362.45,177.44 L363.05,177.44 L363.65,177.44 L364.24,177.43 L364.84,177.43 L365.44,177.43 L366.04,177.42 L366.64,177.42 L367.24,177.42 L367.84,177.41 L368.44,177.41 L369.04,177.40 L369.64,177.40 L370.24,177.39 L370.84,177.38 L371.43,177.36 L372.03,177.34 L372.63,177.31 L373.23,177.28 L373.83,177.24 L374.43,177.20 L375.02,177.15 L375.62,177.10 L376.22,177.04 L376.81,176.97 L377.41,176.91 L378.00,176.83 L378.60,176.75 L379.19,176.67 L379.78,176.58 L380.38,176.49 L380.97,176.40 L381.56,176.29 L382.15,176.19 L382.74,176.08 L383.32,175.96 L383.91,175.84 L384.50,175.72 L385.08,175.59 L385.67,175.46 L386.25,175.32 L386.83,175.17 L387.41,175.02 L387.99,174.85 L388.55,174.66 L389.11,174.45 L389.66,174.21 L390.20,173.94 L390.72,173.64 L391.22,173.32 L391.72,172.98 L392.20,172.62 L392.67,172.25 L393.12,171.86 L393.57,171.46 L394.00,171.04 L394.42,170.61 L394.82,170.17 L395.20,169.71 L395.57,169.23 L395.92,168.75 L396.25,168.25 L396.57,167.74 L396.87,167.23 L397.17,166.70 L397.45,166.17 L397.71,165.64 L397.97,165.09 L398.21,164.55 L398.44,163.99 L398.66,163.44 L398.88,162.88 L399.08,162.31 L399.27,161.75 L399.46,161.18 L399.64,160.60 L399.81,160.03 L399.98,159.45 L400.14,158.88 L400.29,158.30 L400.43,157.72 L400.57,157.13 L400.71,156.55 L400.84,155.96 L400.96,155.38 L401.09,154.79 L401.20,154.20 L401.32,153.62 L401.43,153.03 L401.54,152.44 L401.65,151.85 L401.76,151.26 L401.86,150.67 L401.97,150.08 L402.08,149.49 L402.19,148.90 L402.30,148.31 L402.41,147.72 L402.52,147.14 L402.63,146.55 L402.74,145.96 L402.85,145.37 L402.96,144.78 L403.07,144.19 L403.18,143.60 L403.29,143.01 L403.39,142.42 L403.50,141.83 L403.61,141.24 L403.71,140.65 L403.81,140.06 L403.92,139.47 L404.02,138.88 L404.12,138.29 L404.22,137.70 L404.31,137.11 L404.41,136.52 L404.50,135.92 L404.60,135.33 L404.69,134.74 L404.78,134.15 L404.87,133.56 L404.96,132.96 L405.04,132.37 L405.13,131.78 L405.21,131.18 L405.30,130.59 L405.38,130.00 L405.47,129.40 L405.55,128.81 L405.63,128.22 L405.71,127.62 L405.80,127.03 L405.88,126.44 L405.96,125.84 L406.05,125.25 L406.13,124.66 L406.21,124.06 L406.30,123.47 L406.39,122.88 L406.47,122.28 L406.56,121.69 L406.65,121.10 L406.74,120.51 L406.83,119.91 L406.93,119.32 L407.03,118.73 L407.13,118.14 L407.23,117.55 L407.34,116.96 L407.44,116.37 L407.55,115.78 L407.66,115.19 L407.78,114.60 L407.89,114.02 L408.00,113.43 L408.12,112.84 L408.23,112.25 L408.34,111.66 L408.46,111.07 L408.57,110.48 L408.68,109.90 L408.79,109.31 L408.89,108.72 L409.00,108.13 L409.10,107.54 L409.20,106.95 L409.30,106.35 L409.39,105.76 L409.48,105.17 L409.57,104.58 L409.65,103.98 L409.73,103.39 L409.80,102.80 L409.87,102.20 L409.93,101.60 L409.99,101.01 L410.05,100.41 L410.10,99.81 L410.14,99.22 L410.19,98.62 L410.23,98.02 L410.28,97.42 L410.31,96.83 L410.35,96.23 L410.39,95.63 L410.42,95.03 L410.46,94.43 L410.49,93.83 L410.52,93.24 L410.55,92.64 L410.58,92.04 L410.61,91.44 L410.64,90.84 L410.67,90.24 L410.70,89.65 L410.73,89.05 L410.76,88.45 L410.79,87.85 L410.82,87.25 L410.85,86.65 L410.88,86.05 L410.91,85.46 L410.94,84.86 L410.98,84.26 L411.02,83.66 L411.05,83.06 L411.09,82.47 L411.13,81.87 L411.17,81.27 L411.22,80.67 L411.27,80.07 L411.32,79.48 L411.37,78.88 L411.42,78.28 L411.48,77.69 L411.54,77.09 L411.60,76.50 L411.66,75.90 L411.73,75.30 L411.80,74.71 L411.87,74.11 L411.94,73.52 L412.02,72.92 L412.09,72.33 L412.17,71.74 L412.25,71.14 L412.33,70.55 L412.41,69.95 L412.49,69.36 L412.57,68.77 L412.66,68.17 L412.74,67.58 L412.83,66.99 L412.91,66.39 L413.00,65.80 L413.08,65.21 L413.17,64.61 L413.26,64.02 L413.34,63.43 L413.43,62.84 L413.51,62.24 L413.60,61.65 L413.68,61.06 L413.77,60.46 L413.85,59.87 L413.93,59.28 L414.01,58.68 L414.10,58.09 L414.18,57.50 L414.26,56.90 L414.35,56.31 L414.43,55.72 L414.52,55.12 L414.60,54.53 L414.69,53.94 L414.78,53.34 L414.86,52.75 L414.95,52.16 L415.04,51.56 L415.12,50.97 L415.21,50.38 L415.30,49.79 L415.39,49.19 L415.47,48.60 L415.56,48.01 L415.65,47.42 L415.74,46.82 L415.83,46.23 L415.92,45.64 L416.01,45.04 L416.09,44.45 L416.18,43.86 L416.27,43.27 L416.36,42.67 L416.44,42.08 L416.53,41.49 L416.61,40.89 L416.69,40.30 L416.77,39.71 L416.85,39.11 L416.93,38.52 L417.01,37.92 L417.09,37.33 L417.17,36.74 L417.25,36.14 L417.33,35.55 L417.42,34.96 L417.51,34.36 L417.60,33.77 L417.70,33.18 L417.80,32.59 L417.91,32.00 L418.02,31.41 L418.14,30.82 L418.25,30.24 L418.37,29.65 L418.48,29.06 L418.60,28.47 L418.71,27.88 L418.83,27.30 L418.95,26.71 L419.08,26.12 L419.21,25.54 L419.36,24.96 L419.52,24.38 L419.69,23.81 L419.89,23.24 L420.12,22.69 L420.42,22.17 L420.81,21.72 L421.33,21.43 L421.92,21.35 L422.52,21.40 L423.10,21.51 L423.68,21.69 L424.22,21.93 L424.73,22.26 L425.17,22.66 L425.57,23.11 L425.92,23.59 L426.26,24.09 L426.58,24.59 L426.90,25.10 L427.21,25.61 L427.52,26.12 L427.82,26.64 L428.12,27.16 L428.41,27.68 L428.70,28.21 L428.98,28.74 L429.26,29.27 L429.54,29.80 L429.82,30.33 L430.10,30.86 L430.37,31.40 L430.64,31.93 L430.90,32.47 L431.17,33.00 L431.43,33.54 L431.69,34.08 L431.95,34.62 L432.21,35.17 L432.46,35.71 L432.71,36.25 L432.96,36.80 L433.21,37.34 L433.46,37.89 L433.71,38.43 L433.96,38.98 L434.20,39.52 L434.45,40.07 L434.69,40.62 L434.93,41.17 L435.18,41.71 L435.42,42.26 L435.66,42.81 L435.90,43.36 L436.14,43.91 L436.38,44.46 L436.62,45.00 L436.86,45.55 L437.11,46.10 L437.35,46.65 L437.59,47.20 L437.83,47.75 L438.07,48.30 L438.31,48.84 L438.56,49.39 L438.80,49.94 L439.05,50.49 L439.29,51.03 L439.54,51.58 L439.78,52.13 L440.03,52.67 L440.28,53.22 L440.53,53.76 L440.78,54.30 L441.03,54.85 L441.29,55.39 L441.54,55.93 L441.80,56.47 L442.06,57.01 L442.32,57.55 L442.59,58.09 L442.85,58.63 L443.12,59.17 L443.39,59.70 L443.65,60.24 L443.93,60.77 L444.20,61.30 L444.47,61.84 L444.75,62.37 L445.03,62.90 L445.31,63.43 L445.59,63.96 L445.87,64.49 L446.16,65.01 L446.44,65.54 L446.73,66.06 L447.02,66.59 L447.32,67.11 L447.61,67.63 L447.91,68.15 L448.21,68.67 L448.51,69.19 L448.81,69.71 L449.12,70.22 L449.43,70.74 L449.73,71.25 L450.04,71.76 L450.36,72.28 L450.67,72.79 L450.98,73.30 L451.30,73.80 L451.62,74.31 L451.94,74.82 L452.27,75.32 L452.59,75.82 L452.92,76.33 L453.25,76.83 L453.58,77.33 L453.91,77.82 L454.25,78.32 L454.59,78.81 L454.93,79.31 L455.27,79.80 L455.61,80.29 L455.96,80.78 L456.30,81.27 L456.65,81.76 L457.00,82.24 L457.36,82.73 L457.71,83.21 L458.07,83.69 L458.43,84.17 L458.79,84.65 L459.15,85.13 L459.52,85.60 L459.88,86.08 L460.25,86.55 L460.62,87.02 L460.99,87.49 L461.36,87.96 L461.74,88.43 L462.11,88.90 L462.49,89.36 L462.87,89.82 L463.25,90.28 L463.64,90.74 L464.03,91.20 L464.41,91.66 L464.80,92.11 L465.20,92.57 L465.59,93.02 L465.99,93.47 L466.38,93.92 L466.78,94.36 L467.19,94.81 L467.59,95.25 L468.00,95.69 L468.41,96.13 L468.82,96.56 L469.23,97.00 L469.65,97.43 L470.06,97.86 L470.48,98.29 L470.90,98.71 L471.32,99.14 L471.75,99.56 L472.18,99.98 L472.60,100.40 L473.04,100.82 L473.47,101.23 L473.91,101.64 L474.34,102.05 L474.78,102.46 L475.23,102.86 L475.67,103.26 L476.12,103.66 L476.57,104.06 L477.02,104.45 L477.47,104.85 L477.92,105.24 L478.38,105.62 L478.84,106.01 L479.30,106.39 L479.77,106.77 L480.23,107.15 L480.70,107.52 L481.17,107.89 L481.64,108.26 L482.12,108.63 L482.59,108.99 L483.07,109.35 L483.55,109.71 L484.04,110.06 L484.52,110.41 L485.01,110.76 L485.50,111.10 L486.00,111.44 L486.49,111.78 L486.99,112.12 L487.49,112.45 L487.99,112.78 L488.49,113.10 L488.99,113.43 L489.50,113.75 L490.01,114.07 L490.52,114.39 L491.03,114.70 L491.54,115.01 L492.05,115.32 L492.57,115.63 L493.08,115.93 L493.60,116.23 L494.12,116.52 L494.65,116.82 L495.17,117.10 L495.70,117.38 L496.23,117.66 L496.77,117.94 L497.30,118.21 L497.84,118.47 L498.38,118.74 L498.91,119.00 L499.45,119.26 L499.99,119.52 L500.54,119.77 L501.08,120.03 L501.62,120.28 L502.17,120.53 L502.71,120.77 L503.26,121.02 L503.81,121.26 L504.36,121.50 L504.91,121.73 L505.46,121.96 L506.02,122.19 L506.57,122.42 L507.13,122.64 L507.69,122.86 L508.25,123.08 L508.80,123.29 L509.37,123.50 L509.93,123.71 L510.49,123.92 L511.06,124.12 L511.62,124.32 L512.19,124.52 L512.75,124.71 L513.32,124.90 L513.89,125.10 L514.46,125.28 L515.03,125.47 L515.60,125.66 L516.17,125.84 L516.74,126.02 L517.31,126.20 L517.88,126.38 L518.45,126.55 L519.03,126.73 L519.60,126.90 L520.18,127.07 L520.75,127.24 L521.33,127.41 L521.90,127.57 L522.48,127.74 L523.06,127.90 L523.63,128.06 L524.21,128.22 L524.79,128.37 L525.37,128.53 L525.95,128.69 L526.53,128.84 L527.10,128.99 L527.68,129.15 L528.26,129.30 L528.84,129.45 L529.42,129.60 L530.00,129.75 L530.58,129.91 L531.16,130.06 L531.74,130.21 L532.32,130.36 L532.90,130.52 L533.48,130.67 L534.06,130.82 L534.64,130.98 L535.22,131.13 L535.80,131.28 L536.38,131.43 L536.96,131.58 L537.54,131.73 L538.12,131.88 L538.70,132.03 L539.28,132.18 L539.86,132.33 L540.44,132.48 L541.02,132.63 L541.60,132.79 L542.18,132.94 L542.75,133.10 L543.33,133.26 L543.91,133.42 L544.49,133.58 L545.06,133.74 L545.64,133.91 L546.22,134.07 L546.79,134.24 L547.37,134.41 L547.94,134.58 L548.51,134.75 L549.09,134.92 L549.66,135.09 L550.24,135.27 L550.81,135.44 L551.38,135.62 L551.95,135.80 L552.52,135.98 L553.09,136.17 L553.66,136.35 L554.23,136.54 L554.80,136.73 L555.37,136.92 L555.94,137.11 L556.50,137.31 L557.07,137.50 L557.63,137.71 L558.20,137.91" fill="none" stroke="#f00" stroke-width="0.8"/>
<rect x="334.60" y="175.60" width="3.8" height="3.8" fill="#fff" stroke="#f00" stroke-width="0.8"/>
<rect x="336.87" y="175.60" width="3.8" height="3.8" fill="#fff" stroke="#f00" stroke-width="0.8"/>
<rect x="339.13" y="175.60" width="3.8" height="3.8" fill="#fff" stroke="#f00" stroke-width="0.8"/>
<rect x="341.40" y="175.60" width="3.8" height="3.8" fill="#fff" stroke="#f00" stroke-width="0.8"/>
<rect x="343.66" y="175.59" width="3.8" height="3.8" fill="#fff" stroke="#f00" stroke-width="0.8"/>
<rect x="345.93" y="175.59" width="3.8" height="3.8" fill="#fff" stroke="#f00" stroke-width="0.8"/>
<rect x="348.20" y="175.58" width="3.8" height="3.8" fill="#fff" stroke="#f00" stroke-width="0.8"/>
<rect x="350.46" y="175.58" width="3.8" height="3.8" fill="#fff" stroke="#f00" stroke-width="0.8"/>
<rect x="352.73" y="175.57" width="3.8" height="3.8" fill="#fff" stroke="#f00" stroke-width="0.8"/>
<rect x="354.99" y="175.56" width="3.8" height="3.8" fill="#fff" stroke="#f00" stroke-width="0.8"/>
<rect x="357.26" y="175.56" width="3.8" height="3.8" fill="#fff" stroke="#f00" stroke-width="0.8"/>
<rect x="359.53" y="175.55" width="3.8" height="3.8" fill="#fff" stroke="#f00" stroke-width="0.8"/>
<rect x="361.79" y="175.54" width="3.8" height="3.8" fill="#fff" stroke="#f00" stroke-width="0.8"/>
<rect x="364.06" y="175.52" width="3.8" height="3.8" fill="#fff" stroke="#f00" stroke-width="0.8"/>
<rect x="366.32" y="175.51" width="3.8" height="3.8" fill="#fff" stroke="#f00" stroke-width="0.8"/>
<rect x="368.59" y="175.49" width="3.8" height="3.8" fill="#fff" stroke="#f00" stroke-width="0.8"/>
<rect x="370.86" y="175.41" width="3.8" height="3.8" fill="#fff" stroke="#f00" stroke-width="0.8"/>
<rect x="373.12" y="175.25" width="3.8" height="3.8" fill="#fff" stroke="#f00" stroke-width="0.8"/>
<rect x="375.39" y="175.02" width="3.8" height="3.8" fill="#fff" stroke="#f00" stroke-width="0.8"/>
<rect x="377.65" y="174.72" width="3.8" height="3.8" fill="#fff" stroke="#f00" stroke-width="0.8"/>
<rect x="379.92" y="174.35" width="3.8" height="3.8" fill="#fff" stroke="#f00" stroke-width="0.8"/>
<rect x="382.19" y="173.91" width="3.8" height="3.8" fill="#fff" stroke="#f00" stroke-width="0.8"/>
<rect x="384.45" y="173.39" width="3.8" height="3.8" fill="#fff" stroke="#f00" stroke-width="0.8"/>
<rect x="386.72" y="172.74" width="3.8" height="3.8" fill="#fff" stroke="#f00" stroke-width="0.8"/>
<rect x="388.98" y="171.64" width="3.8" height="3.8" fill="#fff" stroke="#f00" stroke-width="0.8"/>
<rect x="391.25" y="169.94" width="3.8" height="3.8" fill="#fff" stroke="#f00" stroke-width="0.8"/>
<rect x="393.52" y="167.53" width="3.8" height="3.8" fill="#fff" stroke="#f00" stroke-width="0.8"/>
<rect x="395.78" y="163.80" width="3.8" height="3.8" fill="#fff" stroke="#f00" stroke-width="0.8"/>
<rect x="398.05" y="157.66" width="3.8" height="3.8" fill="#fff" stroke="#f00" stroke-width="0.8"/>
<rect x="400.31" y="146.87" width="3.8" height="3.8" fill="#fff" stroke="#f00" stroke-width="0.8"/>
<rect x="402.58" y="134.18" width="3.8" height="3.8" fill="#fff" stroke="#f00" stroke-width="0.8"/>
<rect x="404.85" y="118.57" width="3.8" height="3.8" fill="#fff" stroke="#f00" stroke-width="0.8"/>
<rect x="407.11" y="106.15" width="3.8" height="3.8" fill="#fff" stroke="#f00" stroke-width="0.8"/>
<rect x="409.38" y="78.03" width="3.8" height="3.8" fill="#fff" stroke="#f00" stroke-width="0.8"/>
<rect x="411.64" y="60.12" width="3.8" height="3.8" fill="#fff" stroke="#f00" stroke-width="0.8"/>
<rect x="413.91" y="44.45" width="3.8" height="3.8" fill="#fff" stroke="#f00" stroke-width="0.8"/>
<rect x="416.18" y="29.23" width="3.8" height="3.8" fill="#fff" stroke="#f00" stroke-width="0.8"/>
<rect x="418.44" y="20.39" width="3.8" height="3.8" fill="#fff" stroke="#f00" stroke-width="0.8"/>
<rect x="420.71" y="19.51" width="3.8" height="3.8" fill="#fff" stroke="#f00" stroke-width="0.8"/>
<rect x="422.97" y="20.48" width="3.8" height="3.8" fill="#fff" stroke="#f00" stroke-width="0.8"/>
<rect x="425.24" y="23.59" width="3.8" height="3.8" fill="#fff" stroke="#f00" stroke-width="0.8"/>
<rect x="427.51" y="27.64" width="3.8" height="3.8" fill="#fff" stroke="#f00" stroke-width="0.8"/>
<rect x="429.77" y="32.14" width="3.8" height="3.8" fill="#fff" stroke="#f00" stroke-width="0.8"/>
<rect x="432.04" y="37.04" width="3.8" height="3.8" fill="#fff" stroke="#f00" stroke-width="0.8"/>
<rect x="434.30" y="42.15" width="3.8" height="3.8" fill="#fff" stroke="#f00" stroke-width="0.8"/>
<rect x="436.57" y="47.30" width="3.8" height="3.8" fill="#fff" stroke="#f00" stroke-width="0.8"/>
<rect x="438.84" y="52.31" width="3.8" height="3.8" fill="#fff" stroke="#f00" stroke-width="0.8"/>
<rect x="441.10" y="57.03" width="3.8" height="3.8" fill="#fff" stroke="#f00" stroke-width="0.8"/>
<rect x="443.37" y="61.45" width="3.8" height="3.8" fill="#fff" stroke="#f00" stroke-width="0.8"/>
<rect x="445.63" y="65.59" width="3.8" height="3.8" fill="#fff" stroke="#f00" stroke-width="0.8"/>
<rect x="447.90" y="69.46" width="3.8" height="3.8" fill="#fff" stroke="#f00" stroke-width="0.8"/>
<rect x="450.17" y="73.11" width="3.8" height="3.8" fill="#fff" stroke="#f00" stroke-width="0.8"/>
<rect x="452.43" y="76.54" width="3.8" height="3.8" fill="#fff" stroke="#f00" stroke-width="0.8"/>
<rect x="454.70" y="79.78" width="3.8" height="3.8" fill="#fff" stroke="#f00" stroke-width="0.8"/>
<rect x="456.96" y="82.85" width="3.8" height="3.8" fill="#fff" stroke="#f00" stroke-width="0.8"/>
<rect x="459.23" y="85.77" width="3.8" height="3.8" fill="#fff" stroke="#f00" stroke-width="0.8"/>
<rect x="461.50" y="88.55" width="3.8" height="3.8" fill="#fff" stroke="#f00" stroke-width="0.8"/>
<rect x="463.76" y="91.20" width="3.8" height="3.8" fill="#fff" stroke="#f00" stroke-width="0.8"/>
<rect x="466.03" y="93.71" width="3.8" height="3.8" fill="#fff" stroke="#f00" stroke-width="0.8"/>
<rect x="468.29" y="96.09" width="3.8" height="3.8" fill="#fff" stroke="#f00" stroke-width="0.8"/>
<rect x="470.56" y="98.36" width="3.8" height="3.8" fill="#fff" stroke="#f00" stroke-width="0.8"/>
<rect x="472.83" y="100.50" width="3.8" height="3.8" fill="#fff" stroke="#f00" stroke-width="0.8"/>
<rect x="475.09" y="102.53" width="3.8" height="3.8" fill="#fff" stroke="#f00" stroke-width="0.8"/>
<rect x="477.36" y="104.45" width="3.8" height="3.8" fill="#fff" stroke="#f00" stroke-width="0.8"/>
<rect x="479.62" y="106.27" width="3.8" height="3.8" fill="#fff" stroke="#f00" stroke-width="0.8"/>
<rect x="481.89" y="107.98" width="3.8" height="3.8" fill="#fff" stroke="#f00" stroke-width="0.8"/>
<rect x="484.16" y="109.58" width="3.8" height="3.8" fill="#fff" stroke="#f00" stroke-width="0.8"/>
<rect x="486.42" y="111.10" width="3.8" height="3.8" fill="#fff" stroke="#f00" stroke-width="0.8"/>
<rect x="488.69" y="112.53" width="3.8" height="3.8" fill="#fff" stroke="#f00" stroke-width="0.8"/>
<rect x="490.95" y="113.89" width="3.8" height="3.8" fill="#fff" stroke="#f00" stroke-width="0.8"/>
<rect x="493.22" y="115.17" width="3.8" height="3.8" fill="#fff" stroke="#f00" stroke-width="0.8"/>
<rect x="495.49" y="116.35" width="3.8" height="3.8" fill="#fff" stroke="#f00" stroke-width="0.8"/>
<rect x="497.75" y="117.45" width="3.8" height="3.8" fill="#fff" stroke="#f00" stroke-width="0.8"/>
<rect x="500.02" y="118.51" width="3.8" height="3.8" fill="#fff" stroke="#f00" stroke-width="0.8"/>
<rect x="502.28" y="119.52" width="3.8" height="3.8" fill="#fff" stroke="#f00" stroke-width="0.8"/>
<rect x="504.55" y="120.47" width="3.8" height="3.8" fill="#fff" stroke="#f00" stroke-width="0.8"/>
<rect x="506.82" y="121.36" width="3.8" height="3.8" fill="#fff" stroke="#f00" stroke-width="0.8"/>
<rect x="509.08" y="122.19" width="3.8" height="3.8" fill="#fff" stroke="#f00" stroke-width="0.8"/>
<rect x="511.35" y="122.98" width="3.8" height="3.8" fill="#fff" stroke="#f00" stroke-width="0.8"/>
<rect x="513.61" y="123.73" width="3.8" height="3.8" fill="#fff" stroke="#f00" stroke-width="0.8"/>
<rect x="515.88" y="124.45" width="3.8" height="3.8" fill="#fff" stroke="#f00" stroke-width="0.8"/>
<rect x="518.15" y="125.13" width="3.8" height="3.8" fill="#fff" stroke="#f00" stroke-width="0.8"/>
<rect x="520.41" y="125.79" width="3.8" height="3.8" fill="#fff" stroke="#f00" stroke-width="0.8"/>
<rect x="522.68" y="126.42" width="3.8" height="3.8" fill="#fff" stroke="#f00" stroke-width="0.8"/>
<rect x="524.94" y="127.02" width="3.8" height="3.8" fill="#fff" stroke="#f00" stroke-width="0.8"/>
<rect x="527.21" y="127.62" width="3.8" height="3.8" fill="#fff" stroke="#f00" stroke-width="0.8"/>
<rect x="529.48" y="128.21" width="3.8" height="3.8" fill="#fff" stroke="#f00" stroke-width="0.8"/>
<rect x="531.74" y="128.81" width="3.8" height="3.8" fill="#fff" stroke="#f00" stroke-width="0.8"/>
<rect x="534.01" y="129.41" width="3.8" height="3.8" fill="#fff" stroke="#f00" stroke-width="0.8"/>
<rect x="536.27" y="129.99" width="3.8" height="3.8" fill="#fff" stroke="#f00" stroke-width="0.8"/>
<rect x="538.54" y="130.58" width="3.8" height="3.8" fill="#fff" stroke="#f00" stroke-width="0.8"/>
<rect x="540.81" y="131.18" width="3.8" height="3.8" fill="#fff" stroke="#f00" stroke-width="0.8"/>
<rect x="543.07" y="131.81" width="3.8" height="3.8" fill="#fff" stroke="#f00" stroke-width="0.8"/>
<rect x="545.34" y="132.47" width="3.8" height="3.8" fill="#fff" stroke="#f00" stroke-width="0.8"/>
<rect x="547.60" y="133.15" width="3.8" height="3.8" fill="#fff" stroke="#f00" stroke-width="0.8"/>
<rect x="549.87" y="133.84" width="3.8" height="3.8" fill="#fff" stroke="#f00" stroke-width="0.8"/>
<rect x="552.14" y="134.57" width="3.8" height="3.8" fill="#fff" stroke="#f00" stroke-width="0.8"/>
<rect x="554.40" y="135.34" width="3.8" height="3.8" fill="#fff" stroke="#f00" stroke-width="0.8"/>
<rect x="556.67" y="136.15" width="3.8" height="3.8" fill="#fff" stroke="#f00" stroke-width="0.8"/>
<path d="M336.08,177.50 L336.68,177.50 L337.28,177.50 L337.88,177.50 L338.48,177.50 L339.08,177.50 L339.68,177.50 L340.28,177.50 L340.88,177.50 L341.48,177.50 L342.08,177.50 L342.68,177.50 L343.28,177.50 L343.88,177.50 L344.48,177.49 L345.08,177.49 L345.68,177.49 L346.28,177.49 L346.88,177.49 L347.48,177.49 L348.08,177.49 L348.68,177.49 L349.28,177.49 L349.88,177.48 L350.48,177.48 L351.08,177.48 L351.68,177.48 L352.28,177.48 L352.88,177.48 L353.48,177.47 L354.08,177.47 L354.68,177.47 L355.28,177.47 L355.88,177.47 L356.48,177.46 L357.08,177.46 L357.68,177.46 L358.28,177.46 L358.87,177.45 L359.47,177.45 L360.07,177.45 L360.67,177.45 L361.27,177.44 L361.87,177.44 L362.47,177.44 L363.07,177.43 L363.67,177.43 L364.27,177.43 L364.87,177.42 L365.47,177.42 L366.07,177.42 L366.67,177.41 L367.27,177.41 L367.87,177.40 L368.47,177.40 L369.07,177.40 L369.67,177.39 L370.27,177.39 L370.87,177.38 L371.47,177.38 L372.07,177.37 L372.67,177.37 L373.27,177.36 L373.87,177.36 L374.47,177.35 L375.07,177.35 L375.67,177.34 L376.27,177.34 L376.87,177.33 L377.47,177.33 L378.07,177.32 L378.67,177.31 L379.27,177.30 L379.87,177.29 L380.47,177.27 L381.07,177.25 L381.67,177.22 L382.26,177.18 L382.86,177.12 L383.46,177.06 L384.05,177.00 L384.65,176.92 L385.24,176.83 L385.84,176.74 L386.43,176.65 L387.02,176.54 L387.61,176.43 L388.20,176.32 L388.78,176.20 L389.37,176.07 L389.96,175.94 L390.54,175.81 L391.13,175.67 L391.71,175.53 L392.29,175.38 L392.86,175.21 L393.44,175.03 L394.00,174.84 L394.57,174.63 L395.12,174.40 L395.67,174.16 L396.21,173.90 L396.75,173.64 L397.28,173.35 L397.80,173.06 L398.32,172.75 L398.82,172.43 L399.32,172.09 L399.80,171.73 L400.27,171.36 L400.73,170.97 L401.16,170.56 L401.59,170.14 L401.98,169.69 L402.36,169.22 L402.71,168.74 L403.05,168.24 L403.36,167.72 L403.65,167.20 L403.92,166.67 L404.18,166.12 L404.42,165.57 L404.64,165.02 L404.86,164.46 L405.05,163.89 L405.24,163.32 L405.41,162.75 L405.57,162.17 L405.73,161.59 L405.88,161.01 L406.02,160.43 L406.16,159.84 L406.31,159.26 L406.45,158.68 L406.60,158.10 L406.75,157.52 L406.91,156.94 L407.07,156.36 L407.23,155.78 L407.40,155.21 L407.57,154.63 L407.74,154.06 L407.91,153.48 L408.08,152.91 L408.25,152.33 L408.41,151.75 L408.57,151.18 L408.73,150.60 L408.88,150.02 L409.02,149.43 L409.16,148.85 L409.29,148.26 L409.41,147.68 L409.53,147.09 L409.64,146.50 L409.75,145.91 L409.85,145.32 L409.95,144.73 L410.05,144.14 L410.15,143.54 L410.24,142.95 L410.33,142.36 L410.42,141.77 L410.51,141.17 L410.59,140.58 L410.68,139.98 L410.76,139.39 L410.84,138.80 L410.92,138.20 L411.00,137.61 L411.08,137.01 L411.16,136.42 L411.24,135.82 L411.32,135.23 L411.39,134.63 L411.47,134.04 L411.55,133.44 L411.63,132.85 L411.70,132.25 L411.78,131.66 L411.85,131.06 L411.93,130.47 L412.00,129.87 L412.07,129.28 L412.15,128.68 L412.22,128.09 L412.29,127.49 L412.36,126.90 L412.43,126.30 L412.50,125.70 L412.56,125.11 L412.63,124.51 L412.70,123.92 L412.77,123.32 L412.84,122.72 L412.90,122.13 L412.97,121.53 L413.04,120.94 L413.10,120.34 L413.17,119.74 L413.24,119.15 L413.30,118.55 L413.37,117.96 L413.44,117.36 L413.50,116.76 L413.57,116.17 L413.63,115.57 L413.70,114.98 L413.76,114.38 L413.83,113.78 L413.89,113.19 L413.95,112.59 L414.02,111.99 L414.08,111.40 L414.14,110.80 L414.20,110.20 L414.27,109.61 L414.33,109.01 L414.39,108.41 L414.45,107.82 L414.51,107.22 L414.57,106.62 L414.64,106.03 L414.70,105.43 L414.76,104.83 L414.82,104.24 L414.89,103.64 L414.95,103.04 L415.01,102.45 L415.08,101.85 L415.14,101.26 L415.21,100.66 L415.27,100.06 L415.34,99.47 L415.40,98.87 L415.47,98.27 L415.54,97.68 L415.61,97.08 L415.67,96.49 L415.74,95.89 L415.81,95.29 L415.88,94.70 L415.95,94.10 L416.02,93.51 L416.09,92.91 L416.16,92.32 L416.23,91.72 L416.30,91.13 L416.38,90.53 L416.45,89.93 L416.52,89.34 L416.59,88.74 L416.66,88.15 L416.74,87.55 L416.81,86.96 L416.88,86.36 L416.96,85.77 L417.03,85.17 L417.10,84.58 L417.18,83.98 L417.25,83.39 L417.33,82.79 L417.40,82.20 L417.47,81.60 L417.55,81.00 L417.62,80.41 L417.70,79.81 L417.77,79.22 L417.85,78.62 L417.92,78.03 L418.00,77.43 L418.07,76.84 L418.14,76.24 L418.22,75.65 L418.30,75.05 L418.37,74.46 L418.45,73.86 L418.52,73.27 L418.60,72.67 L418.68,72.08 L418.76,71.48 L418.84,70.89 L418.92,70.30 L419.00,69.70 L419.08,69.11 L419.15,68.51 L419.23,67.92 L419.31,67.32 L419.39,66.73 L419.47,66.13 L419.55,65.54 L419.63,64.94 L419.71,64.35 L419.79,63.76 L419.87,63.16 L419.95,62.57 L420.02,61.97 L420.10,61.38 L420.18,60.78 L420.25,60.19 L420.33,59.59 L420.40,59.00 L420.48,58.40 L420.55,57.81 L420.62,57.21 L420.69,56.61 L420.76,56.02 L420.83,55.42 L420.90,54.83 L420.96,54.23 L421.02,53.63 L421.09,53.04 L421.15,52.44 L421.21,51.84 L421.27,51.25 L421.33,50.65 L421.38,50.05 L421.44,49.46 L421.50,48.86 L421.56,48.26 L421.61,47.67 L421.67,47.07 L421.73,46.47 L421.79,45.87 L421.85,45.28 L421.91,44.68 L421.97,44.08 L422.04,43.49 L422.10,42.89 L422.17,42.30 L422.23,41.70 L422.30,41.10 L422.38,40.51 L422.45,39.91 L422.53,39.32 L422.60,38.72 L422.68,38.13 L422.76,37.53 L422.84,36.94 L422.92,36.34 L423.00,35.75 L423.09,35.16 L423.18,34.56 L423.26,33.97 L423.36,33.38 L423.45,32.79 L423.55,32.19 L423.65,31.60 L423.75,31.01 L423.86,30.42 L423.97,29.83 L424.09,29.24 L424.21,28.66 L424.34,28.07 L424.48,27.49 L424.62,26.90 L424.77,26.32 L424.93,25.75 L425.10,25.17 L425.29,24.60 L425.48,24.03 L425.69,23.47 L425.91,22.91 L426.14,22.36 L426.38,21.81 L426.64,21.27 L426.90,20.73 L427.17,20.19 L427.46,19.67 L427.78,19.16 L428.13,18.68 L428.56,18.26 L429.08,17.96 L429.67,17.85 L430.27,17.88 L430.85,18.03 L431.40,18.26 L431.91,18.57 L432.37,18.95 L432.79,19.39 L433.17,19.85 L433.52,20.34 L433.86,20.83 L434.18,21.34 L434.49,21.85 L434.78,22.38 L435.07,22.90 L435.35,23.43 L435.63,23.96 L435.91,24.49 L436.18,25.03 L436.46,25.56 L436.74,26.09 L437.02,26.62 L437.29,27.16 L437.56,27.69 L437.83,28.23 L438.10,28.76 L438.36,29.30 L438.63,29.84 L438.89,30.38 L439.14,30.92 L439.40,31.47 L439.65,32.01 L439.91,32.55 L440.16,33.10 L440.41,33.64 L440.66,34.19 L440.90,34.73 L441.15,35.28 L441.40,35.83 L441.64,36.38 L441.89,36.92 L442.13,37.47 L442.37,38.02 L442.62,38.57 L442.86,39.12 L443.10,39.67 L443.34,40.21 L443.59,40.76 L443.83,41.31 L444.07,41.86 L444.31,42.41 L444.55,42.96 L444.80,43.51 L445.04,44.06 L445.28,44.60 L445.53,45.15 L445.77,45.70 L446.02,46.25 L446.26,46.79 L446.51,47.34 L446.76,47.89 L447.01,48.43 L447.26,48.98 L447.51,49.52 L447.76,50.06 L448.02,50.61 L448.27,51.15 L448.53,51.69 L448.79,52.23 L449.05,52.77 L449.31,53.31 L449.58,53.85 L449.84,54.39 L450.11,54.93 L450.37,55.46 L450.64,56.00 L450.91,56.54 L451.19,57.07 L451.46,57.60 L451.74,58.14 L452.02,58.67 L452.30,59.20 L452.58,59.73 L452.86,60.26 L453.14,60.78 L453.43,61.31 L453.72,61.84 L454.01,62.36 L454.30,62.89 L454.59,63.41 L454.89,63.93 L455.18,64.45 L455.48,64.97 L455.78,65.49 L456.08,66.01 L456.39,66.53 L456.69,67.04 L457.00,67.56 L457.31,68.07 L457.62,68.59 L457.94,69.10 L458.25,69.61 L458.57,70.12 L458.89,70.63 L459.21,71.13 L459.53,71.64 L459.85,72.14 L460.18,72.65 L460.51,73.15 L460.84,73.65 L461.17,74.15 L461.50,74.65 L461.84,75.14 L462.18,75.64 L462.52,76.13 L462.86,76.63 L463.20,77.12 L463.55,77.61 L463.90,78.10 L464.24,78.59 L464.60,79.07 L464.95,79.56 L465.30,80.04 L465.66,80.52 L466.02,81.00 L466.38,81.48 L466.74,81.96 L467.10,82.44 L467.47,82.91 L467.84,83.39 L468.21,83.86 L468.58,84.33 L468.95,84.80 L469.33,85.27 L469.70,85.73 L470.08,86.20 L470.47,86.66 L470.85,87.12 L471.23,87.58 L471.62,88.04 L472.01,88.50 L472.40,88.95 L472.80,89.40 L473.19,89.86 L473.59,90.30 L473.99,90.75 L474.39,91.20 L474.80,91.64 L475.20,92.08 L475.61,92.52 L476.02,92.96 L476.43,93.39 L476.85,93.83 L477.26,94.26 L477.68,94.69 L478.10,95.11 L478.53,95.54 L478.96,95.96 L479.38,96.38 L479.81,96.80 L480.25,97.21 L480.68,97.62 L481.12,98.04 L481.56,98.44 L482.00,98.85 L482.44,99.25 L482.89,99.66 L483.34,100.05 L483.79,100.45 L484.24,100.85 L484.69,101.24 L485.15,101.62 L485.61,102.01 L486.07,102.39 L486.54,102.77 L487.00,103.15 L487.47,103.52 L487.94,103.90 L488.42,104.26 L488.89,104.63 L489.37,104.99 L489.85,105.36 L490.33,105.71 L490.81,106.07 L491.30,106.42 L491.78,106.77 L492.27,107.12 L492.77,107.46 L493.26,107.80 L493.76,108.14 L494.25,108.47 L494.75,108.80 L495.26,109.13 L495.76,109.45 L496.27,109.77 L496.78,110.09 L497.29,110.40 L497.81,110.70 L498.33,111.01 L498.84,111.31 L499.36,111.61 L499.88,111.91 L500.41,112.20 L500.93,112.50 L501.45,112.79 L501.98,113.08 L502.51,113.37 L503.03,113.65 L503.56,113.93 L504.10,114.21 L504.63,114.48 L505.16,114.76 L505.70,115.02 L506.24,115.29 L506.78,115.55 L507.32,115.81 L507.86,116.07 L508.41,116.32 L508.95,116.57 L509.50,116.81 L510.05,117.05 L510.60,117.29 L511.15,117.53 L511.70,117.76 L512.26,117.99 L512.81,118.22 L513.37,118.44 L513.92,118.67 L514.48,118.89 L515.04,119.11 L515.60,119.32 L516.16,119.54 L516.72,119.75 L517.28,119.96 L517.84,120.17 L518.40,120.38 L518.97,120.59 L519.53,120.79 L520.10,120.99 L520.66,121.19 L521.23,121.39 L521.80,121.58 L522.36,121.78 L522.93,121.97 L523.50,122.16 L524.07,122.34 L524.64,122.53 L525.21,122.71 L525.79,122.90 L526.36,123.08 L526.93,123.26 L527.50,123.44 L528.07,123.62 L528.65,123.79 L529.22,123.97 L529.79,124.15 L530.37,124.32 L530.94,124.50 L531.51,124.67 L532.09,124.85 L532.66,125.02 L533.23,125.20 L533.81,125.37 L534.38,125.55 L534.96,125.72 L535.53,125.90 L536.11,126.07 L536.68,126.24 L537.25,126.41 L537.83,126.58 L538.40,126.76 L538.98,126.93 L539.55,127.10 L540.13,127.27 L540.70,127.45 L541.27,127.62 L541.85,127.80 L542.42,127.98 L542.99,128.16 L543.56,128.34 L544.14,128.52 L544.71,128.70 L545.28,128.89 L545.85,129.08 L546.42,129.26 L546.99,129.45 L547.56,129.64 L548.12,129.83 L548.69,130.03 L549.26,130.22 L549.83,130.42 L550.39,130.61 L550.96,130.81 L551.53,131.01 L552.09,131.21 L552.65,131.41 L553.22,131.62 L553.78,131.82 L554.34,132.03 L554.91,132.24 L555.47,132.46 L556.03,132.67 L556.59,132.89 L557.14,133.11 L557.70,133.34 L558.25,133.56" fill="none" stroke="#00f" stroke-width="0.8"/>
<circle cx="336.50" cy="177.50" r="2.0" fill="#fff" stroke="#00f" stroke-width="0.8"/>
<circle cx="338.77" cy="177.50" r="2.0" fill="#fff" stroke="#00f" stroke-width="0.8"/>
<circle cx="341.03" cy="177.50" r="2.0" fill="#fff" stroke="#00f" stroke-width="0.8"/>
<circle cx="343.30" cy="177.50" r="2.0" fill="#fff" stroke="#00f" stroke-width="0.8"/>
<circle cx="345.56" cy="177.49" r="2.0" fill="#fff" stroke="#00f" stroke-width="0.8"/>
<circle cx="347.83" cy="177.49" r="2.0" fill="#fff" stroke="#00f" stroke-width="0.8"/>
<circle cx="350.10" cy="177.48" r="2.0" fill="#fff" stroke="#00f" stroke-width="0.8"/>
<circle cx="352.36" cy="177.48" r="2.0" fill="#fff" stroke="#00f" stroke-width="0.8"/>
<circle cx="354.63" cy="177.47" r="2.0" fill="#fff" stroke="#00f" stroke-width="0.8"/>
<circle cx="356.89" cy="177.46" r="2.0" fill="#fff" stroke="#00f" stroke-width="0.8"/>
<circle cx="359.16" cy="177.45" r="2.0" fill="#fff" stroke="#00f" stroke-width="0.8"/>
<circle cx="361.43" cy="177.44" r="2.0" fill="#fff" stroke="#00f" stroke-width="0.8"/>
<circle cx="363.69" cy="177.43" r="2.0" fill="#fff" stroke="#00f" stroke-width="0.8"/>
<circle cx="365.96" cy="177.42" r="2.0" fill="#fff" stroke="#00f" stroke-width="0.8"/>
<circle cx="368.22" cy="177.40" r="2.0" fill="#fff" stroke="#00f" stroke-width="0.8"/>
<circle cx="370.49" cy="177.39" r="2.0" fill="#fff" stroke="#00f" stroke-width="0.8"/>
<circle cx="372.76" cy="177.37" r="2.0" fill="#fff" stroke="#00f" stroke-width="0.8"/>
<circle cx="375.02" cy="177.35" r="2.0" fill="#fff" stroke="#00f" stroke-width="0.8"/>
<circle cx="377.29" cy="177.33" r="2.0" fill="#fff" stroke="#00f" stroke-width="0.8"/>
<circle cx="379.55" cy="177.30" r="2.0" fill="#fff" stroke="#00f" stroke-width="0.8"/>
<circle cx="381.82" cy="177.21" r="2.0" fill="#fff" stroke="#00f" stroke-width="0.8"/>
<circle cx="384.09" cy="176.99" r="2.0" fill="#fff" stroke="#00f" stroke-width="0.8"/>
<circle cx="386.35" cy="176.66" r="2.0" fill="#fff" stroke="#00f" stroke-width="0.8"/>
<circle cx="388.62" cy="176.23" r="2.0" fill="#fff" stroke="#00f" stroke-width="0.8"/>
<circle cx="390.88" cy="175.73" r="2.0" fill="#fff" stroke="#00f" stroke-width="0.8"/>
<circle cx="393.15" cy="175.13" r="2.0" fill="#fff" stroke="#00f" stroke-width="0.8"/>
<circle cx="395.42" cy="174.27" r="2.0" fill="#fff" stroke="#00f" stroke-width="0.8"/>
<circle cx="397.68" cy="173.13" r="2.0" fill="#fff" stroke="#00f" stroke-width="0.8"/>
<circle cx="399.95" cy="171.62" r="2.0" fill="#fff" stroke="#00f" stroke-width="0.8"/>
<circle cx="402.21" cy="169.41" r="2.0" fill="#fff" stroke="#00f" stroke-width="0.8"/>
<circle cx="404.48" cy="165.43" r="2.0" fill="#fff" stroke="#00f" stroke-width="0.8"/>
<circle cx="406.75" cy="157.54" r="2.0" fill="#fff" stroke="#00f" stroke-width="0.8"/>
<circle cx="409.01" cy="149.47" r="2.0" fill="#fff" stroke="#00f" stroke-width="0.8"/>
<circle cx="411.28" cy="135.52" r="2.0" fill="#fff" stroke="#00f" stroke-width="0.8"/>
<circle cx="413.54" cy="116.40" r="2.0" fill="#fff" stroke="#00f" stroke-width="0.8"/>
<circle cx="415.81" cy="95.31" r="2.0" fill="#fff" stroke="#00f" stroke-width="0.8"/>
<circle cx="418.08" cy="76.79" r="2.0" fill="#fff" stroke="#00f" stroke-width="0.8"/>
<circle cx="420.34" cy="59.48" r="2.0" fill="#fff" stroke="#00f" stroke-width="0.8"/>
<circle cx="422.61" cy="38.68" r="2.0" fill="#fff" stroke="#00f" stroke-width="0.8"/>
<circle cx="424.87" cy="25.94" r="2.0" fill="#fff" stroke="#00f" stroke-width="0.8"/>
<circle cx="427.14" cy="20.25" r="2.0" fill="#fff" stroke="#00f" stroke-width="0.8"/>
<circle cx="429.41" cy="17.88" r="2.0" fill="#fff" stroke="#00f" stroke-width="0.8"/>
<circle cx="431.67" cy="18.41" r="2.0" fill="#fff" stroke="#00f" stroke-width="0.8"/>
<circle cx="433.94" cy="20.96" r="2.0" fill="#fff" stroke="#00f" stroke-width="0.8"/>
<circle cx="436.20" cy="25.06" r="2.0" fill="#fff" stroke="#00f" stroke-width="0.8"/>
<circle cx="438.47" cy="29.52" r="2.0" fill="#fff" stroke="#00f" stroke-width="0.8"/>
<circle cx="440.74" cy="34.36" r="2.0" fill="#fff" stroke="#00f" stroke-width="0.8"/>
<circle cx="443.00" cy="39.44" r="2.0" fill="#fff" stroke="#00f" stroke-width="0.8"/>
<circle cx="445.27" cy="44.57" r="2.0" fill="#fff" stroke="#00f" stroke-width="0.8"/>
<circle cx="447.53" cy="49.57" r="2.0" fill="#fff" stroke="#00f" stroke-width="0.8"/>
<circle cx="449.80" cy="54.31" r="2.0" fill="#fff" stroke="#00f" stroke-width="0.8"/>
<circle cx="452.07" cy="58.76" r="2.0" fill="#fff" stroke="#00f" stroke-width="0.8"/>
<circle cx="454.33" cy="62.95" r="2.0" fill="#fff" stroke="#00f" stroke-width="0.8"/>
<circle cx="456.60" cy="66.88" r="2.0" fill="#fff" stroke="#00f" stroke-width="0.8"/>
<circle cx="458.86" cy="70.59" r="2.0" fill="#fff" stroke="#00f" stroke-width="0.8"/>
<circle cx="461.13" cy="74.09" r="2.0" fill="#fff" stroke="#00f" stroke-width="0.8"/>
<circle cx="463.40" cy="77.39" r="2.0" fill="#fff" stroke="#00f" stroke-width="0.8"/>
<circle cx="465.66" cy="80.53" r="2.0" fill="#fff" stroke="#00f" stroke-width="0.8"/>
<circle cx="467.93" cy="83.50" r="2.0" fill="#fff" stroke="#00f" stroke-width="0.8"/>
<circle cx="470.19" cy="86.33" r="2.0" fill="#fff" stroke="#00f" stroke-width="0.8"/>
<circle cx="472.46" cy="89.02" r="2.0" fill="#fff" stroke="#00f" stroke-width="0.8"/>
<circle cx="474.73" cy="91.56" r="2.0" fill="#fff" stroke="#00f" stroke-width="0.8"/>
<circle cx="476.99" cy="93.98" r="2.0" fill="#fff" stroke="#00f" stroke-width="0.8"/>
<circle cx="479.26" cy="96.26" r="2.0" fill="#fff" stroke="#00f" stroke-width="0.8"/>
<circle cx="481.52" cy="98.41" r="2.0" fill="#fff" stroke="#00f" stroke-width="0.8"/>
<circle cx="483.79" cy="100.45" r="2.0" fill="#fff" stroke="#00f" stroke-width="0.8"/>
<circle cx="486.06" cy="102.38" r="2.0" fill="#fff" stroke="#00f" stroke-width="0.8"/>
<circle cx="488.32" cy="104.19" r="2.0" fill="#fff" stroke="#00f" stroke-width="0.8"/>
<circle cx="490.59" cy="105.91" r="2.0" fill="#fff" stroke="#00f" stroke-width="0.8"/>
<circle cx="492.85" cy="107.52" r="2.0" fill="#fff" stroke="#00f" stroke-width="0.8"/>
<circle cx="495.12" cy="109.04" r="2.0" fill="#fff" stroke="#00f" stroke-width="0.8"/>
<circle cx="497.39" cy="110.45" r="2.0" fill="#fff" stroke="#00f" stroke-width="0.8"/>
<circle cx="499.65" cy="111.78" r="2.0" fill="#fff" stroke="#00f" stroke-width="0.8"/>
<circle cx="501.92" cy="113.05" r="2.0" fill="#fff" stroke="#00f" stroke-width="0.8"/>
<circle cx="504.18" cy="114.25" r="2.0" fill="#fff" stroke="#00f" stroke-width="0.8"/>
<circle cx="506.45" cy="115.39" r="2.0" fill="#fff" stroke="#00f" stroke-width="0.8"/>
<circle cx="508.72" cy="116.46" r="2.0" fill="#fff" stroke="#00f" stroke-width="0.8"/>
<circle cx="510.98" cy="117.46" r="2.0" fill="#fff" stroke="#00f" stroke-width="0.8"/>
<circle cx="513.25" cy="118.40" r="2.0" fill="#fff" stroke="#00f" stroke-width="0.8"/>
<circle cx="515.51" cy="119.29" r="2.0" fill="#fff" stroke="#00f" stroke-width="0.8"/>
<circle cx="517.78" cy="120.15" r="2.0" fill="#fff" stroke="#00f" stroke-width="0.8"/>
<circle cx="520.05" cy="120.98" r="2.0" fill="#fff" stroke="#00f" stroke-width="0.8"/>
<circle cx="522.31" cy="121.76" r="2.0" fill="#fff" stroke="#00f" stroke-width="0.8"/>
<circle cx="524.58" cy="122.51" r="2.0" fill="#fff" stroke="#00f" stroke-width="0.8"/>
<circle cx="526.84" cy="123.23" r="2.0" fill="#fff" stroke="#00f" stroke-width="0.8"/>
<circle cx="529.11" cy="123.94" r="2.0" fill="#fff" stroke="#00f" stroke-width="0.8"/>
<circle cx="531.38" cy="124.63" r="2.0" fill="#fff" stroke="#00f" stroke-width="0.8"/>
<circle cx="533.64" cy="125.32" r="2.0" fill="#fff" stroke="#00f" stroke-width="0.8"/>
<circle cx="535.91" cy="126.01" r="2.0" fill="#fff" stroke="#00f" stroke-width="0.8"/>
<circle cx="538.17" cy="126.69" r="2.0" fill="#fff" stroke="#00f" stroke-width="0.8"/>
<circle cx="540.44" cy="127.37" r="2.0" fill="#fff" stroke="#00f" stroke-width="0.8"/>
<circle cx="542.71" cy="128.07" r="2.0" fill="#fff" stroke="#00f" stroke-width="0.8"/>
<circle cx="544.97" cy="128.79" r="2.0" fill="#fff" stroke="#00f" stroke-width="0.8"/>
<circle cx="547.24" cy="129.54" r="2.0" fill="#fff" stroke="#00f" stroke-width="0.8"/>
<circle cx="549.50" cy="130.30" r="2.0" fill="#fff" stroke="#00f" stroke-width="0.8"/>
<circle cx="551.77" cy="131.10" r="2.0" fill="#fff" stroke="#00f" stroke-width="0.8"/>
<circle cx="554.04" cy="131.92" r="2.0" fill="#fff" stroke="#00f" stroke-width="0.8"/>
<circle cx="556.30" cy="132.78" r="2.0" fill="#fff" stroke="#00f" stroke-width="0.8"/>
<circle cx="558.57" cy="133.69" r="2.0" fill="#fff" stroke="#00f" stroke-width="0.8"/>
<path d="M336.08,177.50 L336.68,177.50 L337.28,177.50 L337.88,177.50 L338.48,177.50 L339.08,177.50 L339.68,177.50 L340.28,177.50 L340.88,177.50 L341.48,177.50 L342.08,177.50 L342.68,177.50 L343.28,177.50 L343.88,177.50 L344.48,177.50 L345.08,177.50 L345.68,177.50 L346.28,177.50 L346.88,177.50 L347.48,177.50 L348.08,177.50 L348.68,177.49 L349.28,177.49 L349.88,177.49 L350.48,177.49 L351.08,177.49 L351.68,177.49 L352.28,177.49 L352.88,177.49 L353.48,177.49 L354.08,177.49 L354.68,177.49 L355.28,177.49 L355.88,177.49 L356.48,177.49 L357.08,177.49 L357.68,177.48 L358.28,177.48 L358.88,177.48 L359.48,177.48 L360.08,177.48 L360.68,177.48 L361.28,177.48 L361.87,177.48 L362.47,177.48 L363.07,177.47 L363.67,177.47 L364.27,177.47 L364.87,177.47 L365.47,177.47 L366.07,177.47 L366.67,177.47 L367.27,177.46 L367.87,177.46 L368.47,177.46 L369.07,177.46 L369.67,177.46 L370.27,177.46 L370.87,177.45 L371.47,177.45 L372.07,177.45 L372.67,177.45 L373.27,177.45 L373.87,177.45 L374.47,177.44 L375.07,177.44 L375.67,177.44 L376.27,177.44 L376.87,177.43 L377.47,177.43 L378.07,177.43 L378.67,177.43 L379.27,177.43 L379.87,177.42 L380.47,177.42 L381.07,177.42 L381.67,177.42 L382.27,177.41 L382.87,177.41 L383.47,177.41 L384.07,177.40 L384.67,177.40 L385.27,177.39 L385.87,177.39 L386.47,177.38 L387.07,177.36 L387.67,177.34 L388.27,177.32 L388.87,177.30 L389.47,177.28 L390.07,177.25 L390.67,177.21 L391.27,177.18 L391.86,177.14 L392.46,177.10 L393.06,177.06 L393.66,177.02 L394.26,176.97 L394.86,176.92 L395.45,176.87 L396.05,176.81 L396.65,176.75 L397.24,176.67 L397.84,176.59 L398.43,176.49 L399.02,176.38 L399.61,176.26 L400.19,176.13 L400.77,175.99 L401.35,175.83 L401.93,175.66 L402.50,175.48 L403.07,175.28 L403.63,175.07 L404.18,174.83 L404.71,174.56 L405.23,174.26 L405.73,173.93 L406.21,173.56 L406.66,173.17 L407.10,172.76 L407.52,172.34 L407.93,171.89 L408.31,171.43 L408.67,170.95 L409.02,170.46 L409.34,169.96 L409.65,169.44 L409.95,168.92 L410.23,168.39 L410.51,167.86 L410.78,167.33 L411.04,166.79 L411.30,166.25 L411.56,165.70 L411.81,165.16 L412.05,164.61 L412.29,164.06 L412.52,163.51 L412.75,162.95 L412.97,162.39 L413.19,161.83 L413.40,161.27 L413.61,160.71 L413.82,160.15 L414.03,159.59 L414.23,159.02 L414.43,158.46 L414.63,157.89 L414.82,157.32 L415.00,156.75 L415.18,156.18 L415.36,155.60 L415.53,155.03 L415.69,154.45 L415.84,153.87 L415.99,153.29 L416.13,152.71 L416.26,152.12 L416.39,151.53 L416.51,150.95 L416.62,150.36 L416.74,149.77 L416.85,149.18 L416.95,148.59 L417.06,148.00 L417.16,147.41 L417.26,146.82 L417.37,146.22 L417.47,145.63 L417.57,145.04 L417.67,144.45 L417.78,143.86 L417.88,143.27 L417.99,142.68 L418.10,142.09 L418.21,141.50 L418.33,140.91 L418.44,140.32 L418.56,139.73 L418.67,139.15 L418.79,138.56 L418.90,137.97 L419.02,137.38 L419.14,136.79 L419.25,136.20 L419.37,135.61 L419.48,135.02 L419.59,134.44 L419.70,133.85 L419.81,133.26 L419.92,132.67 L420.02,132.07 L420.12,131.48 L420.22,130.89 L420.32,130.30 L420.41,129.71 L420.50,129.11 L420.58,128.52 L420.67,127.93 L420.75,127.33 L420.83,126.74 L420.91,126.14 L420.99,125.55 L421.06,124.95 L421.14,124.36 L421.21,123.76 L421.28,123.17 L421.35,122.57 L421.43,121.97 L421.50,121.38 L421.57,120.78 L421.64,120.19 L421.71,119.59 L421.78,119.00 L421.85,118.40 L421.92,117.80 L422.00,117.21 L422.07,116.61 L422.15,116.02 L422.23,115.42 L422.30,114.83 L422.38,114.23 L422.47,113.64 L422.55,113.05 L422.63,112.45 L422.72,111.86 L422.80,111.26 L422.89,110.67 L422.98,110.08 L423.06,109.48 L423.15,108.89 L423.24,108.30 L423.33,107.70 L423.42,107.11 L423.51,106.52 L423.60,105.92 L423.69,105.33 L423.78,104.74 L423.87,104.15 L423.96,103.55 L424.05,102.96 L424.14,102.37 L424.23,101.77 L424.32,101.18 L424.41,100.59 L424.50,99.99 L424.59,99.40 L424.67,98.81 L424.76,98.21 L424.85,97.62 L424.93,97.02 L425.01,96.43 L425.10,95.84 L425.18,95.24 L425.27,94.65 L425.35,94.05 L425.43,93.46 L425.52,92.87 L425.60,92.27 L425.68,91.68 L425.77,91.08 L425.86,90.49 L425.94,89.90 L426.03,89.30 L426.12,88.71 L426.21,88.12 L426.30,87.53 L426.40,86.93 L426.49,86.34 L426.59,85.75 L426.69,85.16 L426.80,84.57 L426.90,83.98 L427.01,83.39 L427.12,82.80 L427.23,82.21 L427.35,81.62 L427.46,81.03 L427.58,80.44 L427.71,79.85 L427.83,79.27 L427.96,78.68 L428.09,78.10 L428.22,77.51 L428.36,76.93 L428.50,76.34 L428.64,75.76 L428.78,75.18 L428.92,74.59 L429.07,74.01 L429.22,73.43 L429.38,72.85 L429.53,72.27 L429.69,71.69 L429.85,71.12 L430.01,70.54 L430.18,69.96 L430.35,69.39 L430.53,68.82 L430.72,68.25 L430.92,67.68 L431.13,67.12 L431.35,66.56 L431.58,66.01 L431.82,65.46 L432.08,64.92 L432.39,64.40 L432.77,63.94 L433.28,63.65 L433.87,63.69 L434.41,63.96 L434.89,64.32 L435.34,64.72 L435.76,65.14 L436.16,65.59 L436.54,66.05 L436.90,66.53 L437.24,67.03 L437.57,67.53 L437.89,68.03 L438.21,68.55 L438.51,69.06 L438.81,69.58 L439.11,70.10 L439.40,70.63 L439.69,71.15 L439.96,71.68 L440.24,72.22 L440.51,72.75 L440.78,73.29 L441.05,73.82 L441.32,74.36 L441.58,74.90 L441.84,75.44 L442.10,75.98 L442.35,76.53 L442.61,77.07 L442.86,77.61 L443.12,78.16 L443.37,78.70 L443.62,79.25 L443.87,79.79 L444.12,80.34 L444.37,80.88 L444.62,81.43 L444.87,81.97 L445.12,82.52 L445.36,83.07 L445.61,83.61 L445.87,84.16 L446.12,84.70 L446.37,85.24 L446.62,85.79 L446.88,86.33 L447.13,86.87 L447.39,87.42 L447.65,87.96 L447.91,88.50 L448.17,89.04 L448.44,89.57 L448.71,90.11 L448.98,90.65 L449.25,91.18 L449.53,91.71 L449.81,92.24 L450.09,92.77 L450.37,93.30 L450.66,93.83 L450.95,94.35 L451.24,94.88 L451.54,95.40 L451.84,95.92 L452.14,96.44 L452.44,96.95 L452.75,97.47 L453.07,97.98 L453.38,98.49 L453.70,99.00 L454.02,99.51 L454.35,100.01 L454.68,100.51 L455.01,101.01 L455.35,101.51 L455.68,102.00 L456.03,102.49 L456.37,102.98 L456.72,103.47 L457.08,103.96 L457.44,104.44 L457.80,104.92 L458.16,105.39 L458.53,105.87 L458.90,106.34 L459.28,106.80 L459.66,107.27 L460.04,107.73 L460.43,108.19 L460.82,108.64 L461.21,109.10 L461.61,109.54 L462.01,109.99 L462.41,110.44 L462.82,110.88 L463.23,111.31 L463.64,111.75 L464.06,112.18 L464.48,112.61 L464.90,113.04 L465.33,113.46 L465.76,113.88 L466.19,114.30 L466.62,114.71 L467.06,115.12 L467.50,115.53 L467.94,115.94 L468.38,116.35 L468.82,116.75 L469.27,117.15 L469.72,117.55 L470.17,117.94 L470.62,118.34 L471.07,118.73 L471.53,119.12 L471.99,119.50 L472.45,119.89 L472.91,120.27 L473.38,120.65 L473.85,121.03 L474.31,121.40 L474.78,121.77 L475.26,122.14 L475.73,122.51 L476.21,122.87 L476.69,123.24 L477.17,123.59 L477.65,123.95 L478.14,124.30 L478.62,124.65 L479.11,125.00 L479.60,125.35 L480.09,125.69 L480.59,126.03 L481.08,126.37 L481.58,126.71 L482.08,127.04 L482.58,127.37 L483.09,127.69 L483.59,128.01 L484.10,128.33 L484.61,128.64 L485.13,128.95 L485.64,129.26 L486.16,129.57 L486.68,129.87 L487.20,130.17 L487.72,130.46 L488.24,130.76 L488.77,131.05 L489.29,131.34 L489.82,131.63 L490.34,131.91 L490.87,132.19 L491.41,132.47 L491.94,132.75 L492.47,133.02 L493.01,133.29 L493.54,133.56 L494.08,133.82 L494.62,134.08 L495.17,134.34 L495.71,134.59 L496.26,134.84 L496.80,135.09 L497.35,135.33 L497.90,135.57 L498.45,135.81 L499.00,136.05 L499.56,136.28 L500.11,136.51 L500.67,136.73 L501.22,136.96 L501.78,137.18 L502.34,137.39 L502.90,137.61 L503.46,137.82 L504.02,138.03 L504.59,138.24 L505.15,138.44 L505.72,138.65 L506.28,138.85 L506.85,139.04 L507.42,139.24 L507.98,139.43 L508.55,139.61 L509.12,139.80 L509.70,139.98 L510.27,140.16 L510.84,140.34 L511.41,140.52 L511.99,140.69 L512.56,140.86 L513.14,141.03 L513.71,141.20 L514.29,141.37 L514.87,141.53 L515.45,141.69 L516.03,141.85 L516.60,142.01 L517.18,142.16 L517.76,142.32 L518.34,142.47 L518.92,142.62 L519.50,142.77 L520.09,142.92 L520.67,143.06 L521.25,143.21 L521.83,143.35 L522.42,143.49 L523.00,143.63 L523.58,143.76 L524.17,143.90 L524.75,144.03 L525.34,144.17 L525.92,144.30 L526.51,144.43 L527.09,144.56 L527.68,144.69 L528.27,144.82 L528.85,144.95 L529.44,145.08 L530.02,145.20 L530.61,145.33 L531.20,145.46 L531.78,145.59 L532.37,145.72 L532.96,145.84 L533.54,145.97 L534.13,146.10 L534.71,146.22 L535.30,146.35 L535.89,146.47 L536.47,146.60 L537.06,146.72 L537.65,146.84 L538.24,146.97 L538.82,147.09 L539.41,147.21 L540.00,147.33 L540.59,147.46 L541.17,147.58 L541.76,147.70 L542.35,147.83 L542.93,147.96 L543.52,148.09 L544.10,148.21 L544.69,148.35 L545.28,148.48 L545.86,148.61 L546.44,148.74 L547.03,148.88 L547.61,149.01 L548.20,149.15 L548.78,149.28 L549.37,149.42 L549.95,149.56 L550.53,149.70 L551.12,149.84 L551.70,149.98 L552.28,150.12 L552.87,150.27 L553.45,150.41 L554.03,150.56 L554.61,150.71 L555.19,150.86 L555.77,151.01 L556.35,151.16 L556.93,151.32 L557.51,151.48 L558.09,151.64" fill="none" stroke="#ff8000" stroke-width="0.8"/>
<path d="M336.50,174.85 L339.15,177.50 L336.50,180.15 L333.85,177.50 Z" fill="#fff" stroke="#ff8000" stroke-width="1.1"/>
<path d="M338.77,174.85 L341.42,177.50 L338.77,180.15 L336.12,177.50 Z" fill="#fff" stroke="#ff8000" stroke-width="1.1"/>
<path d="M341.03,174.85 L343.68,177.50 L341.03,180.15 L338.38,177.50 Z" fill="#fff" stroke="#ff8000" stroke-width="1.1"/>
<path d="M343.30,174.85 L345.95,177.50 L343.30,180.15 L340.65,177.50 Z" fill="#fff" stroke="#ff8000" stroke-width="1.1"/>
<path d="M345.56,174.85 L348.21,177.50 L345.56,180.15 L342.91,177.50 Z" fill="#fff" stroke="#ff8000" stroke-width="1.1"/>
<path d="M347.83,174.85 L350.48,177.50 L347.83,180.15 L345.18,177.50 Z" fill="#fff" stroke="#ff8000" stroke-width="1.1"/>
<path d="M350.10,174.84 L352.75,177.49 L350.10,180.14 L347.45,177.49 Z" fill="#fff" stroke="#ff8000" stroke-width="1.1"/>
<path d="M352.36,174.84 L355.01,177.49 L352.36,180.14 L349.71,177.49 Z" fill="#fff" stroke="#ff8000" stroke-width="1.1"/>
<path d="M354.63,174.84 L357.28,177.49 L354.63,180.14 L351.98,177.49 Z" fill="#fff" stroke="#ff8000" stroke-width="1.1"/>
<path d="M356.89,174.84 L359.54,177.49 L356.89,180.14 L354.24,177.49 Z" fill="#fff" stroke="#ff8000" stroke-width="1.1"/>
<path d="M359.16,174.83 L361.81,177.48 L359.16,180.13 L356.51,177.48 Z" fill="#fff" stroke="#ff8000" stroke-width="1.1"/>
<path d="M361.43,174.83 L364.08,177.48 L361.43,180.13 L358.78,177.48 Z" fill="#fff" stroke="#ff8000" stroke-width="1.1"/>
<path d="M363.69,174.82 L366.34,177.47 L363.69,180.12 L361.04,177.47 Z" fill="#fff" stroke="#ff8000" stroke-width="1.1"/>
<path d="M365.96,174.82 L368.61,177.47 L365.96,180.12 L363.31,177.47 Z" fill="#fff" stroke="#ff8000" stroke-width="1.1"/>
<path d="M368.22,174.81 L370.87,177.46 L368.22,180.11 L365.57,177.46 Z" fill="#fff" stroke="#ff8000" stroke-width="1.1"/>
<path d="M370.49,174.81 L373.14,177.46 L370.49,180.11 L367.84,177.46 Z" fill="#fff" stroke="#ff8000" stroke-width="1.1"/>
<path d="M372.76,174.80 L375.41,177.45 L372.76,180.10 L370.11,177.45 Z" fill="#fff" stroke="#ff8000" stroke-width="1.1"/>
<path d="M375.02,174.79 L377.67,177.44 L375.02,180.09 L372.37,177.44 Z" fill="#fff" stroke="#ff8000" stroke-width="1.1"/>
<path d="M377.29,174.78 L379.94,177.43 L377.29,180.08 L374.64,177.43 Z" fill="#fff" stroke="#ff8000" stroke-width="1.1"/>
<path d="M379.55,174.77 L382.20,177.42 L379.55,180.07 L376.90,177.42 Z" fill="#fff" stroke="#ff8000" stroke-width="1.1"/>
<path d="M381.82,174.76 L384.47,177.41 L381.82,180.06 L379.17,177.41 Z" fill="#fff" stroke="#ff8000" stroke-width="1.1"/>
<path d="M384.09,174.75 L386.74,177.40 L384.09,180.05 L381.44,177.40 Z" fill="#fff" stroke="#ff8000" stroke-width="1.1"/>
<path d="M386.35,174.73 L389.00,177.38 L386.35,180.03 L383.70,177.38 Z" fill="#fff" stroke="#ff8000" stroke-width="1.1"/>
<path d="M388.62,174.66 L391.27,177.31 L388.62,179.96 L385.97,177.31 Z" fill="#fff" stroke="#ff8000" stroke-width="1.1"/>
<path d="M390.88,174.55 L393.53,177.20 L390.88,179.85 L388.23,177.20 Z" fill="#fff" stroke="#ff8000" stroke-width="1.1"/>
<path d="M393.15,174.41 L395.80,177.06 L393.15,179.71 L390.50,177.06 Z" fill="#fff" stroke="#ff8000" stroke-width="1.1"/>
<path d="M395.42,174.22 L398.07,176.87 L395.42,179.52 L392.77,176.87 Z" fill="#fff" stroke="#ff8000" stroke-width="1.1"/>
<path d="M397.68,173.96 L400.33,176.61 L397.68,179.26 L395.03,176.61 Z" fill="#fff" stroke="#ff8000" stroke-width="1.1"/>
<path d="M399.95,173.54 L402.60,176.19 L399.95,178.84 L397.30,176.19 Z" fill="#fff" stroke="#ff8000" stroke-width="1.1"/>
<path d="M402.21,172.92 L404.86,175.57 L402.21,178.22 L399.56,175.57 Z" fill="#fff" stroke="#ff8000" stroke-width="1.1"/>
<path d="M404.48,172.03 L407.13,174.68 L404.48,177.33 L401.83,174.68 Z" fill="#fff" stroke="#ff8000" stroke-width="1.1"/>
<path d="M406.75,170.45 L409.40,173.10 L406.75,175.75 L404.10,173.10 Z" fill="#fff" stroke="#ff8000" stroke-width="1.1"/>
<path d="M409.01,167.82 L411.66,170.47 L409.01,173.12 L406.36,170.47 Z" fill="#fff" stroke="#ff8000" stroke-width="1.1"/>
<path d="M411.28,163.65 L413.93,166.30 L411.28,168.95 L408.63,166.30 Z" fill="#fff" stroke="#ff8000" stroke-width="1.1"/>
<path d="M413.54,158.25 L416.19,160.90 L413.54,163.55 L410.89,160.90 Z" fill="#fff" stroke="#ff8000" stroke-width="1.1"/>
<path d="M415.81,151.34 L418.46,153.99 L415.81,156.64 L413.16,153.99 Z" fill="#fff" stroke="#ff8000" stroke-width="1.1"/>
<path d="M418.08,139.57 L420.73,142.22 L418.08,144.87 L415.43,142.22 Z" fill="#fff" stroke="#ff8000" stroke-width="1.1"/>
<path d="M420.34,127.48 L422.99,130.13 L420.34,132.78 L417.69,130.13 Z" fill="#fff" stroke="#ff8000" stroke-width="1.1"/>
<path d="M422.61,109.98 L425.26,112.63 L422.61,115.28 L419.96,112.63 Z" fill="#fff" stroke="#ff8000" stroke-width="1.1"/>
<path d="M424.87,94.77 L427.52,97.42 L424.87,100.07 L422.22,97.42 Z" fill="#fff" stroke="#ff8000" stroke-width="1.1"/>
<path d="M427.14,80.03 L429.79,82.68 L427.14,85.33 L424.49,82.68 Z" fill="#fff" stroke="#ff8000" stroke-width="1.1"/>
<path d="M429.41,70.09 L432.06,72.74 L429.41,75.39 L426.76,72.74 Z" fill="#fff" stroke="#ff8000" stroke-width="1.1"/>
<path d="M431.67,63.14 L434.32,65.79 L431.67,68.44 L429.02,65.79 Z" fill="#fff" stroke="#ff8000" stroke-width="1.1"/>
<path d="M433.94,61.06 L436.59,63.71 L433.94,66.36 L431.29,63.71 Z" fill="#fff" stroke="#ff8000" stroke-width="1.1"/>
<path d="M436.20,62.99 L438.85,65.64 L436.20,68.29 L433.55,65.64 Z" fill="#fff" stroke="#ff8000" stroke-width="1.1"/>
<path d="M438.47,66.34 L441.12,68.99 L438.47,71.64 L435.82,68.99 Z" fill="#fff" stroke="#ff8000" stroke-width="1.1"/>
<path d="M440.74,70.54 L443.39,73.19 L440.74,75.84 L438.09,73.19 Z" fill="#fff" stroke="#ff8000" stroke-width="1.1"/>
<path d="M443.00,75.26 L445.65,77.91 L443.00,80.56 L440.35,77.91 Z" fill="#fff" stroke="#ff8000" stroke-width="1.1"/>
<path d="M445.27,80.20 L447.92,82.85 L445.27,85.50 L442.62,82.85 Z" fill="#fff" stroke="#ff8000" stroke-width="1.1"/>
<path d="M447.53,85.07 L450.18,87.72 L447.53,90.37 L444.88,87.72 Z" fill="#fff" stroke="#ff8000" stroke-width="1.1"/>
<path d="M449.80,89.58 L452.45,92.23 L449.80,94.88 L447.15,92.23 Z" fill="#fff" stroke="#ff8000" stroke-width="1.1"/>
<path d="M452.07,93.66 L454.72,96.31 L452.07,98.96 L449.42,96.31 Z" fill="#fff" stroke="#ff8000" stroke-width="1.1"/>
<path d="M454.33,97.34 L456.98,99.99 L454.33,102.64 L451.68,99.99 Z" fill="#fff" stroke="#ff8000" stroke-width="1.1"/>
<path d="M456.60,100.64 L459.25,103.29 L456.60,105.94 L453.95,103.29 Z" fill="#fff" stroke="#ff8000" stroke-width="1.1"/>
<path d="M458.86,103.64 L461.51,106.29 L458.86,108.94 L456.21,106.29 Z" fill="#fff" stroke="#ff8000" stroke-width="1.1"/>
<path d="M461.13,106.35 L463.78,109.00 L461.13,111.65 L458.48,109.00 Z" fill="#fff" stroke="#ff8000" stroke-width="1.1"/>
<path d="M463.40,108.84 L466.05,111.49 L463.40,114.14 L460.75,111.49 Z" fill="#fff" stroke="#ff8000" stroke-width="1.1"/>
<path d="M465.66,111.14 L468.31,113.79 L465.66,116.44 L463.01,113.79 Z" fill="#fff" stroke="#ff8000" stroke-width="1.1"/>
<path d="M467.93,113.28 L470.58,115.93 L467.93,118.58 L465.28,115.93 Z" fill="#fff" stroke="#ff8000" stroke-width="1.1"/>
<path d="M470.19,115.32 L472.84,117.97 L470.19,120.62 L467.54,117.97 Z" fill="#fff" stroke="#ff8000" stroke-width="1.1"/>
<path d="M472.46,117.25 L475.11,119.90 L472.46,122.55 L469.81,119.90 Z" fill="#fff" stroke="#ff8000" stroke-width="1.1"/>
<path d="M474.73,119.08 L477.38,121.73 L474.73,124.38 L472.08,121.73 Z" fill="#fff" stroke="#ff8000" stroke-width="1.1"/>
<path d="M476.99,120.81 L479.64,123.46 L476.99,126.11 L474.34,123.46 Z" fill="#fff" stroke="#ff8000" stroke-width="1.1"/>
<path d="M479.26,122.46 L481.91,125.11 L479.26,127.76 L476.61,125.11 Z" fill="#fff" stroke="#ff8000" stroke-width="1.1"/>
<path d="M481.52,124.02 L484.17,126.67 L481.52,129.32 L478.87,126.67 Z" fill="#fff" stroke="#ff8000" stroke-width="1.1"/>
<path d="M483.79,125.49 L486.44,128.14 L483.79,130.79 L481.14,128.14 Z" fill="#fff" stroke="#ff8000" stroke-width="1.1"/>
<path d="M486.06,126.86 L488.71,129.51 L486.06,132.16 L483.41,129.51 Z" fill="#fff" stroke="#ff8000" stroke-width="1.1"/>
<path d="M488.32,128.15 L490.97,130.80 L488.32,133.45 L485.67,130.80 Z" fill="#fff" stroke="#ff8000" stroke-width="1.1"/>
<path d="M490.59,129.39 L493.24,132.04 L490.59,134.69 L487.94,132.04 Z" fill="#fff" stroke="#ff8000" stroke-width="1.1"/>
<path d="M492.85,130.57 L495.50,133.22 L492.85,135.87 L490.20,133.22 Z" fill="#fff" stroke="#ff8000" stroke-width="1.1"/>
<path d="M495.12,131.67 L497.77,134.32 L495.12,136.97 L492.47,134.32 Z" fill="#fff" stroke="#ff8000" stroke-width="1.1"/>
<path d="M497.39,132.70 L500.04,135.35 L497.39,138.00 L494.74,135.35 Z" fill="#fff" stroke="#ff8000" stroke-width="1.1"/>
<path d="M499.65,133.67 L502.30,136.32 L499.65,138.97 L497.00,136.32 Z" fill="#fff" stroke="#ff8000" stroke-width="1.1"/>
<path d="M501.92,134.58 L504.57,137.23 L501.92,139.88 L499.27,137.23 Z" fill="#fff" stroke="#ff8000" stroke-width="1.1"/>
<path d="M504.18,135.44 L506.83,138.09 L504.18,140.74 L501.53,138.09 Z" fill="#fff" stroke="#ff8000" stroke-width="1.1"/>
<path d="M506.45,136.25 L509.10,138.90 L506.45,141.55 L503.80,138.90 Z" fill="#fff" stroke="#ff8000" stroke-width="1.1"/>
<path d="M508.72,137.02 L511.37,139.67 L508.72,142.32 L506.07,139.67 Z" fill="#fff" stroke="#ff8000" stroke-width="1.1"/>
<path d="M510.98,137.74 L513.63,140.39 L510.98,143.04 L508.33,140.39 Z" fill="#fff" stroke="#ff8000" stroke-width="1.1"/>
<path d="M513.25,138.42 L515.90,141.07 L513.25,143.72 L510.60,141.07 Z" fill="#fff" stroke="#ff8000" stroke-width="1.1"/>
<path d="M515.51,139.06 L518.16,141.71 L515.51,144.36 L512.86,141.71 Z" fill="#fff" stroke="#ff8000" stroke-width="1.1"/>
<path d="M517.78,139.67 L520.43,142.32 L517.78,144.97 L515.13,142.32 Z" fill="#fff" stroke="#ff8000" stroke-width="1.1"/>
<path d="M520.05,140.26 L522.70,142.91 L520.05,145.56 L517.40,142.91 Z" fill="#fff" stroke="#ff8000" stroke-width="1.1"/>
<path d="M522.31,140.81 L524.96,143.46 L522.31,146.11 L519.66,143.46 Z" fill="#fff" stroke="#ff8000" stroke-width="1.1"/>
<path d="M524.58,141.34 L527.23,143.99 L524.58,146.64 L521.93,143.99 Z" fill="#fff" stroke="#ff8000" stroke-width="1.1"/>
<path d="M526.84,141.86 L529.49,144.51 L526.84,147.16 L524.19,144.51 Z" fill="#fff" stroke="#ff8000" stroke-width="1.1"/>
<path d="M529.11,142.35 L531.76,145.00 L529.11,147.65 L526.46,145.00 Z" fill="#fff" stroke="#ff8000" stroke-width="1.1"/>
<path d="M531.38,142.85 L534.03,145.50 L531.38,148.15 L528.73,145.50 Z" fill="#fff" stroke="#ff8000" stroke-width="1.1"/>
<path d="M533.64,143.34 L536.29,145.99 L533.64,148.64 L530.99,145.99 Z" fill="#fff" stroke="#ff8000" stroke-width="1.1"/>
<path d="M535.91,143.83 L538.56,146.48 L535.91,149.13 L533.26,146.48 Z" fill="#fff" stroke="#ff8000" stroke-width="1.1"/>
<path d="M538.17,144.30 L540.82,146.95 L538.17,149.60 L535.52,146.95 Z" fill="#fff" stroke="#ff8000" stroke-width="1.1"/>
<path d="M540.44,144.78 L543.09,147.43 L540.44,150.08 L537.79,147.43 Z" fill="#fff" stroke="#ff8000" stroke-width="1.1"/>
<path d="M542.71,145.26 L545.36,147.91 L542.71,150.56 L540.06,147.91 Z" fill="#fff" stroke="#ff8000" stroke-width="1.1"/>
<path d="M544.97,145.76 L547.62,148.41 L544.97,151.06 L542.32,148.41 Z" fill="#fff" stroke="#ff8000" stroke-width="1.1"/>
<path d="M547.24,146.28 L549.89,148.93 L547.24,151.58 L544.59,148.93 Z" fill="#fff" stroke="#ff8000" stroke-width="1.1"/>
<path d="M549.50,146.80 L552.15,149.45 L549.50,152.10 L546.85,149.45 Z" fill="#fff" stroke="#ff8000" stroke-width="1.1"/>
<path d="M551.77,147.35 L554.42,150.00 L551.77,152.65 L549.12,150.00 Z" fill="#fff" stroke="#ff8000" stroke-width="1.1"/>
<path d="M554.04,147.91 L556.69,150.56 L554.04,153.21 L551.39,150.56 Z" fill="#fff" stroke="#ff8000" stroke-width="1.1"/>
<path d="M556.30,148.50 L558.95,151.15 L556.30,153.80 L553.65,151.15 Z" fill="#fff" stroke="#ff8000" stroke-width="1.1"/>
<path d="M558.57,149.13 L561.22,151.78 L558.57,154.43 L555.92,151.78 Z" fill="#fff" stroke="#ff8000" stroke-width="1.1"/>
<path d="M336.08,177.50 L336.68,177.50 L337.28,177.50 L337.88,177.50 L338.48,177.50 L339.07,177.50 L339.67,177.50 L340.27,177.50 L340.87,177.50 L341.47,177.50 L342.07,177.50 L342.67,177.50 L343.27,177.50 L343.87,177.50 L344.47,177.50 L345.07,177.50 L345.67,177.50 L346.26,177.50 L346.86,177.50 L347.46,177.50 L348.06,177.50 L348.66,177.50 L349.26,177.50 L349.86,177.50 L350.46,177.50 L351.06,177.50 L351.66,177.50 L352.26,177.50 L352.86,177.50 L353.45,177.50 L354.05,177.50 L354.65,177.50 L355.25,177.50 L355.85,177.50 L356.45,177.50 L357.05,177.50 L357.65,177.50 L358.25,177.50 L358.85,177.50 L359.45,177.50 L360.05,177.50 L360.64,177.50 L361.24,177.49 L361.84,177.49 L362.44,177.49 L363.04,177.49 L363.64,177.49 L364.24,177.49 L364.84,177.49 L365.44,177.49 L366.04,177.49 L366.64,177.49 L367.24,177.49 L367.83,177.49 L368.43,177.49 L369.03,177.49 L369.63,177.49 L370.23,177.49 L370.83,177.49 L371.43,177.49 L372.03,177.49 L372.63,177.49 L373.23,177.49 L373.83,177.49 L374.43,177.49 L375.02,177.49 L375.62,177.49 L376.22,177.48 L376.82,177.48 L377.42,177.48 L378.02,177.48 L378.62,177.48 L379.22,177.48 L379.82,177.48 L380.42,177.48 L381.02,177.48 L381.61,177.48 L382.21,177.48 L382.81,177.48 L383.41,177.48 L384.01,177.48 L384.61,177.48 L385.21,177.48 L385.81,177.47 L386.41,177.47 L387.01,177.47 L387.61,177.47 L388.21,177.47 L388.80,177.47 L389.40,177.47 L390.00,177.47 L390.60,177.47 L391.20,177.47 L391.80,177.47 L392.40,177.47 L393.00,177.46 L393.60,177.46 L394.20,177.46 L394.80,177.46 L395.40,177.46 L395.99,177.46 L396.59,177.46 L397.19,177.46 L397.79,177.46 L398.39,177.46 L398.99,177.45 L399.59,177.45 L400.19,177.45 L400.79,177.45 L401.39,177.45 L401.99,177.45 L402.59,177.45 L403.18,177.45 L403.78,177.45 L404.38,177.44 L404.98,177.44 L405.58,177.44 L406.18,177.44 L406.78,177.44 L407.38,177.44 L407.98,177.44 L408.58,177.44 L409.18,177.43 L409.78,177.43 L410.37,177.43 L410.97,177.43 L411.57,177.43 L412.17,177.43 L412.77,177.43 L413.37,177.42 L413.97,177.42 L414.57,177.42 L415.17,177.42 L415.77,177.42 L416.37,177.42 L416.97,177.41 L417.56,177.41 L418.16,177.41 L418.76,177.41 L419.36,177.41 L419.96,177.41 L420.56,177.40 L421.16,177.40 L421.76,177.40 L422.36,177.40 L422.96,177.39 L423.56,177.38 L424.16,177.37 L424.75,177.36 L425.35,177.34 L425.95,177.33 L426.55,177.31 L427.15,177.28 L427.75,177.25 L428.35,177.21 L428.94,177.17 L429.54,177.11 L430.14,177.06 L430.73,176.99 L431.33,176.92 L431.92,176.85 L432.52,176.77 L433.11,176.68 L433.70,176.58 L434.29,176.47 L434.88,176.35 L435.46,176.22 L436.04,176.08 L436.62,175.92 L437.19,175.74 L437.76,175.55 L438.32,175.33 L438.87,175.10 L439.41,174.84 L439.94,174.57 L440.46,174.27 L440.97,173.95 L441.45,173.60 L441.92,173.22 L442.37,172.82 L442.80,172.41 L443.22,171.98 L443.64,171.55 L444.04,171.11 L444.45,170.67 L444.85,170.22 L445.25,169.78 L445.65,169.33 L446.05,168.89 L446.45,168.44 L446.84,167.99 L447.23,167.53 L447.62,167.08 L448.01,166.62 L448.39,166.16 L448.78,165.70 L449.16,165.24 L449.54,164.78 L449.93,164.32 L450.31,163.85 L450.69,163.39 L451.07,162.93 L451.44,162.46 L451.82,162.00 L452.20,161.53 L452.59,161.07 L452.97,160.61 L453.36,160.16 L453.75,159.70 L454.14,159.25 L454.54,158.80 L454.93,158.35 L455.33,157.91 L455.74,157.46 L456.14,157.02 L456.55,156.58 L456.97,156.15 L457.39,155.73 L457.82,155.31 L458.26,154.90 L458.71,154.50 L459.16,154.11 L459.62,153.73 L460.08,153.35 L460.56,152.98 L461.03,152.62 L461.52,152.27 L462.02,151.93 L462.52,151.61 L463.03,151.29 L463.55,150.99 L464.07,150.70 L464.60,150.42 L465.14,150.16 L465.68,149.90 L466.23,149.66 L466.79,149.44 L467.35,149.23 L467.91,149.03 L468.48,148.84 L469.05,148.67 L469.63,148.50 L470.21,148.35 L470.79,148.20 L471.37,148.07 L471.96,147.95 L472.55,147.84 L473.14,147.74 L473.73,147.64 L474.33,147.56 L474.92,147.48 L475.51,147.41 L476.11,147.35 L476.71,147.29 L477.30,147.24 L477.90,147.19 L478.50,147.14 L479.10,147.10 L479.69,147.07 L480.29,147.05 L480.89,147.03 L481.49,147.02 L482.09,147.02 L482.69,147.02 L483.29,147.03 L483.89,147.03 L484.49,147.04 L485.09,147.05 L485.69,147.06 L486.28,147.08 L486.88,147.09 L487.48,147.11 L488.08,147.12 L488.68,147.14 L489.28,147.17 L489.88,147.19 L490.48,147.23 L491.07,147.26 L491.67,147.31 L492.27,147.36 L492.86,147.42 L493.46,147.48 L494.06,147.55 L494.65,147.62 L495.24,147.70 L495.84,147.77 L496.43,147.85 L497.03,147.93 L497.62,148.01 L498.21,148.09 L498.81,148.18 L499.40,148.26 L499.99,148.34 L500.59,148.43 L501.18,148.52 L501.77,148.62 L502.36,148.71 L502.95,148.81 L503.54,148.92 L504.13,149.02 L504.72,149.13 L505.31,149.24 L505.90,149.35 L506.49,149.46 L507.08,149.57 L507.67,149.68 L508.25,149.79 L508.84,149.91 L509.43,150.02 L510.02,150.14 L510.61,150.25 L511.20,150.37 L511.78,150.49 L512.37,150.61 L512.96,150.73 L513.54,150.85 L514.13,150.98 L514.71,151.10 L515.30,151.23 L515.89,151.35 L516.47,151.48 L517.06,151.60 L517.64,151.73 L518.23,151.86 L518.82,151.98 L519.40,152.11 L519.99,152.23 L520.57,152.35 L521.16,152.48 L521.75,152.60 L522.33,152.72 L522.92,152.84 L523.51,152.96 L524.09,153.08 L524.68,153.21 L525.27,153.33 L525.85,153.45 L526.44,153.57 L527.03,153.69 L527.61,153.82 L528.20,153.93 L528.79,154.05 L529.38,154.17 L529.96,154.28 L530.55,154.40 L531.14,154.51 L531.73,154.62 L532.32,154.72 L532.91,154.82 L533.50,154.93 L534.09,155.03 L534.68,155.13 L535.27,155.23 L535.86,155.33 L536.45,155.43 L537.05,155.53 L537.64,155.63 L538.23,155.72 L538.82,155.82 L539.41,155.91 L540.00,155.99 L540.60,156.08 L541.19,156.16 L541.79,156.23 L542.38,156.30 L542.98,156.36 L543.57,156.42 L544.17,156.47 L544.77,156.52 L545.37,156.56 L545.96,156.60 L546.56,156.64 L547.16,156.67 L547.76,156.71 L548.36,156.74 L548.95,156.77 L549.55,156.80 L550.15,156.83 L550.75,156.86 L551.35,156.88 L551.95,156.90 L552.55,156.93 L553.15,156.94 L553.74,156.96 L554.34,156.97 L554.94,156.98 L555.54,156.98 L556.14,156.98 L556.74,156.97 L557.34,156.96 L557.94,156.93" fill="none" stroke="#000" stroke-width="0.8"/>
<circle cx="335.90" cy="177.50" r="2.3" fill="#000"/>
<circle cx="340.43" cy="177.50" r="2.3" fill="#000"/>
<circle cx="344.96" cy="177.50" r="2.3" fill="#000"/>
<circle cx="349.50" cy="177.50" r="2.3" fill="#000"/>
<circle cx="354.03" cy="177.50" r="2.3" fill="#000"/>
<circle cx="358.56" cy="177.50" r="2.3" fill="#000"/>
<circle cx="363.09" cy="177.49" r="2.3" fill="#000"/>
<circle cx="367.62" cy="177.49" r="2.3" fill="#000"/>
<circle cx="372.16" cy="177.49" r="2.3" fill="#000"/>
<circle cx="376.69" cy="177.48" r="2.3" fill="#000"/>
<circle cx="381.22" cy="177.48" r="2.3" fill="#000"/>
<circle cx="385.75" cy="177.47" r="2.3" fill="#000"/>
<circle cx="390.28" cy="177.47" r="2.3" fill="#000"/>
<circle cx="394.82" cy="177.46" r="2.3" fill="#000"/>
<circle cx="399.35" cy="177.45" r="2.3" fill="#000"/>
<circle cx="403.88" cy="177.45" r="2.3" fill="#000"/>
<circle cx="408.41" cy="177.44" r="2.3" fill="#000"/>
<circle cx="412.94" cy="177.42" r="2.3" fill="#000"/>
<circle cx="417.48" cy="177.41" r="2.3" fill="#000"/>
<circle cx="422.01" cy="177.40" r="2.3" fill="#000"/>
<circle cx="426.54" cy="177.31" r="2.3" fill="#000"/>
<circle cx="431.07" cy="176.95" r="2.3" fill="#000"/>
<circle cx="435.60" cy="176.19" r="2.3" fill="#000"/>
<circle cx="440.14" cy="174.46" r="2.3" fill="#000"/>
<circle cx="444.67" cy="170.42" r="2.3" fill="#000"/>
<circle cx="449.20" cy="165.19" r="2.3" fill="#000"/>
<circle cx="453.73" cy="159.72" r="2.3" fill="#000"/>
<circle cx="458.26" cy="154.90" r="2.3" fill="#000"/>
<circle cx="462.80" cy="151.44" r="2.3" fill="#000"/>
<circle cx="467.33" cy="149.23" r="2.3" fill="#000"/>
<circle cx="471.86" cy="147.97" r="2.3" fill="#000"/>
<circle cx="476.39" cy="147.32" r="2.3" fill="#000"/>
<circle cx="480.92" cy="147.03" r="2.3" fill="#000"/>
<circle cx="485.46" cy="147.06" r="2.3" fill="#000"/>
<circle cx="489.99" cy="147.20" r="2.3" fill="#000"/>
<circle cx="494.52" cy="147.61" r="2.3" fill="#000"/>
<circle cx="499.05" cy="148.21" r="2.3" fill="#000"/>
<circle cx="503.58" cy="148.92" r="2.3" fill="#000"/>
<circle cx="508.12" cy="149.77" r="2.3" fill="#000"/>
<circle cx="512.65" cy="150.67" r="2.3" fill="#000"/>
<circle cx="517.18" cy="151.63" r="2.3" fill="#000"/>
<circle cx="521.71" cy="152.59" r="2.3" fill="#000"/>
<circle cx="526.24" cy="153.53" r="2.3" fill="#000"/>
<circle cx="530.78" cy="154.44" r="2.3" fill="#000"/>
<circle cx="535.31" cy="155.23" r="2.3" fill="#000"/>
<circle cx="539.84" cy="155.97" r="2.3" fill="#000"/>
<circle cx="544.37" cy="156.49" r="2.3" fill="#000"/>
<circle cx="548.90" cy="156.77" r="2.3" fill="#000"/>
<circle cx="553.44" cy="156.95" r="2.3" fill="#000"/>
<circle cx="557.97" cy="156.93" r="2.3" fill="#000"/></g>
<g clip-path="url(#cpc)"><path d="M55.88,337.80 L56.48,337.80 L57.08,337.80 L57.68,337.80 L58.28,337.80 L58.88,337.80 L59.48,337.80 L60.07,337.80 L60.67,337.80 L61.27,337.80 L61.87,337.80 L62.47,337.80 L63.07,337.80 L63.67,337.80 L64.27,337.80 L64.87,337.80 L65.47,337.80 L66.07,337.80 L66.66,337.80 L67.26,337.80 L67.86,337.80 L68.46,337.80 L69.06,337.80 L69.66,337.80 L70.26,337.80 L70.86,337.80 L71.46,337.80 L72.06,337.80 L72.66,337.80 L73.25,337.80 L73.85,337.80 L74.45,337.80 L75.05,337.80 L75.65,337.80 L76.25,337.80 L76.85,337.80 L77.45,337.80 L78.05,337.80 L78.65,337.80 L79.25,337.80 L79.84,337.80 L80.44,337.80 L81.04,337.80 L81.64,337.80 L82.24,337.81 L82.84,337.82 L83.44,337.84 L84.04,337.87 L84.63,337.92 L85.23,337.99 L85.82,338.06 L86.42,338.15 L87.01,338.24 L87.60,338.34 L88.19,338.45 L88.78,338.57 L89.36,338.70 L89.94,338.83 L90.52,338.98 L91.10,339.15 L91.67,339.32 L92.24,339.51 L92.81,339.70 L93.37,339.91 L93.93,340.13 L94.48,340.36 L95.03,340.61 L95.57,340.86 L96.11,341.13 L96.63,341.41 L97.16,341.71 L97.67,342.02 L98.17,342.34 L98.67,342.68 L99.15,343.04 L99.61,343.41 L100.07,343.81 L100.51,344.21 L100.93,344.63 L101.35,345.07 L101.75,345.51 L102.14,345.96 L102.53,346.42 L102.90,346.89 L103.27,347.36 L103.62,347.84 L103.98,348.33 L104.32,348.82 L104.66,349.31 L105.00,349.81 L105.33,350.31 L105.65,350.81 L105.96,351.32 L106.27,351.84 L106.58,352.35 L106.88,352.87 L107.17,353.40 L107.45,353.92 L107.73,354.45 L108.00,354.99 L108.27,355.52 L108.54,356.06 L108.80,356.60 L109.05,357.14 L109.30,357.69 L109.55,358.23 L109.79,358.78 L110.03,359.33 L110.26,359.88 L110.50,360.43 L110.72,360.99 L110.95,361.54 L111.17,362.10 L111.38,362.66 L111.59,363.22 L111.80,363.78 L112.00,364.35 L112.20,364.91 L112.40,365.48 L112.59,366.05 L112.78,366.61 L112.96,367.18 L113.15,367.75 L113.33,368.32 L113.51,368.90 L113.69,369.47 L113.87,370.04 L114.05,370.61 L114.23,371.18 L114.41,371.75 L114.59,372.32 L114.78,372.89 L114.96,373.46 L115.14,374.03 L115.33,374.60 L115.51,375.18 L115.68,375.75 L115.85,376.32 L116.02,376.90 L116.18,377.47 L116.34,378.05 L116.51,378.63 L116.67,379.20 L116.84,379.78 L117.02,380.35 L117.20,380.92 L117.39,381.49 L117.59,382.05 L117.81,382.61 L118.04,383.16 L118.29,383.71 L118.56,384.24 L118.84,384.77 L119.15,385.29 L119.47,385.79 L119.81,386.28 L120.19,386.75 L120.61,387.18 L121.09,387.53 L121.64,387.76 L122.23,387.83 L122.83,387.75 L123.40,387.57 L123.94,387.32 L124.46,387.02 L124.94,386.66 L125.38,386.26 L125.78,385.81 L126.12,385.32 L126.43,384.80 L126.70,384.27 L126.95,383.72 L127.18,383.17 L127.39,382.61 L127.59,382.05 L127.78,381.48 L127.96,380.91 L128.13,380.33 L128.30,379.76 L128.47,379.18 L128.63,378.60 L128.79,378.03 L128.96,377.45 L129.12,376.88 L129.29,376.30 L129.47,375.73 L129.64,375.16 L129.82,374.58 L130.00,374.01 L130.17,373.44 L130.35,372.87 L130.52,372.29 L130.69,371.72 L130.85,371.14 L131.02,370.56 L131.18,369.99 L131.34,369.41 L131.50,368.83 L131.66,368.26 L131.81,367.68 L131.96,367.10 L132.12,366.52 L132.27,365.94 L132.41,365.36 L132.56,364.78 L132.71,364.19 L132.85,363.61 L132.99,363.03 L133.13,362.45 L133.27,361.87 L133.41,361.28 L133.55,360.70 L133.69,360.12 L133.82,359.53 L133.95,358.95 L134.09,358.37 L134.22,357.78 L134.35,357.20 L134.48,356.61 L134.60,356.02 L134.73,355.44 L134.85,354.85 L134.97,354.27 L135.09,353.68 L135.21,353.09 L135.33,352.51 L135.45,351.92 L135.57,351.33 L135.68,350.74 L135.80,350.16 L135.91,349.57 L136.03,348.98 L136.14,348.39 L136.25,347.80 L136.37,347.21 L136.48,346.63 L136.59,346.04 L136.70,345.45 L136.81,344.86 L136.92,344.27 L137.03,343.68 L137.14,343.09 L137.25,342.50 L137.36,341.91 L137.47,341.33 L137.58,340.74 L137.69,340.15 L137.79,339.56 L137.90,338.97 L138.00,338.38 L138.11,337.79 L138.21,337.20 L138.32,336.61 L138.42,336.02 L138.52,335.43 L138.62,334.84 L138.73,334.25 L138.83,333.66 L138.93,333.07 L139.03,332.48 L139.13,331.89 L139.23,331.29 L139.34,330.70 L139.44,330.11 L139.54,329.52 L139.64,328.93 L139.75,328.34 L139.85,327.75 L139.95,327.16 L140.06,326.57 L140.16,325.98 L140.27,325.39 L140.37,324.80 L140.48,324.21 L140.59,323.63 L140.69,323.04 L140.80,322.45 L140.91,321.86 L141.02,321.27 L141.12,320.68 L141.23,320.09 L141.34,319.50 L141.45,318.91 L141.56,318.32 L141.67,317.73 L141.78,317.14 L141.88,316.55 L141.99,315.96 L142.10,315.38 L142.21,314.79 L142.32,314.20 L142.44,313.61 L142.55,313.02 L142.66,312.43 L142.77,311.84 L142.88,311.26 L143.00,310.67 L143.11,310.08 L143.23,309.49 L143.34,308.90 L143.46,308.32 L143.58,307.73 L143.69,307.14 L143.81,306.55 L143.93,305.97 L144.04,305.38 L144.16,304.79 L144.28,304.20 L144.39,303.62 L144.51,303.03 L144.63,302.44 L144.74,301.85 L144.86,301.26 L144.98,300.68 L145.09,300.09 L145.21,299.50 L145.33,298.91 L145.45,298.33 L145.57,297.74 L145.69,297.15 L145.81,296.57 L145.94,295.98 L146.06,295.40 L146.19,294.81 L146.32,294.23 L146.45,293.64 L146.58,293.06 L146.72,292.47 L146.85,291.89 L146.99,291.31 L147.13,290.72 L147.27,290.14 L147.42,289.56 L147.57,288.98 L147.72,288.40 L147.87,287.82 L148.03,287.24 L148.19,286.66 L148.35,286.09 L148.51,285.51 L148.67,284.94 L148.84,284.36 L149.02,283.79 L149.20,283.22 L149.38,282.65 L149.57,282.08 L149.77,281.51 L149.98,280.95 L150.20,280.39 L150.42,279.84 L150.66,279.29 L150.90,278.74 L151.15,278.19 L151.40,277.65 L151.67,277.12 L151.96,276.59 L152.26,276.08 L152.61,275.58 L152.99,275.13 L153.44,274.73 L153.95,274.41 L154.49,274.17 L155.07,273.99 L155.65,273.86 L156.24,273.77 L156.84,273.73 L157.44,273.73 L158.03,273.80 L158.62,273.92 L159.19,274.10 L159.75,274.32 L160.29,274.57 L160.83,274.84 L161.35,275.12 L161.87,275.43 L162.38,275.75 L162.87,276.08 L163.36,276.43 L163.85,276.78 L164.34,277.13 L164.83,277.47 L165.32,277.81 L165.82,278.15 L166.31,278.48 L166.81,278.81 L167.32,279.14 L167.82,279.47 L168.32,279.79 L168.82,280.12 L169.32,280.45 L169.82,280.78 L170.32,281.11 L170.82,281.44 L171.32,281.78 L171.81,282.11 L172.31,282.45 L172.80,282.79 L173.30,283.13 L173.79,283.47 L174.28,283.81 L174.78,284.15 L175.27,284.49 L175.76,284.83 L176.26,285.16 L176.75,285.50 L177.25,285.84 L177.74,286.18 L178.24,286.51 L178.73,286.85 L179.23,287.19 L179.73,287.52 L180.23,287.85 L180.73,288.18 L181.23,288.51 L181.73,288.83 L182.24,289.16 L182.74,289.48 L183.25,289.80 L183.75,290.12 L184.26,290.44 L184.77,290.76 L185.28,291.08 L185.78,291.39 L186.30,291.71 L186.81,292.02 L187.32,292.33 L187.83,292.64 L188.35,292.94 L188.86,293.25 L189.38,293.55 L189.90,293.85 L190.42,294.15 L190.94,294.45 L191.46,294.74 L191.98,295.04 L192.50,295.33 L193.03,295.62 L193.55,295.91 L194.08,296.19 L194.61,296.48 L195.14,296.76 L195.67,297.04 L196.20,297.32 L196.73,297.59 L197.26,297.86 L197.80,298.13 L198.34,298.40 L198.87,298.66 L199.41,298.92 L199.95,299.18 L200.49,299.44 L201.03,299.70 L201.58,299.95 L202.12,300.21 L202.66,300.46 L203.21,300.71 L203.75,300.95 L204.30,301.20 L204.85,301.44 L205.39,301.68 L205.94,301.92 L206.49,302.16 L207.05,302.40 L207.60,302.63 L208.15,302.86 L208.70,303.09 L209.26,303.31 L209.82,303.54 L210.37,303.76 L210.93,303.97 L211.49,304.19 L212.05,304.40 L212.61,304.61 L213.17,304.82 L213.74,305.02 L214.30,305.22 L214.87,305.42 L215.43,305.61 L216.00,305.80 L216.57,305.99 L217.14,306.18 L217.71,306.37 L218.28,306.55 L218.85,306.73 L219.42,306.91 L220.00,307.08 L220.57,307.25 L221.15,307.42 L221.72,307.59 L222.30,307.75 L222.87,307.91 L223.45,308.07 L224.03,308.23 L224.61,308.38 L225.19,308.54 L225.77,308.69 L226.35,308.83 L226.93,308.98 L227.51,309.12 L228.09,309.26 L228.68,309.40 L229.26,309.54 L229.84,309.67 L230.43,309.80 L231.01,309.93 L231.60,310.06 L232.18,310.19 L232.77,310.31 L233.36,310.43 L233.94,310.55 L234.53,310.67 L235.12,310.79 L235.71,310.90 L236.30,311.01 L236.88,311.12 L237.47,311.23 L238.06,311.34 L238.65,311.44 L239.24,311.55 L239.83,311.65 L240.42,311.75 L241.01,311.85 L241.61,311.95 L242.20,312.04 L242.79,312.14 L243.38,312.23 L243.97,312.32 L244.57,312.41 L245.16,312.50 L245.75,312.59 L246.34,312.68 L246.94,312.76 L247.53,312.85 L248.12,312.93 L248.71,313.02 L249.31,313.10 L249.90,313.18 L250.50,313.26 L251.09,313.34 L251.68,313.42 L252.28,313.49 L252.87,313.57 L253.47,313.65 L254.06,313.72 L254.65,313.80 L255.25,313.87 L255.84,313.95 L256.44,314.02 L257.03,314.09 L257.63,314.16 L258.22,314.24 L258.82,314.31 L259.41,314.38 L260.01,314.45 L260.60,314.52 L261.20,314.59 L261.79,314.66 L262.39,314.73 L262.98,314.80 L263.58,314.87 L264.17,314.94 L264.77,315.02 L265.36,315.09 L265.96,315.16 L266.55,315.23 L267.14,315.30 L267.74,315.38 L268.33,315.45 L268.93,315.52 L269.52,315.59 L270.12,315.67 L270.71,315.74 L271.31,315.82 L271.90,315.89 L272.50,315.97 L273.09,316.04 L273.68,316.12 L274.28,316.20 L274.87,316.28 L275.47,316.36 L276.06,316.44 L276.65,316.52 L277.25,316.60 L277.84,316.68 L278.43,316.77 L279.03,316.85" fill="none" stroke="#00f" stroke-width="1.9" stroke-linejoin="round" stroke-linecap="butt"/>
<path d="M55.89,337.80 L56.48,337.80 L57.08,337.80 L57.68,337.80 L58.28,337.80 L58.88,337.80 L59.48,337.80 L60.08,337.80 L60.68,337.80 L61.28,337.80 L61.88,337.80 L62.48,337.80 L63.08,337.80 L63.68,337.80 L64.28,337.80 L64.88,337.80 L65.48,337.80 L66.08,337.80 L66.68,337.80 L67.28,337.80 L67.88,337.80 L68.48,337.80 L69.08,337.80 L69.68,337.80 L70.28,337.80 L70.88,337.80 L71.48,337.80 L72.07,337.80 L72.67,337.80 L73.27,337.80 L73.87,337.80 L74.47,337.80 L75.07,337.80 L75.67,337.80 L76.27,337.80 L76.87,337.80 L77.47,337.80 L78.07,337.80 L78.67,337.80 L79.27,337.80 L79.87,337.80 L80.47,337.80 L81.07,337.80 L81.67,337.80 L82.27,337.81 L82.87,337.82 L83.47,337.85 L84.06,337.89 L84.66,337.95 L85.26,338.03 L85.85,338.13 L86.44,338.24 L87.02,338.37 L87.60,338.52 L88.18,338.67 L88.76,338.84 L89.33,339.01 L89.90,339.21 L90.46,339.42 L91.01,339.66 L91.55,339.92 L92.07,340.21 L92.59,340.52 L93.09,340.85 L93.58,341.19 L94.06,341.55 L94.53,341.92 L94.99,342.31 L95.44,342.70 L95.88,343.11 L96.31,343.53 L96.72,343.97 L97.12,344.41 L97.51,344.87 L97.88,345.34 L98.25,345.82 L98.60,346.30 L98.95,346.78 L99.30,347.28 L99.63,347.77 L99.97,348.27 L100.30,348.77 L100.63,349.27 L100.96,349.77 L101.29,350.27 L101.62,350.77 L101.95,351.27 L102.28,351.77 L102.61,352.28 L102.93,352.78 L103.26,353.28 L103.57,353.79 L103.89,354.30 L104.20,354.81 L104.52,355.33 L104.83,355.84 L105.14,356.35 L105.45,356.86 L105.76,357.38 L106.07,357.89 L106.39,358.40 L106.71,358.91 L107.02,359.41 L107.34,359.92 L107.65,360.43 L107.96,360.95 L108.25,361.47 L108.54,362.00 L108.82,362.53 L109.09,363.06 L109.37,363.60 L109.65,364.13 L109.93,364.66 L110.22,365.18 L110.53,365.69 L110.86,366.19 L111.23,366.67 L111.64,367.10 L112.11,367.47 L112.65,367.73 L113.24,367.83 L113.84,367.80 L114.43,367.68 L115.00,367.51 L115.57,367.30 L116.12,367.07 L116.66,366.82 L117.20,366.55 L117.73,366.27 L118.24,365.96 L118.75,365.64 L119.24,365.29 L119.70,364.91 L120.16,364.52 L120.59,364.10 L121.00,363.67 L121.40,363.23 L121.79,362.77 L122.17,362.30 L122.54,361.83 L122.90,361.35 L123.25,360.86 L123.60,360.38 L123.95,359.89 L124.29,359.40 L124.64,358.91 L124.98,358.41 L125.32,357.92 L125.66,357.43 L126.00,356.93 L126.33,356.43 L126.66,355.93 L126.98,355.43 L127.30,354.92 L127.62,354.41 L127.93,353.90 L128.24,353.38 L128.54,352.87 L128.84,352.35 L129.14,351.83 L129.44,351.31 L129.73,350.78 L130.02,350.26 L130.30,349.73 L130.59,349.20 L130.87,348.67 L131.15,348.14 L131.43,347.61 L131.71,347.08 L131.98,346.55 L132.26,346.02 L132.53,345.48 L132.80,344.95 L133.07,344.41 L133.34,343.88 L133.61,343.34 L133.87,342.80 L134.13,342.26 L134.39,341.72 L134.65,341.18 L134.90,340.63 L135.15,340.09 L135.40,339.54 L135.64,338.99 L135.88,338.44 L136.11,337.89 L136.33,337.34 L136.56,336.78 L136.77,336.22 L136.98,335.66 L137.19,335.09 L137.39,334.53 L137.59,333.96 L137.78,333.39 L137.96,332.82 L138.15,332.25 L138.32,331.68 L138.50,331.11 L138.67,330.53 L138.84,329.96 L139.01,329.38 L139.17,328.81 L139.34,328.23 L139.50,327.65 L139.65,327.07 L139.81,326.49 L139.97,325.91 L140.12,325.33 L140.27,324.75 L140.42,324.17 L140.58,323.59 L140.73,323.01 L140.88,322.43 L141.03,321.85 L141.18,321.27 L141.34,320.69 L141.49,320.12 L141.64,319.54 L141.80,318.96 L141.95,318.38 L142.11,317.80 L142.26,317.22 L142.42,316.64 L142.57,316.06 L142.72,315.48 L142.87,314.90 L143.02,314.32 L143.17,313.74 L143.32,313.16 L143.47,312.58 L143.62,311.99 L143.76,311.41 L143.91,310.83 L144.05,310.25 L144.19,309.67 L144.33,309.08 L144.47,308.50 L144.60,307.91 L144.73,307.33 L144.86,306.74 L144.99,306.16 L145.12,305.57 L145.24,304.99 L145.37,304.40 L145.49,303.81 L145.61,303.22 L145.72,302.64 L145.84,302.05 L145.96,301.46 L146.07,300.87 L146.18,300.28 L146.30,299.69 L146.41,299.10 L146.52,298.51 L146.63,297.93 L146.74,297.34 L146.85,296.75 L146.96,296.16 L147.06,295.57 L147.17,294.98 L147.28,294.39 L147.39,293.80 L147.50,293.21 L147.61,292.62 L147.72,292.03 L147.83,291.44 L147.94,290.85 L148.05,290.26 L148.17,289.67 L148.28,289.08 L148.39,288.49 L148.50,287.91 L148.61,287.32 L148.72,286.73 L148.83,286.14 L148.94,285.55 L149.05,284.96 L149.16,284.37 L149.26,283.78 L149.37,283.19 L149.48,282.60 L149.59,282.01 L149.70,281.42 L149.81,280.83 L149.92,280.24 L150.03,279.65 L150.14,279.06 L150.25,278.47 L150.37,277.88 L150.48,277.30 L150.60,276.71 L150.72,276.12 L150.84,275.53 L150.97,274.95 L151.09,274.36 L151.22,273.77 L151.35,273.19 L151.48,272.60 L151.61,272.02 L151.74,271.43 L151.87,270.85 L152.00,270.26 L152.14,269.68 L152.27,269.09 L152.40,268.51 L152.54,267.93 L152.68,267.34 L152.82,266.76 L152.97,266.18 L153.12,265.60 L153.28,265.02 L153.44,264.44 L153.61,263.87 L153.79,263.30 L153.98,262.73 L154.18,262.16 L154.38,261.60 L154.60,261.04 L154.83,260.49 L155.07,259.94 L155.33,259.39 L155.60,258.86 L155.89,258.33 L156.20,257.82 L156.54,257.33 L156.92,256.86 L157.34,256.44 L157.82,256.08 L158.34,255.78 L158.90,255.55 L159.47,255.38 L160.06,255.25 L160.65,255.17 L161.25,255.15 L161.85,255.21 L162.43,255.33 L163.00,255.53 L163.54,255.78 L164.07,256.06 L164.58,256.37 L165.09,256.70 L165.58,257.04 L166.06,257.40 L166.52,257.78 L166.98,258.17 L167.44,258.56 L167.89,258.95 L168.34,259.35 L168.79,259.75 L169.24,260.14 L169.69,260.54 L170.14,260.93 L170.59,261.33 L171.03,261.73 L171.48,262.13 L171.93,262.53 L172.37,262.93 L172.82,263.34 L173.26,263.74 L173.70,264.14 L174.15,264.55 L174.59,264.95 L175.03,265.36 L175.47,265.76 L175.91,266.17 L176.35,266.58 L176.79,266.99 L177.23,267.40 L177.66,267.81 L178.10,268.22 L178.53,268.63 L178.97,269.05 L179.40,269.46 L179.84,269.87 L180.28,270.28 L180.72,270.69 L181.16,271.09 L181.60,271.50 L182.05,271.90 L182.49,272.30 L182.93,272.71 L183.38,273.11 L183.82,273.51 L184.27,273.91 L184.72,274.31 L185.17,274.71 L185.62,275.10 L186.07,275.50 L186.52,275.89 L186.98,276.28 L187.43,276.67 L187.89,277.05 L188.35,277.44 L188.82,277.82 L189.28,278.19 L189.75,278.57 L190.22,278.94 L190.70,279.31 L191.17,279.67 L191.65,280.03 L192.13,280.39 L192.62,280.74 L193.11,281.09 L193.60,281.44 L194.09,281.78 L194.58,282.12 L195.08,282.45 L195.58,282.79 L196.08,283.12 L196.58,283.44 L197.09,283.77 L197.59,284.09 L198.10,284.41 L198.61,284.72 L199.12,285.04 L199.63,285.35 L200.15,285.66 L200.66,285.96 L201.18,286.27 L201.70,286.57 L202.22,286.86 L202.75,287.15 L203.27,287.44 L203.80,287.72 L204.33,288.00 L204.87,288.28 L205.40,288.55 L205.94,288.82 L206.47,289.08 L207.01,289.34 L207.55,289.60 L208.10,289.86 L208.64,290.12 L209.18,290.37 L209.72,290.62 L210.27,290.87 L210.82,291.12 L211.36,291.37 L211.91,291.61 L212.46,291.85 L213.01,292.10 L213.56,292.33 L214.11,292.57 L214.66,292.81 L215.21,293.04 L215.77,293.27 L216.32,293.50 L216.88,293.72 L217.43,293.94 L217.99,294.16 L218.55,294.38 L219.11,294.59 L219.67,294.80 L220.23,295.02 L220.80,295.22 L221.36,295.43 L221.92,295.64 L222.48,295.85 L223.05,296.05 L223.61,296.25 L224.18,296.45 L224.74,296.65 L225.31,296.85 L225.87,297.05 L226.44,297.24 L227.01,297.43 L227.58,297.63 L228.15,297.81 L228.72,298.00 L229.29,298.19 L229.86,298.37 L230.43,298.55 L231.00,298.73 L231.58,298.90 L232.15,299.08 L232.72,299.25 L233.30,299.42 L233.87,299.59 L234.45,299.76 L235.02,299.93 L235.60,300.09 L236.18,300.26 L236.75,300.42 L237.33,300.58 L237.91,300.74 L238.49,300.90 L239.07,301.06 L239.64,301.22 L240.22,301.37 L240.80,301.52 L241.38,301.68 L241.96,301.83 L242.55,301.97 L243.13,302.12 L243.71,302.26 L244.29,302.41 L244.87,302.55 L245.46,302.69 L246.04,302.83 L246.62,302.97 L247.21,303.10 L247.79,303.24 L248.38,303.37 L248.96,303.51 L249.55,303.64 L250.13,303.77 L250.72,303.90 L251.30,304.03 L251.89,304.16 L252.47,304.28 L253.06,304.41 L253.65,304.53 L254.23,304.65 L254.82,304.77 L255.41,304.89 L256.00,305.01 L256.58,305.13 L257.17,305.25 L257.76,305.36 L258.35,305.48 L258.94,305.59 L259.53,305.71 L260.12,305.82 L260.70,305.93 L261.29,306.04 L261.88,306.15 L262.47,306.26 L263.06,306.37 L263.65,306.48 L264.24,306.58 L264.83,306.69 L265.42,306.80 L266.01,306.90 L266.60,307.01 L267.19,307.11 L267.78,307.21 L268.38,307.32 L268.97,307.42 L269.56,307.52 L270.15,307.62 L270.74,307.72 L271.33,307.82 L271.92,307.92 L272.51,308.02 L273.11,308.12 L273.70,308.21 L274.29,308.31 L274.88,308.40 L275.47,308.50 L276.06,308.59 L276.66,308.69 L277.25,308.78 L277.84,308.87 L278.43,308.96 L279.03,309.06" fill="none" stroke="#f00" stroke-width="1.9" stroke-dasharray="7 6" stroke-linejoin="round" stroke-linecap="butt"/>
<path d="M55.88,337.80 L56.48,337.80 L57.08,337.80 L57.68,337.80 L58.28,337.80 L58.88,337.80 L59.48,337.80 L60.08,337.80 L60.67,337.80 L61.27,337.80 L61.87,337.80 L62.47,337.80 L63.07,337.80 L63.67,337.80 L64.27,337.80 L64.87,337.80 L65.47,337.80 L66.07,337.80 L66.66,337.80 L67.26,337.80 L67.86,337.80 L68.46,337.80 L69.06,337.80 L69.66,337.80 L70.26,337.80 L70.86,337.80 L71.46,337.80 L72.06,337.80 L72.65,337.80 L73.25,337.80 L73.85,337.80 L74.45,337.80 L75.05,337.80 L75.65,337.80 L76.25,337.80 L76.85,337.80 L77.45,337.80 L78.04,337.80 L78.64,337.80 L79.24,337.80 L79.84,337.80 L80.44,337.80 L81.04,337.80 L81.64,337.80 L82.24,337.81 L82.84,337.82 L83.44,337.84 L84.03,337.87 L84.63,337.92 L85.23,337.98 L85.82,338.06 L86.41,338.15 L87.00,338.25 L87.59,338.37 L88.18,338.48 L88.76,338.61 L89.35,338.74 L89.93,338.87 L90.52,339.00 L91.10,339.14 L91.68,339.28 L92.26,339.44 L92.84,339.60 L93.41,339.77 L93.98,339.95 L94.55,340.14 L95.12,340.32 L95.69,340.51 L96.26,340.70 L96.83,340.89 L97.40,341.07 L97.97,341.25 L98.54,341.44 L99.11,341.62 L99.68,341.81 L100.25,341.99 L100.82,342.18 L101.39,342.36 L101.96,342.53 L102.54,342.69 L103.12,342.84 L103.70,342.98 L104.29,343.10 L104.88,343.21 L105.47,343.31 L106.06,343.40 L106.65,343.48 L107.25,343.56 L107.84,343.63 L108.44,343.70 L109.03,343.76 L109.63,343.80 L110.23,343.84 L110.83,343.86 L111.42,343.87 L112.02,343.86 L112.62,343.84 L113.22,343.81 L113.82,343.76 L114.41,343.70 L115.01,343.63 L115.60,343.55 L116.19,343.46 L116.78,343.37 L117.37,343.26 L117.96,343.15 L118.55,343.04 L119.14,342.92 L119.72,342.79 L120.31,342.66 L120.89,342.53 L121.47,342.38 L122.05,342.22 L122.62,342.05 L123.19,341.86 L123.76,341.66 L124.31,341.44 L124.87,341.22 L125.42,340.98 L125.96,340.73 L126.51,340.48 L127.05,340.22 L127.58,339.95 L128.11,339.67 L128.64,339.39 L129.17,339.10 L129.69,338.80 L130.20,338.50 L130.71,338.18 L131.21,337.86 L131.71,337.52 L132.20,337.18 L132.68,336.82 L133.15,336.45 L133.61,336.06 L134.06,335.67 L134.49,335.25 L134.91,334.83 L135.32,334.38 L135.71,333.93 L136.08,333.46 L136.44,332.99 L136.79,332.50 L137.13,332.00 L137.45,331.50 L137.76,330.98 L138.05,330.46 L138.33,329.93 L138.59,329.39 L138.84,328.85 L139.08,328.30 L139.30,327.74 L139.50,327.18 L139.70,326.61 L139.88,326.04 L140.06,325.47 L140.23,324.89 L140.39,324.32 L140.55,323.74 L140.70,323.16 L140.85,322.58 L140.99,322.00 L141.13,321.42 L141.27,320.84 L141.41,320.25 L141.54,319.67 L141.66,319.08 L141.79,318.50 L141.91,317.91 L142.03,317.32 L142.14,316.73 L142.26,316.15 L142.38,315.56 L142.49,314.97 L142.61,314.38 L142.72,313.80 L142.84,313.21 L142.96,312.62 L143.08,312.03 L143.19,311.45 L143.31,310.86 L143.43,310.27 L143.55,309.69 L143.67,309.10 L143.79,308.51 L143.90,307.92 L144.02,307.34 L144.14,306.75 L144.26,306.16 L144.37,305.57 L144.49,304.99 L144.61,304.40 L144.72,303.81 L144.84,303.22 L144.96,302.64 L145.08,302.05 L145.19,301.46 L145.31,300.88 L145.43,300.29 L145.55,299.70 L145.67,299.11 L145.79,298.53 L145.91,297.94 L146.03,297.35 L146.15,296.77 L146.27,296.18 L146.40,295.59 L146.52,295.01 L146.64,294.42 L146.76,293.84 L146.88,293.25 L147.01,292.66 L147.13,292.08 L147.25,291.49 L147.38,290.90 L147.50,290.32 L147.63,289.73 L147.75,289.15 L147.87,288.56 L148.00,287.97 L148.12,287.39 L148.25,286.80 L148.37,286.22 L148.50,285.63 L148.63,285.05 L148.75,284.46 L148.88,283.87 L149.00,283.29 L149.13,282.70 L149.26,282.12 L149.38,281.53 L149.51,280.95 L149.64,280.36 L149.76,279.78 L149.89,279.19 L150.02,278.61 L150.14,278.02 L150.27,277.43 L150.40,276.85 L150.52,276.26 L150.65,275.68 L150.78,275.09 L150.91,274.51 L151.03,273.92 L151.16,273.34 L151.29,272.75 L151.42,272.17 L151.55,271.58 L151.69,271.00 L151.82,270.42 L151.95,269.83 L152.09,269.25 L152.23,268.67 L152.36,268.08 L152.50,267.50 L152.64,266.92 L152.78,266.33 L152.91,265.75 L153.05,265.17 L153.19,264.58 L153.32,264.00 L153.46,263.42 L153.60,262.84 L153.74,262.25 L153.88,261.67 L154.03,261.09 L154.18,260.51 L154.33,259.93 L154.49,259.35 L154.65,258.78 L154.82,258.20 L154.99,257.63 L155.16,257.05 L155.34,256.48 L155.52,255.91 L155.70,255.34 L155.88,254.77 L156.05,254.19 L156.22,253.62 L156.40,253.05 L156.57,252.48 L156.76,251.91 L156.96,251.34 L157.17,250.78 L157.40,250.23 L157.65,249.68 L157.95,249.16 L158.30,248.68 L158.74,248.27 L159.26,247.99 L159.84,247.82 L160.43,247.73 L161.03,247.69 L161.63,247.68 L162.22,247.70 L162.82,247.78 L163.40,247.93 L163.96,248.14 L164.49,248.40 L165.01,248.70 L165.52,249.03 L166.02,249.36 L166.52,249.69 L167.02,250.02 L167.52,250.35 L168.01,250.68 L168.51,251.02 L169.00,251.37 L169.48,251.72 L169.97,252.07 L170.44,252.43 L170.91,252.80 L171.38,253.18 L171.84,253.56 L172.30,253.94 L172.76,254.33 L173.21,254.73 L173.66,255.13 L174.10,255.53 L174.54,255.93 L174.99,256.33 L175.43,256.74 L175.86,257.15 L176.30,257.56 L176.73,257.97 L177.17,258.38 L177.60,258.80 L178.04,259.21 L178.47,259.63 L178.90,260.04 L179.33,260.45 L179.76,260.87 L180.20,261.28 L180.63,261.70 L181.07,262.11 L181.50,262.52 L181.94,262.93 L182.38,263.34 L182.81,263.75 L183.25,264.15 L183.69,264.56 L184.14,264.96 L184.58,265.37 L185.02,265.77 L185.47,266.17 L185.91,266.57 L186.36,266.97 L186.81,267.36 L187.26,267.76 L187.71,268.15 L188.17,268.54 L188.62,268.93 L189.08,269.32 L189.53,269.71 L189.99,270.10 L190.45,270.48 L190.91,270.87 L191.37,271.25 L191.84,271.63 L192.30,272.00 L192.77,272.38 L193.23,272.76 L193.70,273.13 L194.17,273.50 L194.64,273.87 L195.12,274.23 L195.59,274.60 L196.07,274.96 L196.55,275.32 L197.03,275.68 L197.51,276.04 L197.99,276.40 L198.47,276.75 L198.96,277.10 L199.45,277.45 L199.93,277.79 L200.43,278.14 L200.92,278.48 L201.41,278.82 L201.91,279.15 L202.40,279.49 L202.90,279.82 L203.40,280.15 L203.90,280.48 L204.41,280.80 L204.91,281.12 L205.42,281.44 L205.93,281.76 L206.44,282.07 L206.95,282.38 L207.46,282.69 L207.98,283.00 L208.50,283.30 L209.01,283.60 L209.53,283.90 L210.06,284.19 L210.58,284.49 L211.10,284.78 L211.63,285.06 L212.15,285.35 L212.68,285.63 L213.21,285.91 L213.74,286.19 L214.27,286.47 L214.81,286.74 L215.34,287.01 L215.88,287.27 L216.42,287.54 L216.96,287.80 L217.50,288.05 L218.04,288.31 L218.58,288.56 L219.13,288.81 L219.67,289.06 L220.22,289.31 L220.76,289.55 L221.31,289.79 L221.86,290.03 L222.41,290.27 L222.96,290.50 L223.52,290.73 L224.07,290.96 L224.63,291.18 L225.18,291.40 L225.74,291.62 L226.30,291.84 L226.86,292.06 L227.42,292.27 L227.98,292.48 L228.54,292.69 L229.10,292.89 L229.67,293.10 L230.23,293.30 L230.80,293.50 L231.36,293.69 L231.93,293.89 L232.50,294.08 L233.06,294.27 L233.63,294.45 L234.20,294.64 L234.77,294.82 L235.34,295.00 L235.92,295.18 L236.49,295.36 L237.06,295.54 L237.63,295.71 L238.21,295.88 L238.78,296.05 L239.36,296.22 L239.93,296.38 L240.51,296.55 L241.09,296.71 L241.66,296.87 L242.24,297.03 L242.82,297.18 L243.40,297.34 L243.98,297.49 L244.56,297.64 L245.13,297.80 L245.72,297.94 L246.30,298.09 L246.88,298.24 L247.46,298.38 L248.04,298.53 L248.62,298.67 L249.20,298.81 L249.79,298.95 L250.37,299.09 L250.95,299.23 L251.53,299.36 L252.12,299.50 L252.70,299.63 L253.29,299.77 L253.87,299.90 L254.45,300.03 L255.04,300.16 L255.62,300.29 L256.21,300.42 L256.79,300.55 L257.38,300.68 L257.96,300.81 L258.55,300.93 L259.13,301.06 L259.72,301.19 L260.31,301.31 L260.89,301.44 L261.48,301.56 L262.06,301.68 L262.65,301.81 L263.23,301.93 L263.82,302.06 L264.41,302.19 L264.99,302.31 L265.58,302.44 L266.16,302.57 L266.75,302.69 L267.33,302.82 L267.92,302.95 L268.50,303.08 L269.09,303.20 L269.67,303.33 L270.26,303.46 L270.84,303.59 L271.43,303.72 L272.01,303.84 L272.60,303.97 L273.18,304.10 L273.77,304.23 L274.35,304.36 L274.94,304.49 L275.52,304.62 L276.11,304.74 L276.69,304.87 L277.28,305.00 L277.86,305.13 L278.45,305.26 L279.03,305.39" fill="none" stroke="#008000" stroke-width="1.9" stroke-dasharray="1.7 1.8" stroke-linejoin="round" stroke-linecap="butt"/>
<path d="M55.88,337.80 L56.48,337.80 L57.08,337.80 L57.68,337.80 L58.28,337.80 L58.88,337.80 L59.47,337.80 L60.07,337.80 L60.67,337.80 L61.27,337.80 L61.87,337.80 L62.47,337.80 L63.07,337.80 L63.67,337.80 L64.27,337.80 L64.87,337.80 L65.47,337.80 L66.07,337.80 L66.66,337.80 L67.26,337.80 L67.86,337.80 L68.46,337.80 L69.06,337.80 L69.66,337.80 L70.26,337.80 L70.86,337.80 L71.46,337.80 L72.06,337.80 L72.66,337.80 L73.25,337.80 L73.85,337.80 L74.45,337.80 L75.05,337.80 L75.65,337.80 L76.25,337.80 L76.85,337.80 L77.45,337.80 L78.05,337.80 L78.65,337.80 L79.25,337.80 L79.84,337.79 L80.44,337.78 L81.04,337.76 L81.64,337.72 L82.24,337.68 L82.84,337.63 L83.43,337.57 L84.03,337.50 L84.62,337.43 L85.21,337.34 L85.81,337.25 L86.40,337.14 L86.98,337.02 L87.56,336.88 L88.14,336.71 L88.71,336.52 L89.27,336.31 L89.82,336.08 L90.36,335.83 L90.90,335.56 L91.43,335.29 L91.96,335.00 L92.48,334.71 L93.00,334.40 L93.51,334.10 L94.02,333.78 L94.53,333.46 L95.03,333.13 L95.52,332.79 L96.00,332.43 L96.48,332.07 L96.94,331.69 L97.40,331.30 L97.84,330.89 L98.26,330.47 L98.67,330.04 L99.06,329.58 L99.43,329.11 L99.78,328.62 L100.10,328.12 L100.41,327.60 L100.70,327.08 L100.98,326.55 L101.25,326.01 L101.52,325.48 L101.78,324.94 L102.03,324.40 L102.29,323.85 L102.53,323.31 L102.77,322.76 L103.01,322.21 L103.24,321.65 L103.47,321.10 L103.69,320.54 L103.91,319.99 L104.12,319.43 L104.33,318.87 L104.54,318.30 L104.75,317.74 L104.95,317.18 L105.14,316.61 L105.34,316.04 L105.52,315.47 L105.71,314.90 L105.89,314.33 L106.07,313.76 L106.25,313.19 L106.43,312.62 L106.62,312.05 L106.80,311.48 L106.99,310.91 L107.18,310.34 L107.38,309.78 L107.58,309.21 L107.78,308.65 L107.98,308.08 L108.19,307.52 L108.39,306.96 L108.61,306.40 L108.82,305.84 L109.04,305.28 L109.27,304.73 L109.50,304.17 L109.74,303.63 L109.98,303.08 L110.23,302.53 L110.49,301.99 L110.75,301.45 L111.02,300.92 L111.30,300.39 L111.60,299.87 L111.92,299.36 L112.26,298.87 L112.64,298.41 L113.05,297.97 L113.49,297.56 L113.96,297.19 L114.45,296.85 L114.98,296.57 L115.54,296.36 L116.13,296.27 L116.73,296.30 L117.30,296.47 L117.85,296.72 L118.36,297.03 L118.85,297.37 L119.33,297.73 L119.80,298.10 L120.26,298.49 L120.70,298.89 L121.14,299.30 L121.57,299.72 L121.99,300.14 L122.40,300.58 L122.81,301.02 L123.21,301.46 L123.61,301.91 L124.01,302.36 L124.40,302.81 L124.78,303.27 L125.16,303.73 L125.54,304.20 L125.92,304.66 L126.30,305.12 L126.69,305.58 L127.09,306.02 L127.51,306.46 L127.93,306.88 L128.37,307.29 L128.81,307.69 L129.27,308.08 L129.73,308.46 L130.20,308.83 L130.68,309.20 L131.16,309.55 L131.65,309.89 L132.15,310.22 L132.66,310.54 L133.17,310.85 L133.69,311.16 L134.20,311.46 L134.73,311.75 L135.25,312.04 L135.79,312.30 L136.34,312.54 L136.91,312.73 L137.49,312.87 L138.09,312.92 L138.69,312.88 L139.27,312.76 L139.84,312.57 L140.38,312.32 L140.90,312.02 L141.39,311.68 L141.85,311.29 L142.26,310.85 L142.61,310.36 L142.90,309.84 L143.15,309.30 L143.37,308.74 L143.57,308.18 L143.76,307.61 L143.94,307.03 L144.11,306.46 L144.29,305.89 L144.47,305.32 L144.65,304.75 L144.83,304.17 L145.01,303.60 L145.19,303.03 L145.37,302.46 L145.54,301.89 L145.71,301.31 L145.88,300.74 L146.04,300.16 L146.20,299.58 L146.36,299.00 L146.51,298.42 L146.66,297.84 L146.80,297.26 L146.94,296.68 L147.07,296.09 L147.20,295.51 L147.32,294.92 L147.44,294.34 L147.56,293.75 L147.67,293.16 L147.78,292.57 L147.88,291.98 L147.98,291.39 L148.09,290.80 L148.19,290.21 L148.28,289.62 L148.38,289.03 L148.48,288.44 L148.57,287.84 L148.67,287.25 L148.77,286.66 L148.87,286.07 L148.97,285.48 L149.07,284.89 L149.17,284.30 L149.27,283.71 L149.38,283.12 L149.49,282.53 L149.60,281.94 L149.71,281.35 L149.81,280.76 L149.92,280.17 L150.03,279.58 L150.14,279.00 L150.25,278.41 L150.36,277.82 L150.47,277.23 L150.58,276.64 L150.69,276.05 L150.81,275.46 L150.92,274.87 L151.04,274.29 L151.15,273.70 L151.27,273.11 L151.39,272.53 L151.51,271.94 L151.64,271.35 L151.77,270.77 L151.90,270.18 L152.03,269.60 L152.16,269.01 L152.30,268.43 L152.44,267.85 L152.59,267.27 L152.74,266.69 L152.90,266.11 L153.06,265.53 L153.22,264.96 L153.39,264.38 L153.56,263.81 L153.73,263.23 L153.91,262.66 L154.08,262.09 L154.25,261.51 L154.43,260.94 L154.60,260.37 L154.77,259.79 L154.94,259.22 L155.11,258.64 L155.27,258.07 L155.44,257.49 L155.59,256.91 L155.75,256.33 L155.90,255.75 L156.05,255.17 L156.20,254.59 L156.35,254.01 L156.50,253.43 L156.64,252.85 L156.79,252.27 L156.94,251.69 L157.10,251.11 L157.26,250.53 L157.42,249.96 L157.58,249.38 L157.75,248.81 L157.93,248.23 L158.11,247.66 L158.30,247.10 L158.50,246.53 L158.70,245.97 L158.91,245.40 L159.13,244.85 L159.35,244.29 L159.58,243.74 L159.82,243.19 L160.06,242.64 L160.32,242.10 L160.59,241.56 L160.87,241.03 L161.16,240.51 L161.47,240.00 L161.79,239.49 L162.12,239.00 L162.48,238.51 L162.84,238.03 L163.21,237.56 L163.60,237.11 L164.00,236.66 L164.41,236.23 L164.85,235.81 L165.30,235.43 L165.79,235.08 L166.32,234.80 L166.88,234.59 L167.47,234.51 L168.07,234.55 L168.65,234.69 L169.21,234.90 L169.75,235.16 L170.27,235.46 L170.78,235.77 L171.28,236.11 L171.76,236.46 L172.24,236.83 L172.69,237.21 L173.14,237.62 L173.57,238.03 L173.99,238.46 L174.41,238.88 L174.83,239.31 L175.25,239.74 L175.67,240.16 L176.09,240.59 L176.51,241.02 L176.93,241.44 L177.35,241.87 L177.76,242.31 L178.18,242.74 L178.59,243.18 L178.99,243.62 L179.40,244.06 L179.80,244.51 L180.20,244.95 L180.59,245.40 L180.99,245.85 L181.38,246.30 L181.78,246.76 L182.17,247.21 L182.56,247.66 L182.96,248.11 L183.35,248.56 L183.75,249.01 L184.15,249.46 L184.54,249.91 L184.94,250.36 L185.33,250.81 L185.73,251.26 L186.13,251.70 L186.53,252.15 L186.93,252.59 L187.34,253.04 L187.74,253.47 L188.15,253.91 L188.57,254.35 L188.98,254.78 L189.40,255.21 L189.82,255.64 L190.24,256.06 L190.66,256.48 L191.09,256.91 L191.52,257.32 L191.95,257.74 L192.39,258.15 L192.83,258.56 L193.27,258.96 L193.71,259.37 L194.16,259.77 L194.60,260.17 L195.05,260.56 L195.50,260.96 L195.96,261.35 L196.41,261.73 L196.87,262.12 L197.33,262.50 L197.80,262.88 L198.26,263.26 L198.73,263.64 L199.20,264.01 L199.67,264.38 L200.14,264.75 L200.62,265.11 L201.10,265.47 L201.58,265.83 L202.06,266.18 L202.54,266.54 L203.03,266.89 L203.52,267.23 L204.01,267.58 L204.50,267.92 L204.99,268.27 L205.48,268.60 L205.98,268.94 L206.48,269.28 L206.98,269.61 L207.48,269.94 L207.98,270.26 L208.48,270.59 L208.99,270.91 L209.49,271.23 L210.00,271.55 L210.51,271.87 L211.01,272.19 L211.52,272.50 L212.04,272.81 L212.55,273.13 L213.06,273.43 L213.58,273.74 L214.09,274.04 L214.61,274.35 L215.13,274.65 L215.65,274.95 L216.17,275.24 L216.69,275.54 L217.21,275.83 L217.74,276.12 L218.26,276.41 L218.79,276.69 L219.32,276.98 L219.84,277.26 L220.37,277.54 L220.90,277.82 L221.43,278.10 L221.97,278.37 L222.50,278.65 L223.03,278.92 L223.57,279.19 L224.11,279.45 L224.64,279.72 L225.18,279.98 L225.72,280.24 L226.26,280.50 L226.80,280.76 L227.34,281.02 L227.89,281.27 L228.43,281.52 L228.97,281.77 L229.52,282.02 L230.07,282.27 L230.61,282.51 L231.16,282.75 L231.71,282.99 L232.26,283.23 L232.81,283.47 L233.36,283.70 L233.91,283.94 L234.46,284.17 L235.02,284.40 L235.57,284.63 L236.13,284.85 L236.68,285.08 L237.24,285.30 L237.80,285.52 L238.35,285.74 L238.91,285.95 L239.47,286.17 L240.03,286.38 L240.59,286.60 L241.15,286.81 L241.71,287.01 L242.28,287.22 L242.84,287.43 L243.40,287.63 L243.97,287.84 L244.53,288.04 L245.09,288.24 L245.66,288.44 L246.23,288.63 L246.79,288.83 L247.36,289.02 L247.93,289.21 L248.49,289.41 L249.06,289.59 L249.63,289.78 L250.20,289.97 L250.77,290.15 L251.34,290.34 L251.91,290.52 L252.48,290.70 L253.05,290.88 L253.63,291.06 L254.20,291.24 L254.77,291.41 L255.34,291.59 L255.92,291.76 L256.49,291.94 L257.06,292.11 L257.64,292.28 L258.21,292.45 L258.79,292.62 L259.36,292.78 L259.94,292.95 L260.51,293.12 L261.09,293.28 L261.67,293.45 L262.24,293.61 L262.82,293.77 L263.40,293.93 L263.97,294.09 L264.55,294.25 L265.13,294.41 L265.71,294.57 L266.28,294.73 L266.86,294.88 L267.44,295.04 L268.02,295.20 L268.60,295.35 L269.18,295.51 L269.76,295.66 L270.34,295.81 L270.91,295.97 L271.49,296.12 L272.07,296.27 L272.65,296.42 L273.23,296.58 L273.81,296.73 L274.39,296.88 L274.97,297.03 L275.55,297.18 L276.13,297.33 L276.71,297.47 L277.29,297.62 L277.87,297.77 L278.46,297.92 L279.04,298.06" fill="none" stroke="#000" stroke-width="1.9" stroke-dasharray="8 4.2 1.3 4.2" stroke-linejoin="round" stroke-linecap="butt"/></g>
<g clip-path="url(#cpd)"><path d="M336.08,383.10 L336.68,383.10 L337.28,383.10 L337.88,383.10 L338.48,383.10 L339.08,383.10 L339.68,383.10 L340.28,383.10 L340.88,383.10 L341.48,383.10 L342.08,383.09 L342.68,383.09 L343.27,383.09 L343.87,383.09 L344.47,383.09 L345.07,383.09 L345.67,383.09 L346.27,383.08 L346.87,383.08 L347.47,383.08 L348.07,383.08 L348.67,383.08 L349.27,383.07 L349.87,383.07 L350.47,383.07 L351.07,383.07 L351.67,383.06 L352.27,383.06 L352.87,383.06 L353.47,383.05 L354.07,383.05 L354.67,383.04 L355.27,383.04 L355.87,383.04 L356.47,383.03 L357.07,383.03 L357.67,383.02 L358.27,383.02 L358.86,383.01 L359.46,383.00 L360.06,382.99 L360.66,382.97 L361.26,382.94 L361.86,382.91 L362.46,382.87 L363.06,382.81 L363.65,382.75 L364.25,382.66 L364.83,382.54 L365.41,382.39 L365.98,382.19 L366.53,381.95 L367.06,381.68 L367.59,381.39 L368.10,381.08 L368.61,380.77 L369.11,380.44 L369.61,380.10 L370.10,379.75 L370.58,379.39 L371.04,379.02 L371.50,378.62 L371.93,378.21 L372.36,377.79 L372.76,377.35 L373.15,376.89 L373.51,376.41 L373.86,375.93 L374.20,375.43 L374.52,374.92 L374.83,374.41 L375.13,373.89 L375.41,373.36 L375.68,372.83 L375.94,372.28 L376.19,371.74 L376.42,371.19 L376.65,370.63 L376.86,370.07 L377.06,369.51 L377.26,368.94 L377.45,368.37 L377.63,367.80 L377.81,367.23 L377.99,366.65 L378.16,366.08 L378.34,365.51 L378.51,364.93 L378.69,364.36 L378.86,363.79 L379.04,363.21 L379.21,362.64 L379.38,362.06 L379.55,361.49 L379.72,360.91 L379.88,360.34 L380.05,359.76 L380.21,359.18 L380.37,358.61 L380.53,358.03 L380.69,357.45 L380.86,356.87 L381.02,356.30 L381.18,355.72 L381.35,355.14 L381.52,354.57 L381.69,353.99 L381.86,353.42 L382.04,352.85 L382.22,352.28 L382.41,351.70 L382.60,351.14 L382.79,350.57 L382.98,350.00 L383.18,349.43 L383.37,348.87 L383.58,348.30 L383.78,347.74 L383.99,347.17 L384.20,346.61 L384.41,346.05 L384.62,345.49 L384.84,344.93 L385.06,344.38 L385.29,343.82 L385.51,343.27 L385.74,342.71 L385.97,342.16 L386.21,341.61 L386.44,341.05 L386.67,340.50 L386.90,339.95 L387.14,339.40 L387.39,338.85 L387.65,338.31 L387.94,337.78 L388.25,337.27 L388.60,336.79 L388.99,336.33 L389.42,335.92 L389.89,335.54 L390.39,335.22 L390.93,334.96 L391.51,334.79 L392.11,334.73 L392.70,334.78 L393.28,334.93 L393.85,335.13 L394.39,335.39 L394.91,335.69 L395.40,336.03 L395.86,336.41 L396.29,336.83 L396.70,337.27 L397.08,337.73 L397.44,338.21 L397.80,338.69 L398.15,339.18 L398.49,339.67 L398.84,340.16 L399.18,340.65 L399.52,341.14 L399.86,341.64 L400.19,342.14 L400.52,342.64 L400.84,343.15 L401.17,343.65 L401.50,344.15 L401.83,344.65 L402.16,345.15 L402.50,345.64 L402.84,346.14 L403.19,346.63 L403.54,347.11 L403.89,347.60 L404.24,348.09 L404.60,348.57 L404.96,349.04 L405.33,349.51 L405.72,349.98 L406.11,350.43 L406.51,350.87 L406.93,351.31 L407.34,351.74 L407.77,352.16 L408.20,352.58 L408.64,352.98 L409.10,353.37 L409.58,353.73 L410.10,354.03 L410.65,354.27 L411.22,354.43 L411.81,354.53 L412.41,354.57 L413.01,354.59 L413.61,354.58 L414.21,354.56 L414.81,354.49 L415.39,354.35 L415.93,354.10 L416.42,353.76 L416.86,353.34 L417.25,352.89 L417.61,352.41 L417.94,351.91 L418.26,351.40 L418.56,350.88 L418.84,350.36 L419.11,349.82 L419.36,349.27 L419.59,348.72 L419.81,348.16 L420.02,347.60 L420.21,347.03 L420.39,346.46 L420.57,345.89 L420.73,345.31 L420.88,344.73 L421.02,344.15 L421.15,343.56 L421.28,342.98 L421.40,342.39 L421.52,341.80 L421.63,341.21 L421.74,340.62 L421.84,340.03 L421.94,339.44 L422.04,338.85 L422.13,338.26 L422.22,337.66 L422.31,337.07 L422.40,336.48 L422.48,335.88 L422.57,335.29 L422.66,334.70 L422.74,334.10 L422.83,333.51 L422.91,332.92 L423.00,332.32 L423.09,331.73 L423.18,331.14 L423.27,330.54 L423.36,329.95 L423.45,329.36 L423.54,328.77 L423.63,328.17 L423.71,327.58 L423.80,326.99 L423.89,326.39 L423.97,325.80 L424.06,325.21 L424.14,324.61 L424.22,324.02 L424.31,323.42 L424.39,322.83 L424.47,322.24 L424.55,321.64 L424.63,321.05 L424.72,320.45 L424.80,319.86 L424.88,319.27 L424.96,318.67 L425.04,318.08 L425.12,317.48 L425.20,316.89 L425.29,316.30 L425.37,315.70 L425.45,315.11 L425.53,314.51 L425.61,313.92 L425.70,313.33 L425.78,312.73 L425.87,312.14 L425.95,311.54 L426.04,310.95 L426.12,310.36 L426.21,309.76 L426.30,309.17 L426.39,308.58 L426.48,307.99 L426.57,307.39 L426.66,306.80 L426.75,306.21 L426.84,305.62 L426.94,305.02 L427.03,304.43 L427.12,303.84 L427.21,303.25 L427.31,302.65 L427.40,302.06 L427.50,301.47 L427.59,300.88 L427.69,300.28 L427.78,299.69 L427.88,299.10 L427.97,298.51 L428.07,297.92 L428.16,297.33 L428.26,296.73 L428.36,296.14 L428.46,295.55 L428.55,294.96 L428.65,294.37 L428.75,293.78 L428.85,293.18 L428.94,292.59 L429.04,292.00 L429.14,291.41 L429.24,290.82 L429.34,290.23 L429.44,289.63 L429.54,289.04 L429.64,288.45 L429.74,287.86 L429.84,287.27 L429.93,286.68 L430.03,286.09 L430.13,285.50 L430.23,284.90 L430.33,284.31 L430.43,283.72 L430.53,283.13 L430.62,282.54 L430.72,281.95 L430.82,281.35 L430.91,280.76 L431.01,280.17 L431.10,279.58 L431.20,278.99 L431.30,278.39 L431.39,277.80 L431.49,277.21 L431.59,276.62 L431.68,276.03 L431.78,275.44 L431.88,274.84 L431.98,274.25 L432.08,273.66 L432.18,273.07 L432.28,272.48 L432.38,271.89 L432.49,271.30 L432.59,270.71 L432.70,270.12 L432.81,269.53 L432.91,268.94 L433.02,268.35 L433.14,267.76 L433.25,267.17 L433.37,266.58 L433.48,265.99 L433.60,265.41 L433.72,264.82 L433.85,264.23 L433.97,263.65 L434.10,263.06 L434.23,262.48 L434.36,261.89 L434.50,261.31 L434.64,260.72 L434.78,260.14 L434.92,259.56 L435.07,258.98 L435.22,258.40 L435.38,257.82 L435.53,257.24 L435.70,256.66 L435.86,256.09 L436.03,255.51 L436.21,254.94 L436.39,254.37 L436.57,253.79 L436.76,253.23 L436.95,252.66 L437.15,252.09 L437.35,251.53 L437.57,250.97 L437.80,250.42 L438.05,249.87 L438.33,249.34 L438.63,248.82 L438.96,248.32 L439.31,247.83 L439.69,247.37 L440.10,246.94 L440.55,246.54 L441.05,246.20 L441.59,245.95 L442.17,245.81 L442.77,245.79 L443.37,245.85 L443.96,245.97 L444.53,246.13 L445.09,246.34 L445.63,246.60 L446.15,246.91 L446.63,247.27 L447.07,247.67 L447.49,248.10 L447.90,248.54 L448.29,248.99 L448.68,249.45 L449.06,249.91 L449.45,250.37 L449.83,250.83 L450.20,251.30 L450.57,251.77 L450.94,252.25 L451.30,252.73 L451.65,253.21 L452.00,253.70 L452.35,254.19 L452.70,254.68 L453.04,255.17 L453.38,255.67 L453.72,256.16 L454.05,256.66 L454.38,257.16 L454.71,257.66 L455.03,258.17 L455.35,258.67 L455.67,259.18 L455.99,259.69 L456.31,260.20 L456.62,260.71 L456.94,261.22 L457.26,261.73 L457.57,262.23 L457.89,262.74 L458.21,263.25 L458.53,263.76 L458.85,264.27 L459.16,264.77 L459.48,265.28 L459.80,265.79 L460.12,266.30 L460.45,266.80 L460.77,267.30 L461.10,267.81 L461.43,268.31 L461.76,268.81 L462.10,269.30 L462.43,269.80 L462.77,270.30 L463.11,270.79 L463.45,271.28 L463.80,271.77 L464.14,272.26 L464.49,272.75 L464.84,273.24 L465.19,273.72 L465.55,274.21 L465.91,274.69 L466.27,275.17 L466.63,275.64 L467.00,276.12 L467.36,276.59 L467.73,277.07 L468.11,277.54 L468.48,278.00 L468.86,278.47 L469.24,278.93 L469.62,279.40 L470.00,279.86 L470.39,280.32 L470.78,280.77 L471.17,281.23 L471.56,281.68 L471.96,282.13 L472.35,282.58 L472.75,283.03 L473.15,283.47 L473.56,283.92 L473.96,284.36 L474.37,284.80 L474.78,285.23 L475.20,285.67 L475.61,286.10 L476.03,286.54 L476.44,286.96 L476.86,287.39 L477.29,287.82 L477.71,288.24 L478.14,288.66 L478.57,289.08 L479.00,289.50 L479.43,289.91 L479.86,290.33 L480.30,290.74 L480.74,291.15 L481.18,291.56 L481.62,291.97 L482.06,292.37 L482.50,292.78 L482.94,293.18 L483.39,293.58 L483.84,293.98 L484.29,294.37 L484.74,294.77 L485.20,295.16 L485.65,295.55 L486.11,295.93 L486.57,296.32 L487.03,296.70 L487.50,297.08 L487.96,297.46 L488.43,297.84 L488.90,298.21 L489.37,298.58 L489.84,298.96 L490.31,299.32 L490.78,299.69 L491.26,300.06 L491.74,300.42 L492.21,300.78 L492.69,301.14 L493.18,301.50 L493.66,301.85 L494.15,302.20 L494.63,302.55 L495.12,302.90 L495.61,303.24 L496.10,303.59 L496.60,303.93 L497.09,304.27 L497.59,304.60 L498.09,304.94 L498.59,305.27 L499.09,305.60 L499.59,305.92 L500.10,306.25 L500.60,306.57 L501.11,306.89 L501.62,307.21 L502.13,307.52 L502.64,307.84 L503.15,308.15 L503.66,308.46 L504.18,308.76 L504.70,309.07 L505.21,309.37 L505.73,309.67 L506.25,309.97 L506.78,310.26 L507.30,310.55 L507.82,310.85 L508.35,311.13 L508.88,311.42 L509.40,311.70 L509.93,311.99 L510.46,312.27 L511.00,312.54 L511.53,312.82 L512.06,313.09 L512.60,313.37 L513.13,313.64 L513.67,313.90 L514.21,314.17 L514.74,314.43 L515.28,314.69 L515.82,314.95 L516.37,315.21 L516.91,315.47 L517.45,315.72 L518.00,315.97 L518.54,316.22 L519.09,316.47 L519.63,316.71 L520.18,316.96 L520.73,317.20 L521.28,317.44 L521.83,317.68 L522.38,317.92 L522.93,318.16 L523.48,318.39 L524.03,318.62 L524.59,318.85 L525.14,319.08 L525.70,319.31 L526.25,319.54 L526.81,319.76 L527.36,319.99 L527.92,320.21 L528.48,320.43 L529.04,320.65 L529.59,320.87 L530.15,321.09 L530.71,321.30 L531.27,321.52 L531.83,321.73 L532.39,321.95 L532.95,322.16 L533.51,322.37 L534.07,322.58 L534.64,322.79 L535.20,323.00 L535.76,323.21 L536.32,323.41 L536.89,323.62 L537.45,323.82 L538.02,324.03 L538.58,324.23 L539.14,324.44 L539.71,324.64 L540.27,324.85 L540.83,325.05 L541.40,325.25 L541.96,325.46 L542.53,325.66 L543.09,325.86 L543.66,326.06 L544.22,326.26 L544.79,326.46 L545.35,326.66 L545.92,326.86 L546.48,327.06 L547.05,327.26 L547.61,327.46 L548.18,327.66 L548.74,327.87 L549.31,328.07 L549.87,328.27 L550.43,328.48 L551.00,328.68 L551.56,328.89 L552.12,329.09 L552.69,329.30 L553.25,329.51 L553.81,329.71 L554.37,329.92 L554.94,330.13 L555.50,330.34 L556.06,330.55 L556.62,330.76 L557.19,330.97 L557.75,331.18 L558.31,331.39 L558.87,331.60 L559.43,331.81 L559.99,332.02 L560.55,332.23" fill="none" stroke="#000" stroke-width="1.9" stroke-linejoin="round" stroke-linecap="butt"/>
<path d="M336.09,383.10 L336.69,383.10 L337.29,383.10 L337.89,383.10 L338.49,383.10 L339.09,383.10 L339.69,383.10 L340.29,383.10 L340.89,383.10 L341.49,383.10 L342.09,383.10 L342.69,383.10 L343.29,383.10 L343.88,383.10 L344.48,383.10 L345.08,383.10 L345.68,383.10 L346.28,383.10 L346.88,383.10 L347.48,383.10 L348.08,383.10 L348.68,383.10 L349.28,383.10 L349.88,383.10 L350.48,383.10 L351.08,383.10 L351.68,383.10 L352.28,383.10 L352.88,383.10 L353.48,383.10 L354.08,383.10 L354.68,383.10 L355.28,383.10 L355.88,383.10 L356.48,383.10 L357.08,383.10 L357.68,383.10 L358.28,383.10 L358.88,383.10 L359.48,383.10 L360.08,383.10 L360.68,383.10 L361.28,383.10 L361.88,383.10 L362.48,383.10 L363.08,383.09 L363.68,383.07 L364.28,383.05 L364.88,383.01 L365.48,382.96 L366.07,382.89 L366.67,382.81 L367.26,382.72 L367.85,382.61 L368.44,382.48 L369.02,382.35 L369.60,382.19 L370.18,382.02 L370.75,381.84 L371.31,381.63 L371.86,381.38 L372.38,381.09 L372.87,380.74 L373.30,380.32 L373.68,379.86 L374.01,379.36 L374.32,378.85 L374.61,378.32 L374.88,377.78 L375.14,377.25 L375.40,376.70 L375.65,376.16 L375.89,375.61 L376.13,375.06 L376.36,374.51 L376.59,373.95 L376.80,373.39 L377.01,372.83 L377.21,372.26 L377.41,371.70 L377.61,371.13 L377.81,370.56 L378.00,370.00 L378.20,369.43 L378.39,368.86 L378.59,368.29 L378.79,367.73 L378.99,367.16 L379.19,366.60 L379.39,366.03 L379.59,365.47 L379.79,364.90 L379.98,364.33 L380.18,363.77 L380.38,363.20 L380.58,362.64 L380.78,362.07 L380.97,361.50 L381.17,360.94 L381.37,360.37 L381.57,359.81 L381.78,359.24 L381.98,358.68 L382.18,358.11 L382.39,357.55 L382.60,356.99 L382.81,356.42 L383.01,355.86 L383.22,355.30 L383.43,354.73 L383.63,354.17 L383.83,353.61 L384.04,353.04 L384.23,352.47 L384.43,351.91 L384.62,351.34 L384.81,350.77 L384.99,350.20 L385.17,349.62 L385.35,349.05 L385.52,348.48 L385.69,347.90 L385.85,347.32 L386.01,346.75 L386.17,346.17 L386.33,345.59 L386.49,345.01 L386.65,344.43 L386.80,343.85 L386.96,343.27 L387.12,342.69 L387.28,342.12 L387.44,341.54 L387.60,340.96 L387.77,340.38 L387.93,339.81 L388.10,339.23 L388.27,338.66 L388.44,338.08 L388.61,337.51 L388.78,336.93 L388.95,336.36 L389.13,335.78 L389.30,335.21 L389.48,334.64 L389.67,334.07 L389.86,333.50 L390.07,332.93 L390.28,332.37 L390.50,331.81 L390.72,331.26 L390.95,330.70 L391.18,330.15 L391.41,329.60 L391.66,329.05 L391.92,328.51 L392.21,327.98 L392.54,327.48 L392.94,327.03 L393.43,326.69 L394.00,326.51 L394.59,326.47 L395.19,326.53 L395.78,326.65 L396.36,326.80 L396.92,327.01 L397.46,327.28 L397.96,327.61 L398.42,328.00 L398.84,328.42 L399.24,328.87 L399.63,329.33 L400.00,329.80 L400.37,330.27 L400.73,330.75 L401.09,331.23 L401.44,331.72 L401.79,332.21 L402.12,332.70 L402.45,333.20 L402.78,333.71 L403.10,334.21 L403.42,334.72 L403.75,335.23 L404.07,335.73 L404.39,336.23 L404.72,336.74 L405.05,337.24 L405.37,337.75 L405.70,338.25 L406.02,338.75 L406.35,339.26 L406.68,339.75 L407.02,340.25 L407.37,340.74 L407.72,341.22 L408.09,341.70 L408.46,342.17 L408.84,342.63 L409.23,343.09 L409.62,343.55 L410.03,343.99 L410.44,344.42 L410.86,344.85 L411.30,345.25 L411.76,345.64 L412.23,346.01 L412.72,346.36 L413.22,346.69 L413.74,347.00 L414.26,347.29 L414.80,347.56 L415.35,347.79 L415.92,347.97 L416.51,348.08 L417.11,348.09 L417.70,347.98 L418.27,347.78 L418.80,347.50 L419.30,347.17 L419.77,346.80 L420.21,346.39 L420.62,345.96 L421.01,345.50 L421.36,345.01 L421.67,344.50 L421.95,343.97 L422.20,343.42 L422.42,342.87 L422.62,342.30 L422.80,341.73 L422.98,341.16 L423.15,340.58 L423.31,340.00 L423.47,339.43 L423.64,338.85 L423.81,338.27 L423.98,337.70 L424.16,337.13 L424.35,336.56 L424.53,335.99 L424.72,335.42 L424.91,334.85 L425.09,334.27 L425.26,333.70 L425.43,333.12 L425.60,332.55 L425.75,331.97 L425.89,331.38 L426.03,330.80 L426.16,330.21 L426.28,329.63 L426.39,329.04 L426.51,328.45 L426.62,327.86 L426.72,327.27 L426.83,326.68 L426.93,326.09 L427.03,325.49 L427.12,324.90 L427.22,324.31 L427.31,323.72 L427.40,323.12 L427.49,322.53 L427.57,321.94 L427.66,321.34 L427.74,320.75 L427.82,320.15 L427.90,319.56 L427.98,318.97 L428.06,318.37 L428.14,317.78 L428.22,317.18 L428.30,316.59 L428.38,315.99 L428.45,315.40 L428.53,314.80 L428.61,314.21 L428.69,313.61 L428.77,313.02 L428.85,312.42 L428.93,311.83 L429.01,311.23 L429.09,310.64 L429.18,310.05 L429.26,309.45 L429.35,308.86 L429.44,308.27 L429.52,307.67 L429.61,307.08 L429.70,306.49 L429.79,305.89 L429.88,305.30 L429.97,304.71 L430.06,304.11 L430.14,303.52 L430.23,302.92 L430.32,302.33 L430.41,301.74 L430.50,301.14 L430.58,300.55 L430.67,299.96 L430.76,299.36 L430.85,298.77 L430.94,298.18 L431.02,297.58 L431.11,296.99 L431.20,296.40 L431.29,295.80 L431.38,295.21 L431.46,294.62 L431.55,294.02 L431.64,293.43 L431.73,292.84 L431.82,292.24 L431.91,291.65 L431.99,291.06 L432.08,290.46 L432.17,289.87 L432.26,289.28 L432.35,288.68 L432.44,288.09 L432.53,287.50 L432.62,286.90 L432.71,286.31 L432.80,285.72 L432.89,285.12 L432.97,284.53 L433.06,283.94 L433.15,283.34 L433.24,282.75 L433.32,282.16 L433.41,281.56 L433.49,280.97 L433.58,280.37 L433.66,279.78 L433.75,279.19 L433.83,278.59 L433.92,278.00 L434.00,277.41 L434.09,276.81 L434.17,276.22 L434.26,275.62 L434.34,275.03 L434.43,274.44 L434.52,273.84 L434.60,273.25 L434.69,272.66 L434.78,272.06 L434.87,271.47 L434.96,270.88 L435.05,270.28 L435.15,269.69 L435.24,269.10 L435.34,268.51 L435.43,267.91 L435.53,267.32 L435.63,266.73 L435.73,266.14 L435.84,265.55 L435.94,264.96 L436.05,264.37 L436.16,263.78 L436.27,263.19 L436.38,262.60 L436.49,262.01 L436.60,261.42 L436.71,260.83 L436.83,260.24 L436.94,259.65 L437.06,259.06 L437.18,258.48 L437.30,257.89 L437.43,257.30 L437.56,256.72 L437.70,256.13 L437.84,255.55 L437.98,254.97 L438.14,254.39 L438.30,253.81 L438.46,253.23 L438.64,252.66 L438.83,252.09 L439.03,251.52 L439.24,250.96 L439.47,250.41 L439.72,249.87 L439.99,249.33 L440.27,248.80 L440.56,248.27 L440.86,247.75 L441.17,247.24 L441.49,246.73 L441.81,246.23 L442.13,245.72 L442.45,245.21 L442.77,244.70 L443.09,244.20 L443.43,243.70 L443.79,243.22 L444.19,242.78 L444.65,242.39 L445.18,242.11 L445.75,241.93 L446.35,241.86 L446.95,241.84 L447.55,241.86 L448.14,241.95 L448.71,242.14 L449.23,242.44 L449.69,242.82 L450.10,243.26 L450.48,243.73 L450.84,244.20 L451.21,244.68 L451.57,245.15 L451.93,245.63 L452.30,246.11 L452.65,246.59 L453.00,247.08 L453.35,247.57 L453.69,248.06 L454.04,248.55 L454.38,249.05 L454.71,249.54 L455.05,250.04 L455.40,250.53 L455.74,251.02 L456.08,251.51 L456.43,252.00 L456.77,252.49 L457.12,252.98 L457.47,253.48 L457.81,253.97 L458.16,254.46 L458.50,254.95 L458.85,255.44 L459.19,255.93 L459.54,256.42 L459.88,256.91 L460.23,257.40 L460.57,257.89 L460.92,258.38 L461.26,258.87 L461.60,259.37 L461.95,259.86 L462.30,260.35 L462.64,260.83 L462.99,261.32 L463.34,261.81 L463.70,262.29 L464.05,262.78 L464.41,263.26 L464.76,263.75 L465.12,264.23 L465.48,264.71 L465.84,265.19 L466.20,265.67 L466.56,266.15 L466.92,266.63 L467.28,267.10 L467.65,267.58 L468.02,268.05 L468.39,268.53 L468.76,269.00 L469.13,269.47 L469.50,269.94 L469.87,270.41 L470.25,270.88 L470.63,271.34 L471.01,271.81 L471.39,272.27 L471.77,272.73 L472.15,273.20 L472.54,273.66 L472.92,274.11 L473.31,274.57 L473.70,275.03 L474.09,275.48 L474.48,275.94 L474.88,276.39 L475.27,276.84 L475.67,277.29 L476.07,277.74 L476.46,278.19 L476.87,278.64 L477.27,279.08 L477.67,279.52 L478.08,279.97 L478.49,280.41 L478.90,280.84 L479.31,281.28 L479.72,281.72 L480.13,282.15 L480.55,282.58 L480.97,283.02 L481.38,283.45 L481.80,283.88 L482.22,284.30 L482.64,284.73 L483.07,285.16 L483.49,285.58 L483.92,286.00 L484.35,286.42 L484.78,286.84 L485.21,287.26 L485.64,287.67 L486.08,288.08 L486.51,288.49 L486.95,288.90 L487.39,289.31 L487.83,289.72 L488.28,290.12 L488.72,290.53 L489.16,290.93 L489.61,291.33 L490.06,291.73 L490.51,292.13 L490.96,292.52 L491.41,292.92 L491.87,293.31 L492.32,293.70 L492.78,294.09 L493.24,294.47 L493.70,294.86 L494.16,295.24 L494.62,295.62 L495.09,296.00 L495.56,296.38 L496.02,296.75 L496.49,297.13 L496.96,297.50 L497.44,297.87 L497.91,298.23 L498.39,298.60 L498.86,298.96 L499.34,299.33 L499.82,299.69 L500.30,300.04 L500.79,300.40 L501.27,300.75 L501.76,301.11 L502.24,301.46 L502.73,301.80 L503.22,302.15 L503.71,302.49 L504.21,302.84 L504.70,303.18 L505.20,303.51 L505.69,303.85 L506.19,304.18 L506.69,304.51 L507.20,304.84 L507.70,305.17 L508.20,305.50 L508.71,305.82 L509.21,306.14 L509.72,306.46 L510.23,306.78 L510.74,307.09 L511.25,307.40 L511.77,307.71 L512.28,308.02 L512.80,308.33 L513.31,308.63 L513.83,308.94 L514.35,309.24 L514.87,309.53 L515.40,309.83 L515.92,310.12 L516.44,310.41 L516.97,310.70 L517.50,310.99 L518.02,311.28 L518.55,311.56 L519.08,311.84 L519.61,312.12 L520.15,312.39 L520.68,312.67 L521.21,312.94 L521.75,313.21 L522.29,313.48 L522.82,313.75 L523.36,314.01 L523.90,314.27 L524.44,314.53 L524.98,314.79 L525.53,315.05 L526.07,315.30 L526.61,315.56 L527.16,315.81 L527.70,316.05 L528.25,316.30 L528.80,316.55 L529.35,316.79 L529.90,317.03 L530.45,317.27 L531.00,317.51 L531.55,317.74 L532.10,317.97 L532.66,318.21 L533.21,318.44 L533.76,318.66 L534.32,318.89 L534.88,319.12 L535.43,319.34 L535.99,319.56 L536.55,319.78 L537.11,320.00 L537.67,320.21 L538.23,320.43 L538.79,320.64 L539.35,320.85 L539.91,321.06 L540.47,321.27 L541.04,321.48 L541.60,321.69 L542.17,321.89 L542.73,322.09 L543.29,322.29 L543.86,322.49 L544.43,322.69 L544.99,322.89 L545.56,323.09 L546.13,323.28 L546.70,323.47 L547.26,323.67 L547.83,323.86 L548.40,324.05 L548.97,324.24 L549.54,324.43 L550.11,324.62 L550.68,324.80 L551.25,324.99 L551.82,325.18 L552.39,325.36 L552.96,325.54 L553.53,325.73 L554.11,325.91 L554.68,326.09 L555.25,326.27 L555.82,326.44 L556.40,326.62 L556.97,326.80 L557.54,326.97" fill="none" stroke="#f00" stroke-width="1.9" stroke-dasharray="7 6" stroke-linejoin="round" stroke-linecap="butt"/>
<path d="M336.09,383.10 L336.69,383.11 L337.29,383.11 L337.89,383.12 L338.49,383.12 L339.09,383.13 L339.69,383.13 L340.29,383.13 L340.89,383.14 L341.48,383.14 L342.08,383.15 L342.68,383.15 L343.28,383.15 L343.88,383.16 L344.48,383.16 L345.08,383.16 L345.68,383.16 L346.28,383.17 L346.88,383.17 L347.48,383.17 L348.08,383.17 L348.68,383.18 L349.28,383.18 L349.87,383.18 L350.47,383.18 L351.07,383.18 L351.67,383.18 L352.27,383.19 L352.87,383.19 L353.47,383.19 L354.07,383.19 L354.67,383.19 L355.27,383.19 L355.87,383.19 L356.47,383.19 L357.07,383.19 L357.67,383.20 L358.26,383.20 L358.86,383.20 L359.46,383.20 L360.06,383.20 L360.66,383.20 L361.26,383.20 L361.86,383.20 L362.46,383.20 L363.06,383.20 L363.66,383.20 L364.26,383.20 L364.86,383.20 L365.46,383.20 L366.06,383.20 L366.65,383.20 L367.25,383.20 L367.85,383.20 L368.45,383.20 L369.05,383.18 L369.65,383.16 L370.25,383.11 L370.84,383.04 L371.43,382.92 L372.01,382.78 L372.59,382.61 L373.15,382.42 L373.72,382.21 L374.27,381.99 L374.83,381.75 L375.37,381.51 L375.91,381.24 L376.44,380.96 L376.96,380.66 L377.46,380.34 L377.96,380.01 L378.44,379.65 L378.90,379.27 L379.34,378.86 L379.75,378.42 L380.14,377.97 L380.50,377.49 L380.84,376.99 L381.15,376.48 L381.45,375.96 L381.74,375.44 L382.02,374.91 L382.28,374.37 L382.55,373.83 L382.80,373.29 L383.05,372.74 L383.29,372.19 L383.53,371.64 L383.75,371.09 L383.97,370.53 L384.19,369.97 L384.40,369.41 L384.60,368.85 L384.80,368.28 L385.00,367.72 L385.20,367.15 L385.40,366.58 L385.59,366.02 L385.79,365.45 L385.99,364.89 L386.19,364.32 L386.39,363.76 L386.60,363.20 L386.80,362.63 L387.01,362.07 L387.22,361.51 L387.42,360.95 L387.63,360.38 L387.84,359.82 L388.04,359.26 L388.24,358.69 L388.44,358.13 L388.64,357.56 L388.84,357.00 L389.03,356.43 L389.22,355.86 L389.40,355.29 L389.58,354.72 L389.76,354.15 L389.94,353.57 L390.11,353.00 L390.29,352.43 L390.46,351.85 L390.62,351.28 L390.79,350.70 L390.95,350.12 L391.12,349.55 L391.28,348.97 L391.43,348.39 L391.59,347.81 L391.74,347.23 L391.89,346.65 L392.03,346.07 L392.17,345.49 L392.31,344.91 L392.45,344.32 L392.58,343.74 L392.70,343.15 L392.82,342.56 L392.94,341.98 L393.06,341.39 L393.17,340.80 L393.28,340.21 L393.39,339.62 L393.50,339.03 L393.60,338.44 L393.71,337.85 L393.82,337.26 L393.93,336.67 L394.04,336.08 L394.16,335.50 L394.28,334.91 L394.40,334.32 L394.52,333.74 L394.66,333.15 L394.79,332.57 L394.94,331.99 L395.09,331.41 L395.24,330.83 L395.41,330.25 L395.57,329.68 L395.75,329.10 L395.93,328.53 L396.12,327.96 L396.31,327.40 L396.51,326.83 L396.72,326.27 L396.93,325.71 L397.14,325.15 L397.37,324.59 L397.59,324.04 L397.82,323.48 L398.05,322.93 L398.27,322.37 L398.50,321.82 L398.72,321.26 L398.93,320.70 L399.16,320.14 L399.39,319.59 L399.64,319.05 L399.91,318.51 L400.24,318.01 L400.63,317.56 L401.12,317.22 L401.69,317.03 L402.28,316.95 L402.88,316.92 L403.48,316.92 L404.08,316.94 L404.67,317.00 L405.26,317.13 L405.80,317.37 L406.29,317.72 L406.71,318.15 L407.09,318.61 L407.44,319.10 L407.77,319.59 L408.11,320.09 L408.44,320.59 L408.78,321.08 L409.14,321.56 L409.50,322.04 L409.86,322.52 L410.22,323.00 L410.59,323.47 L410.95,323.95 L411.31,324.43 L411.66,324.91 L412.02,325.39 L412.38,325.87 L412.74,326.36 L413.09,326.84 L413.45,327.32 L413.80,327.80 L414.15,328.29 L414.51,328.77 L414.86,329.26 L415.22,329.74 L415.58,330.22 L415.94,330.69 L416.31,331.17 L416.68,331.64 L417.05,332.11 L417.43,332.57 L417.81,333.03 L418.20,333.49 L418.59,333.95 L418.99,334.39 L419.39,334.84 L419.79,335.28 L420.20,335.72 L420.61,336.16 L421.02,336.60 L421.43,337.03 L421.86,337.45 L422.30,337.85 L422.79,338.21 L423.32,338.48 L423.90,338.63 L424.49,338.63 L425.08,338.51 L425.64,338.30 L426.18,338.03 L426.68,337.71 L427.16,337.35 L427.59,336.93 L427.97,336.47 L428.30,335.97 L428.58,335.44 L428.83,334.89 L429.05,334.34 L429.25,333.77 L429.44,333.20 L429.62,332.63 L429.79,332.06 L429.96,331.48 L430.12,330.91 L430.29,330.33 L430.44,329.75 L430.60,329.17 L430.75,328.59 L430.90,328.01 L431.05,327.43 L431.19,326.85 L431.33,326.27 L431.46,325.68 L431.59,325.10 L431.72,324.51 L431.85,323.93 L431.98,323.34 L432.10,322.75 L432.22,322.17 L432.33,321.58 L432.45,320.99 L432.56,320.40 L432.68,319.81 L432.79,319.22 L432.90,318.64 L433.00,318.05 L433.11,317.46 L433.22,316.87 L433.32,316.28 L433.43,315.69 L433.53,315.10 L433.64,314.51 L433.74,313.92 L433.84,313.33 L433.95,312.74 L434.05,312.15 L434.15,311.56 L434.26,310.96 L434.36,310.37 L434.47,309.79 L434.57,309.20 L434.68,308.61 L434.79,308.02 L434.89,307.43 L435.00,306.84 L435.10,306.25 L435.21,305.66 L435.31,305.07 L435.41,304.48 L435.52,303.88 L435.62,303.29 L435.72,302.70 L435.82,302.11 L435.92,301.52 L436.01,300.93 L436.11,300.34 L436.21,299.75 L436.31,299.16 L436.40,298.56 L436.50,297.97 L436.60,297.38 L436.69,296.79 L436.79,296.20 L436.88,295.61 L436.98,295.02 L437.07,294.42 L437.17,293.83 L437.26,293.24 L437.36,292.65 L437.45,292.06 L437.55,291.47 L437.65,290.87 L437.74,290.28 L437.84,289.69 L437.94,289.10 L438.03,288.51 L438.13,287.92 L438.23,287.33 L438.33,286.73 L438.43,286.14 L438.52,285.55 L438.62,284.96 L438.72,284.37 L438.82,283.78 L438.92,283.19 L439.02,282.60 L439.11,282.00 L439.21,281.41 L439.30,280.82 L439.40,280.23 L439.50,279.64 L439.59,279.05 L439.69,278.46 L439.78,277.86 L439.88,277.27 L439.98,276.68 L440.07,276.09 L440.17,275.50 L440.27,274.91 L440.36,274.32 L440.46,273.72 L440.56,273.13 L440.66,272.54 L440.76,271.95 L440.86,271.36 L440.96,270.77 L441.06,270.18 L441.17,269.59 L441.27,269.00 L441.37,268.41 L441.48,267.82 L441.59,267.23 L441.70,266.64 L441.81,266.05 L441.92,265.46 L442.03,264.87 L442.15,264.29 L442.26,263.70 L442.38,263.11 L442.51,262.52 L442.63,261.94 L442.76,261.35 L442.89,260.77 L443.02,260.18 L443.16,259.60 L443.30,259.02 L443.44,258.43 L443.58,257.85 L443.72,257.27 L443.86,256.69 L444.00,256.10 L444.14,255.52 L444.28,254.94 L444.41,254.35 L444.55,253.77 L444.68,253.19 L444.81,252.60 L444.94,252.01 L445.06,251.43 L445.19,250.84 L445.32,250.26 L445.45,249.67 L445.58,249.09 L445.71,248.50 L445.85,247.92 L445.99,247.34 L446.14,246.76 L446.29,246.18 L446.44,245.60 L446.59,245.02 L446.75,244.44 L446.91,243.86 L447.08,243.29 L447.25,242.71 L447.43,242.14 L447.62,241.57 L447.82,241.01 L448.03,240.45 L448.25,239.89 L448.49,239.34 L448.73,238.79 L448.97,238.24 L449.23,237.70 L449.51,237.17 L449.80,236.65 L450.13,236.14 L450.49,235.67 L450.92,235.26 L451.43,234.94 L452.01,234.78 L452.61,234.74 L453.20,234.79 L453.80,234.88 L454.38,234.99 L454.97,235.13 L455.54,235.30 L456.11,235.50 L456.65,235.75 L457.16,236.06 L457.64,236.42 L458.09,236.82 L458.50,237.25 L458.90,237.70 L459.29,238.16 L459.66,238.63 L460.04,239.09 L460.41,239.56 L460.78,240.03 L461.15,240.51 L461.51,240.98 L461.87,241.46 L462.22,241.95 L462.57,242.44 L462.91,242.93 L463.25,243.43 L463.58,243.92 L463.91,244.42 L464.24,244.92 L464.57,245.42 L464.90,245.93 L465.22,246.43 L465.55,246.93 L465.87,247.44 L466.18,247.95 L466.50,248.46 L466.81,248.97 L467.12,249.48 L467.43,249.99 L467.75,250.51 L468.06,251.02 L468.37,251.53 L468.68,252.04 L468.99,252.55 L469.30,253.07 L469.62,253.58 L469.93,254.09 L470.24,254.60 L470.55,255.11 L470.86,255.63 L471.17,256.14 L471.48,256.65 L471.80,257.16 L472.11,257.67 L472.42,258.18 L472.74,258.69 L473.05,259.20 L473.37,259.71 L473.68,260.22 L473.99,260.73 L474.31,261.24 L474.63,261.75 L474.94,262.26 L475.26,262.77 L475.58,263.28 L475.90,263.79 L476.21,264.29 L476.53,264.80 L476.85,265.31 L477.17,265.81 L477.50,266.32 L477.82,266.82 L478.14,267.33 L478.47,267.83 L478.80,268.33 L479.13,268.83 L479.46,269.33 L479.78,269.83 L480.12,270.33 L480.45,270.83 L480.78,271.33 L481.11,271.83 L481.44,272.33 L481.78,272.83 L482.11,273.32 L482.45,273.82 L482.79,274.32 L483.13,274.81 L483.47,275.30 L483.81,275.79 L484.16,276.28 L484.51,276.77 L484.86,277.26 L485.21,277.74 L485.56,278.22 L485.92,278.70 L486.28,279.18 L486.65,279.66 L487.01,280.14 L487.38,280.61 L487.74,281.08 L488.11,281.55 L488.49,282.02 L488.86,282.49 L489.23,282.96 L489.61,283.43 L489.99,283.89 L490.37,284.35 L490.75,284.81 L491.14,285.27 L491.53,285.73 L491.92,286.18 L492.31,286.64 L492.71,287.09 L493.10,287.54 L493.50,287.98 L493.91,288.42 L494.31,288.87 L494.72,289.30 L495.13,289.74 L495.55,290.17 L495.96,290.61 L496.38,291.03 L496.80,291.46 L497.22,291.88 L497.65,292.31 L498.08,292.73 L498.51,293.14 L498.94,293.56 L499.38,293.97 L499.82,294.37 L500.26,294.78 L500.70,295.18 L501.15,295.58 L501.60,295.98 L502.05,296.37 L502.50,296.76 L502.96,297.15 L503.42,297.54 L503.88,297.92 L504.35,298.30 L504.82,298.67 L505.29,299.04 L505.76,299.41 L506.23,299.78 L506.71,300.14 L507.19,300.50 L507.67,300.85 L508.16,301.21 L508.65,301.55 L509.14,301.90 L509.63,302.24 L510.12,302.58 L510.62,302.92 L511.12,303.25 L511.62,303.58 L512.12,303.90 L512.63,304.22 L513.14,304.54 L513.65,304.86 L514.16,305.17 L514.67,305.47 L515.19,305.78 L515.71,306.07 L516.23,306.37 L516.75,306.66 L517.28,306.95 L517.81,307.24 L518.33,307.52 L518.87,307.80 L519.40,308.07 L519.93,308.35 L520.47,308.61 L521.00,308.88 L521.54,309.14 L522.08,309.40 L522.63,309.66 L523.17,309.91 L523.72,310.16 L524.26,310.40 L524.81,310.64 L525.36,310.88 L525.91,311.12 L526.46,311.35 L527.02,311.58 L527.57,311.80 L528.13,312.03 L528.69,312.25 L529.24,312.47 L529.80,312.69 L530.36,312.90 L530.92,313.11 L531.48,313.32 L532.04,313.53 L532.61,313.74 L533.17,313.94 L533.74,314.14 L534.30,314.34 L534.87,314.53 L535.44,314.73 L536.00,314.92 L536.57,315.11 L537.14,315.30 L537.71,315.48 L538.28,315.67 L538.85,315.86 L539.42,316.04 L539.99,316.23 L540.56,316.41 L541.13,316.59 L541.70,316.78 L542.27,316.96 L542.84,317.14 L543.42,317.32 L543.99,317.49 L544.56,317.67 L545.13,317.85 L545.71,318.02 L546.28,318.20 L546.85,318.38 L547.42,318.55 L548.00,318.73 L548.57,318.91 L549.14,319.09 L549.71,319.27 L550.28,319.45 L550.85,319.63 L551.42,319.82 L551.99,320.00 L552.56,320.19 L553.13,320.38 L553.70,320.56 L554.27,320.75 L554.84,320.94 L555.41,321.13 L555.98,321.32 L556.55,321.51" fill="none" stroke="#00f" stroke-width="1.9" stroke-dasharray="8 4.2 1.3 4.2" stroke-linejoin="round" stroke-linecap="butt"/></g>
<path d="M55.4,6.0 H282.0 V187.4 H55.4 Z" fill="none" stroke="#000" stroke-width="1.2"/>
<path d="M335.6,6.0 H562.4 V187.4 H335.6 Z" fill="none" stroke="#000" stroke-width="1.2"/>
<path d="M55.4,215.4 H282.0 V396.6 H55.4 Z" fill="none" stroke="#000" stroke-width="1.2"/>
<path d="M335.6,215.4 H562.4 V396.8 H335.6 Z" fill="none" stroke="#000" stroke-width="1.2"/>
<path d="M55.40,187.4 v3.4 M168.70,187.4 v3.4 M282.00,187.4 v3.4 M112.05,187.4 v2.2 M225.35,187.4 v2.2 M55.4,6.00 h-3.4 M55.4,91.90 h-3.4 M55.4,177.70 h-3.4 M55.4,48.95 h-2.2 M55.4,134.80 h-2.2" stroke="#000" stroke-width="1.1" fill="none"/>
<path d="M335.60,187.4 v3.4 M449.00,187.4 v3.4 M562.40,187.4 v3.4 M392.30,187.4 v2.2 M505.70,187.4 v2.2 M335.6,6.00 h-3.4 M335.6,91.90 h-3.4 M335.6,177.70 h-3.4 M335.6,48.95 h-2.2 M335.6,134.80 h-2.2" stroke="#000" stroke-width="1.1" fill="none"/>
<path d="M55.40,396.6 v3.4 M168.70,396.6 v3.4 M282.00,396.6 v3.4 M112.05,396.6 v2.2 M225.35,396.6 v2.2 M55.4,220.30 h-3.4 M55.4,279.30 h-3.4 M55.4,338.30 h-3.4 M55.4,396.60 h-3.4 M55.4,249.80 h-2.2 M55.4,308.80 h-2.2 M55.4,367.45 h-2.2" stroke="#000" stroke-width="1.1" fill="none"/>
<path d="M335.60,396.8 v3.4 M449.00,396.8 v3.4 M562.40,396.8 v3.4 M392.30,396.8 v2.2 M505.70,396.8 v2.2 M335.6,222.20 h-3.4 M335.6,302.60 h-3.4 M335.6,383.10 h-3.4 M335.6,262.40 h-2.2 M335.6,342.85 h-2.2" stroke="#000" stroke-width="1.1" fill="none"/>
<g font-family="Liberation Serif, serif" fill="#000" stroke="#000" stroke-width="0.2"><text x="49.20" y="10.20" font-size="14.5" text-anchor="end" >0.18</text><text x="49.20" y="96.10" font-size="14.5" text-anchor="end" >0.09</text><text x="49.20" y="181.90" font-size="14.5" text-anchor="end" >0.00</text><text x="329.40" y="10.20" font-size="14.5" text-anchor="end" >0.18</text><text x="329.40" y="96.10" font-size="14.5" text-anchor="end" >0.09</text><text x="329.40" y="181.90" font-size="14.5" text-anchor="end" >0.00</text><text x="49.20" y="224.50" font-size="14.5" text-anchor="end" >0.12</text><text x="49.20" y="283.50" font-size="14.5" text-anchor="end" >0.06</text><text x="49.20" y="342.50" font-size="14.5" text-anchor="end" >0.00</text><text x="49.20" y="400.80" font-size="14.5" text-anchor="end" >-0.06</text><text x="329.40" y="226.40" font-size="14.5" text-anchor="end" >0.12</text><text x="329.40" y="306.80" font-size="14.5" text-anchor="end" >0.06</text><text x="329.40" y="387.30" font-size="14.5" text-anchor="end" >0.00</text><text x="55.40" y="204.10" font-size="14.5" text-anchor="middle" >0.0</text><text x="168.70" y="204.10" font-size="14.5" text-anchor="middle" >0.7</text><text x="282.00" y="204.10" font-size="14.5" text-anchor="middle" >1.4</text><text x="335.60" y="204.10" font-size="14.5" text-anchor="middle" >0.0</text><text x="449.00" y="204.10" font-size="14.5" text-anchor="middle" >0.7</text><text x="562.40" y="204.10" font-size="14.5" text-anchor="middle" >1.4</text><text x="55.40" y="413.80" font-size="14.5" text-anchor="middle" >0.0</text><text x="168.70" y="413.80" font-size="14.5" text-anchor="middle" >0.7</text><text x="282.00" y="413.80" font-size="14.5" text-anchor="middle" >1.4</text><text x="335.60" y="413.80" font-size="14.5" text-anchor="middle" >0.0</text><text x="449.00" y="413.80" font-size="14.5" text-anchor="middle" >0.7</text><text x="562.40" y="413.80" font-size="14.5" text-anchor="middle" >1.4</text></g>
<path d="M190,26.6 H220.2" stroke="#000" stroke-width="1"/>
<rect x="201.40" y="22.70" width="7.8" height="7.8" fill="#fff" stroke="#000" stroke-width="0.9"/>
<path d="M190,43.5 H220.2" stroke="#f00" stroke-width="1"/>
<circle cx="205.30" cy="43.50" r="4.4" fill="#fff" stroke="#f00" stroke-width="0.9"/>
<path d="M190,60.6 H220.2" stroke="#00f" stroke-width="1"/>
<circle cx="205.30" cy="60.60" r="4.4" fill="#00f"/>
<path d="M489,22.6 H519.8" stroke="#008000" stroke-width="1.2"/>
<rect x="500.30" y="18.60" width="8.0" height="8.0" fill="#008000" stroke="#008000" stroke-width="0.5"/>
<path d="M489,39.5 H519.8" stroke="#f00" stroke-width="1.2"/>
<rect x="500.30" y="35.50" width="8.0" height="8.0" fill="#fff" stroke="#f00" stroke-width="1.0"/>
<path d="M489,56.6 H519.8" stroke="#00f" stroke-width="1.2"/>
<circle cx="504.30" cy="56.60" r="4.0" fill="#fff" stroke="#00f" stroke-width="1.0"/>
<path d="M489,73.4 H519.8" stroke="#ff8000" stroke-width="1.2"/>
<path d="M504.30,68.60 L509.10,73.40 L504.30,78.20 L499.50,73.40 Z" fill="#fff" stroke="#ff8000" stroke-width="1.0"/>
<path d="M489,90.6 H519.8" stroke="#000" stroke-width="1.2"/>
<circle cx="504.30" cy="90.60" r="4.0" fill="#000"/>
<path d="M199.5,332.3 H231.5" stroke="#00f" stroke-width="1.9"/>
<path d="M199.5,349.0 H231.5" stroke="#f00" stroke-width="1.9" stroke-dasharray="6.9 5.5"/>
<path d="M199.5,366.1 H231.5" stroke="#008000" stroke-width="1.9" stroke-dasharray="1.6 1.6"/>
<path d="M199.5,383.3 H231.5" stroke="#000" stroke-width="1.9" stroke-dasharray="7.8 3.7 1.2 3.7"/>
<path d="M485.4,344.7 H516.2" stroke="#000" stroke-width="1.9"/>
<path d="M485.4,361.3 H516.2" stroke="#f00" stroke-width="1.9" stroke-dasharray="6.9 5.5"/>
<path d="M485.4,378.4 H516.2" stroke="#00f" stroke-width="1.9" stroke-dasharray="7.8 3.7 1.2 3.7"/>
<path d="M114.1,265.0 V275.5" stroke="#000" stroke-width="1.5"/><path d="M114.1,286.2 L108.3,271.7 L114.1,275.5 L119.89999999999999,271.7 Z" fill="#000"/>
<path d="M162.9,323.8 V301.0" stroke="#000" stroke-width="1.5"/><path d="M162.9,290.3 L157.1,304.8 L162.9,301.0 L168.70000000000002,304.8 Z" fill="#000"/>
<path d="M399.1,288.0 V298.3" stroke="#000" stroke-width="1.5"/><path d="M399.1,309.0 L393.3,294.5 L399.1,298.3 L404.90000000000003,294.5 Z" fill="#000"/>
<path d="M454.2,317.5 V296.4" stroke="#000" stroke-width="1.5"/><path d="M454.2,285.7 L448.4,300.2 L454.2,296.4 L460.0,300.2 Z" fill="#000"/>
<g font-family="Liberation Serif, serif" fill="#000" stroke="#000" stroke-width="0.2"><text x="76.50" y="32.80" font-size="15.5" text-anchor="start" >(a)</text><text x="359.70" y="34.60" font-size="15.5" text-anchor="start" >(b)</text><text x="75.70" y="241.60" font-size="15.5" text-anchor="start" >(c)</text><text x="351.30" y="237.50" font-size="15.5" text-anchor="start" >(d)</text><text x="69.50" y="96.60" font-size="13.7" text-anchor="start" >Δ=0</text><text x="69.60" y="115.50" font-size="13.7" text-anchor="start" >ε=0.1</text><text x="348.40" y="84.70" font-size="13.7" text-anchor="start" >Δ=0</text><text x="348.30" y="103.80" font-size="13.7" text-anchor="start" >ϕ=0.1π</text><text x="215.40" y="239.60" font-size="13.7" text-anchor="start" >Δ=0.28 eV</text><text x="215.80" y="258.90" font-size="13.7" text-anchor="start" >ε=0.1</text><text x="495.40" y="239.60" font-size="13.7" text-anchor="start" >Δ=0.28 eV</text><text x="495.30" y="258.90" font-size="13.7" text-anchor="start" >ϕ=0.1π</text><text x="108.60" y="256.10" font-size="15.5" text-anchor="start" >K</text><text x="157.10" y="342.80" font-size="15.5" text-anchor="start" >K'</text><text x="393.70" y="278.80" font-size="15.5" text-anchor="start" >K</text><text x="448.80" y="335.80" font-size="15.5" text-anchor="start" >K'</text><text x="223.20" y="30.90" font-size="13.6" text-anchor="start" >ϕ=0.02π</text><text x="223.20" y="47.80" font-size="13.6" text-anchor="start" >ϕ=0.05π</text><text x="223.20" y="64.90" font-size="13.6" text-anchor="start" >ϕ=0.1π</text><text x="522.40" y="26.90" font-size="13.6" text-anchor="start" >ε=0.05</text><text x="522.40" y="43.80" font-size="13.6" text-anchor="start" >ε=0.1</text><text x="522.40" y="60.90" font-size="13.6" text-anchor="start" >ε=0.15</text><text x="522.40" y="77.70" font-size="13.6" text-anchor="start" >ε=0.19</text><text x="522.40" y="94.90" font-size="13.6" text-anchor="start" >ε=0.2</text><text x="233.90" y="336.60" font-size="13.6" text-anchor="start" >ϕ=0.05π</text><text x="233.90" y="353.30" font-size="13.6" text-anchor="start" >ϕ=0.07π</text><text x="233.90" y="370.40" font-size="13.6" text-anchor="start" >ϕ=0.08π</text><text x="233.90" y="387.60" font-size="13.6" text-anchor="start" >ϕ=0.1π</text><text x="519.60" y="349.00" font-size="13.6" text-anchor="start" >ε=0.05</text><text x="519.60" y="365.60" font-size="13.6" text-anchor="start" >ε=0.1</text><text x="519.60" y="382.70" font-size="13.6" text-anchor="start" >ε=0.15</text><text x="0" y="0" font-size="15" letter-spacing="0.3" transform="translate(12.6,279.3) rotate(-90)">Total Nernst Coefficient [α<tspan font-size="10" dy="3.5">0</tspan><tspan dy="-3.5">]</tspan></text><text x="293.0" y="429.5" font-size="14.5">E<tspan font-size="10" font-style="italic" dy="6.3">f</tspan><tspan dy="-6.3"> [eV]</tspan></text></g>
</svg>
</body></html>
